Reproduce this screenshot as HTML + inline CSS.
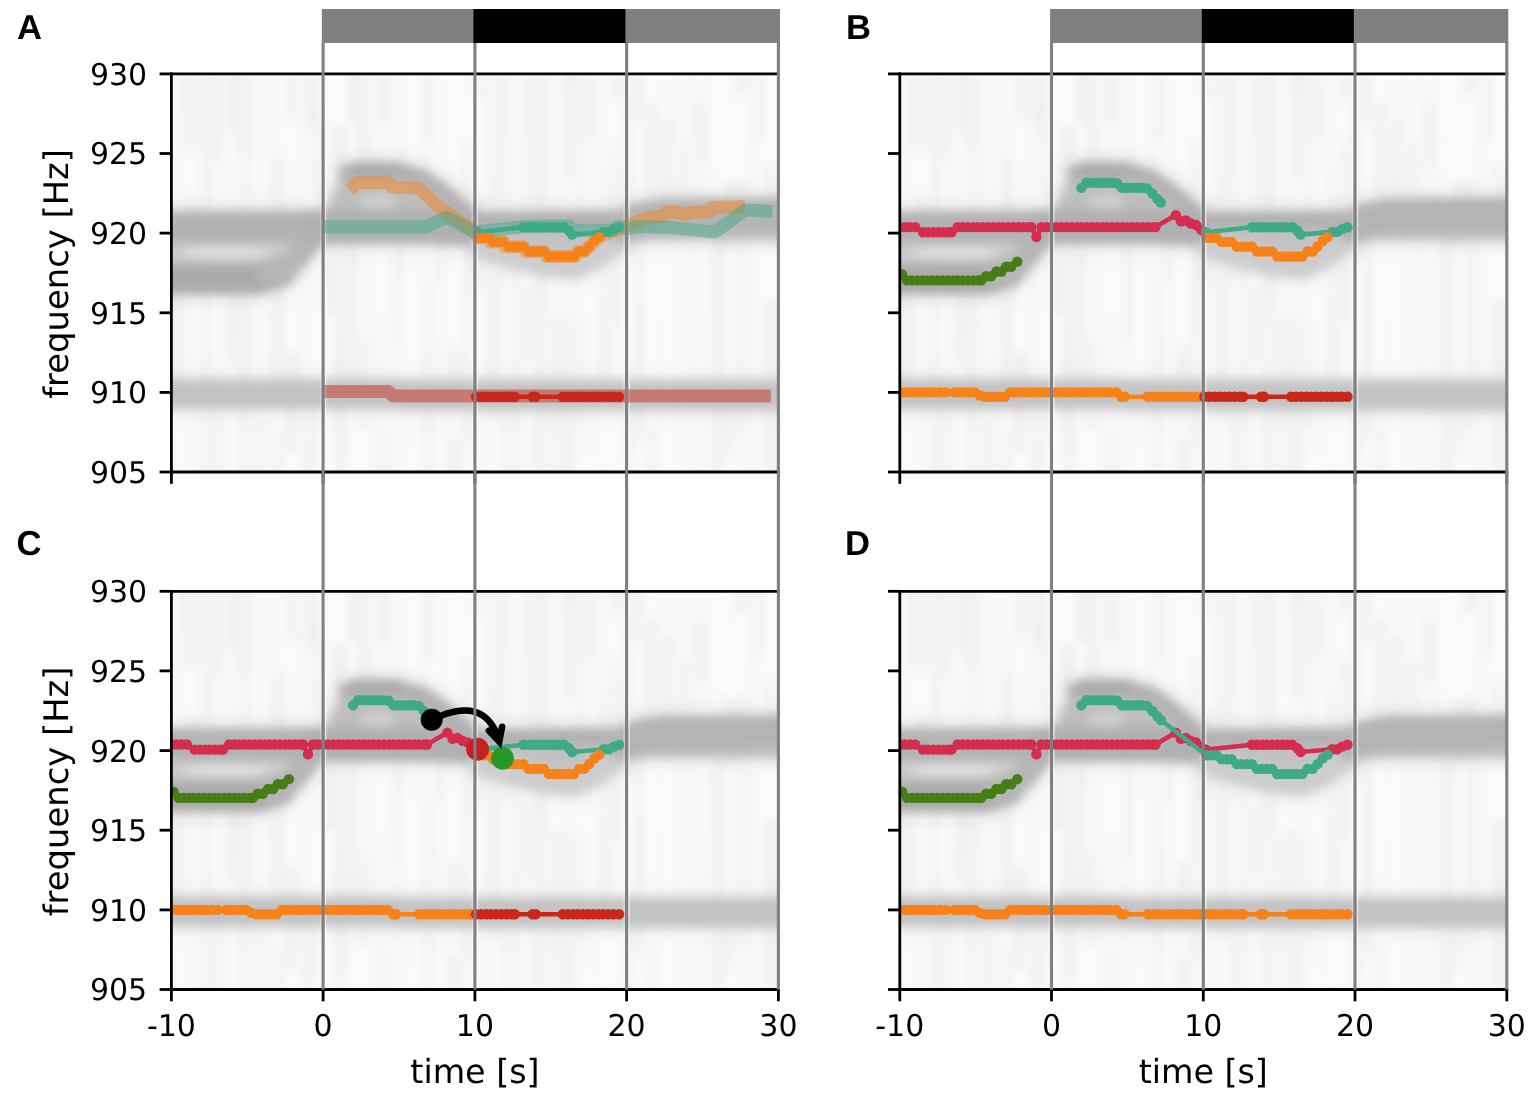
<!DOCTYPE html>
<html><head><meta charset="utf-8"><style>
html,body{margin:0;padding:0;background:#fff;width:1535px;height:1096px;overflow:hidden}
svg{display:block;text-rendering:geometricPrecision}
</style></head><body>
<svg width="1535" height="1096" viewBox="0 0 1535 1096">
<defs>
<filter id="blur" x="-10%" y="-20%" width="120%" height="140%"><feGaussianBlur stdDeviation="4.6"/></filter>
<filter id="blur2" x="-10%" y="-30%" width="120%" height="160%"><feGaussianBlur stdDeviation="11.0"/></filter>
<clipPath id="clipA"><rect x="171.4" y="73.9" width="607.0" height="398.1"/></clipPath>
<clipPath id="clipB"><rect x="899.8" y="73.9" width="607.0" height="398.1"/></clipPath>
<clipPath id="clipC"><rect x="171.4" y="591.3" width="607.0" height="398.2"/></clipPath>
<clipPath id="clipD"><rect x="899.8" y="591.3" width="607.0" height="398.2"/></clipPath>
</defs>
<rect width="1535" height="1096" fill="#fff"/>
<g clip-path="url(#clipA)">
<rect x="171.4" y="73.9" width="607.0" height="398.1" fill="#f7f7f7"/>
<g filter="url(#blur)">
<rect x="168.4" y="53.9" width="7.0" height="54.1" fill="#fcfcfc"/>
<rect x="168.4" y="107.5" width="7.0" height="44.8" fill="#fbfbfb"/>
<rect x="168.4" y="151.8" width="7.0" height="49.0" fill="#fbfbfb"/>
<rect x="168.4" y="200.3" width="7.0" height="45.7" fill="#fbfbfb"/>
<rect x="168.4" y="245.5" width="7.0" height="59.8" fill="#efefef"/>
<rect x="168.4" y="304.8" width="7.0" height="79.5" fill="#efefef"/>
<rect x="168.4" y="383.9" width="7.0" height="62.2" fill="#fbfbfb"/>
<rect x="168.4" y="445.5" width="7.0" height="78.7" fill="#fbfbfb"/>
<rect x="178.1" y="53.9" width="6.2" height="97.0" fill="#efefef"/>
<rect x="178.1" y="150.4" width="6.2" height="92.4" fill="#f9f9f9"/>
<rect x="178.1" y="242.3" width="6.2" height="45.0" fill="#f1f1f1"/>
<rect x="178.1" y="286.8" width="6.2" height="44.7" fill="#f1f1f1"/>
<rect x="178.1" y="331.0" width="6.2" height="66.6" fill="#f1f1f1"/>
<rect x="178.1" y="397.0" width="6.2" height="89.2" fill="#fbfbfb"/>
<rect x="178.1" y="485.7" width="6.2" height="68.3" fill="#fcfcfc"/>
<rect x="188.5" y="53.9" width="9.0" height="98.0" fill="#f3f3f3"/>
<rect x="188.5" y="151.4" width="9.0" height="49.3" fill="#fcfcfc"/>
<rect x="188.5" y="200.2" width="9.0" height="46.2" fill="#efefef"/>
<rect x="188.5" y="245.8" width="9.0" height="96.2" fill="#f9f9f9"/>
<rect x="188.5" y="341.5" width="9.0" height="101.7" fill="#f9f9f9"/>
<rect x="188.5" y="442.8" width="9.0" height="110.5" fill="#f9f9f9"/>
<rect x="203.5" y="53.9" width="8.0" height="67.5" fill="#f1f1f1"/>
<rect x="203.5" y="120.9" width="8.0" height="103.4" fill="#f1f1f1"/>
<rect x="203.5" y="223.8" width="8.0" height="47.9" fill="#f3f3f3"/>
<rect x="203.5" y="271.2" width="8.0" height="87.8" fill="#f3f3f3"/>
<rect x="203.5" y="358.4" width="8.0" height="106.2" fill="#f3f3f3"/>
<rect x="203.5" y="464.1" width="8.0" height="95.3" fill="#efefef"/>
<rect x="213.2" y="53.9" width="7.7" height="108.6" fill="#f1f1f1"/>
<rect x="213.2" y="162.0" width="7.7" height="124.5" fill="#f9f9f9"/>
<rect x="213.2" y="286.0" width="7.7" height="44.0" fill="#fcfcfc"/>
<rect x="213.2" y="329.6" width="7.7" height="47.5" fill="#fbfbfb"/>
<rect x="213.2" y="376.6" width="7.7" height="92.1" fill="#f3f3f3"/>
<rect x="213.2" y="468.1" width="7.7" height="71.1" fill="#f3f3f3"/>
<rect x="228.3" y="53.9" width="9.0" height="81.6" fill="#efefef"/>
<rect x="228.3" y="135.0" width="9.0" height="125.5" fill="#f9f9f9"/>
<rect x="228.3" y="260.0" width="9.0" height="103.2" fill="#efefef"/>
<rect x="228.3" y="362.7" width="9.0" height="46.0" fill="#fcfcfc"/>
<rect x="228.3" y="408.2" width="9.0" height="68.4" fill="#fbfbfb"/>
<rect x="228.3" y="476.0" width="9.0" height="129.9" fill="#f9f9f9"/>
<rect x="239.9" y="53.9" width="7.5" height="100.7" fill="#efefef"/>
<rect x="239.9" y="154.1" width="7.5" height="125.2" fill="#f3f3f3"/>
<rect x="239.9" y="278.7" width="7.5" height="55.6" fill="#efefef"/>
<rect x="239.9" y="333.9" width="7.5" height="84.9" fill="#f1f1f1"/>
<rect x="239.9" y="418.3" width="7.5" height="109.6" fill="#f1f1f1"/>
<rect x="256.7" y="53.9" width="7.6" height="123.0" fill="#f9f9f9"/>
<rect x="256.7" y="176.4" width="7.6" height="47.8" fill="#f9f9f9"/>
<rect x="256.7" y="223.7" width="7.6" height="76.6" fill="#f3f3f3"/>
<rect x="256.7" y="299.8" width="7.6" height="120.0" fill="#f9f9f9"/>
<rect x="256.7" y="419.3" width="7.6" height="118.3" fill="#f3f3f3"/>
<rect x="273.1" y="53.9" width="12.0" height="101.9" fill="#f9f9f9"/>
<rect x="273.1" y="155.3" width="12.0" height="126.7" fill="#f1f1f1"/>
<rect x="273.1" y="281.5" width="12.0" height="48.0" fill="#f1f1f1"/>
<rect x="273.1" y="329.0" width="12.0" height="61.4" fill="#f1f1f1"/>
<rect x="273.1" y="389.9" width="12.0" height="41.6" fill="#fbfbfb"/>
<rect x="273.1" y="431.0" width="12.0" height="56.9" fill="#f3f3f3"/>
<rect x="273.1" y="487.4" width="12.0" height="40.9" fill="#f9f9f9"/>
<rect x="287.5" y="53.9" width="9.2" height="69.2" fill="#f1f1f1"/>
<rect x="287.5" y="122.6" width="9.2" height="102.6" fill="#fbfbfb"/>
<rect x="287.5" y="224.7" width="9.2" height="126.0" fill="#fcfcfc"/>
<rect x="287.5" y="350.2" width="9.2" height="101.4" fill="#efefef"/>
<rect x="287.5" y="451.1" width="9.2" height="81.6" fill="#fcfcfc"/>
<rect x="304.9" y="53.9" width="7.5" height="76.4" fill="#efefef"/>
<rect x="304.9" y="129.8" width="7.5" height="83.8" fill="#f9f9f9"/>
<rect x="304.9" y="213.1" width="7.5" height="46.1" fill="#efefef"/>
<rect x="304.9" y="258.7" width="7.5" height="129.1" fill="#f9f9f9"/>
<rect x="304.9" y="387.4" width="7.5" height="55.1" fill="#f3f3f3"/>
<rect x="304.9" y="442.0" width="7.5" height="94.6" fill="#efefef"/>
<rect x="313.3" y="53.9" width="5.7" height="49.6" fill="#f3f3f3"/>
<rect x="313.3" y="103.0" width="5.7" height="95.7" fill="#efefef"/>
<rect x="313.3" y="198.3" width="5.7" height="119.2" fill="#fbfbfb"/>
<rect x="313.3" y="317.0" width="5.7" height="74.4" fill="#fcfcfc"/>
<rect x="313.3" y="390.8" width="5.7" height="63.2" fill="#f3f3f3"/>
<rect x="313.3" y="453.5" width="5.7" height="94.7" fill="#f9f9f9"/>
<rect x="323.0" y="53.9" width="11.0" height="129.9" fill="#f9f9f9"/>
<rect x="323.0" y="183.3" width="11.0" height="83.7" fill="#f3f3f3"/>
<rect x="323.0" y="266.5" width="11.0" height="48.2" fill="#efefef"/>
<rect x="323.0" y="314.2" width="11.0" height="108.0" fill="#fcfcfc"/>
<rect x="323.0" y="421.7" width="11.0" height="64.3" fill="#fcfcfc"/>
<rect x="323.0" y="485.5" width="11.0" height="55.0" fill="#efefef"/>
<rect x="333.7" y="53.9" width="11.8" height="73.1" fill="#fcfcfc"/>
<rect x="333.7" y="126.5" width="11.8" height="89.4" fill="#efefef"/>
<rect x="333.7" y="215.3" width="11.8" height="108.7" fill="#f3f3f3"/>
<rect x="333.7" y="323.6" width="11.8" height="128.6" fill="#efefef"/>
<rect x="333.7" y="451.6" width="11.8" height="103.2" fill="#f3f3f3"/>
<rect x="347.9" y="53.9" width="11.4" height="72.5" fill="#f1f1f1"/>
<rect x="347.9" y="125.9" width="11.4" height="88.4" fill="#fbfbfb"/>
<rect x="347.9" y="213.8" width="11.4" height="70.2" fill="#f1f1f1"/>
<rect x="347.9" y="283.5" width="11.4" height="95.7" fill="#f1f1f1"/>
<rect x="347.9" y="378.7" width="11.4" height="113.0" fill="#f9f9f9"/>
<rect x="347.9" y="491.3" width="11.4" height="107.1" fill="#f1f1f1"/>
<rect x="358.6" y="53.9" width="8.3" height="106.3" fill="#efefef"/>
<rect x="358.6" y="159.7" width="8.3" height="111.6" fill="#f9f9f9"/>
<rect x="358.6" y="270.8" width="8.3" height="63.8" fill="#fcfcfc"/>
<rect x="358.6" y="334.1" width="8.3" height="95.0" fill="#f3f3f3"/>
<rect x="358.6" y="428.6" width="8.3" height="80.8" fill="#fcfcfc"/>
<rect x="378.1" y="53.9" width="11.8" height="73.3" fill="#f1f1f1"/>
<rect x="378.1" y="126.7" width="11.8" height="49.7" fill="#f9f9f9"/>
<rect x="378.1" y="175.9" width="11.8" height="58.2" fill="#f1f1f1"/>
<rect x="378.1" y="233.6" width="11.8" height="83.9" fill="#fbfbfb"/>
<rect x="378.1" y="317.1" width="11.8" height="116.1" fill="#f9f9f9"/>
<rect x="378.1" y="432.7" width="11.8" height="122.3" fill="#f3f3f3"/>
<rect x="395.6" y="53.9" width="5.2" height="100.0" fill="#f9f9f9"/>
<rect x="395.6" y="153.4" width="5.2" height="110.9" fill="#f1f1f1"/>
<rect x="395.6" y="263.8" width="5.2" height="83.5" fill="#f1f1f1"/>
<rect x="395.6" y="346.8" width="5.2" height="79.6" fill="#fcfcfc"/>
<rect x="395.6" y="425.8" width="5.2" height="70.4" fill="#fcfcfc"/>
<rect x="408.4" y="53.9" width="7.6" height="125.7" fill="#fcfcfc"/>
<rect x="408.4" y="179.1" width="7.6" height="54.8" fill="#f1f1f1"/>
<rect x="408.4" y="233.4" width="7.6" height="43.0" fill="#fbfbfb"/>
<rect x="408.4" y="275.9" width="7.6" height="121.9" fill="#fcfcfc"/>
<rect x="408.4" y="397.3" width="7.6" height="53.7" fill="#fbfbfb"/>
<rect x="408.4" y="450.5" width="7.6" height="128.7" fill="#fcfcfc"/>
<rect x="427.5" y="53.9" width="5.7" height="89.8" fill="#efefef"/>
<rect x="427.5" y="143.2" width="5.7" height="41.8" fill="#fcfcfc"/>
<rect x="427.5" y="184.5" width="5.7" height="99.0" fill="#fbfbfb"/>
<rect x="427.5" y="283.0" width="5.7" height="108.0" fill="#f1f1f1"/>
<rect x="427.5" y="390.5" width="5.7" height="79.5" fill="#f1f1f1"/>
<rect x="427.5" y="469.5" width="5.7" height="114.9" fill="#f1f1f1"/>
<rect x="436.1" y="53.9" width="6.2" height="85.6" fill="#fbfbfb"/>
<rect x="436.1" y="139.0" width="6.2" height="69.8" fill="#fbfbfb"/>
<rect x="436.1" y="208.3" width="6.2" height="78.2" fill="#f1f1f1"/>
<rect x="436.1" y="286.1" width="6.2" height="46.0" fill="#fcfcfc"/>
<rect x="436.1" y="331.5" width="6.2" height="72.3" fill="#f9f9f9"/>
<rect x="436.1" y="403.4" width="6.2" height="100.1" fill="#fbfbfb"/>
<rect x="449.3" y="53.9" width="11.5" height="85.6" fill="#fbfbfb"/>
<rect x="449.3" y="139.0" width="11.5" height="54.2" fill="#fbfbfb"/>
<rect x="449.3" y="192.7" width="11.5" height="42.2" fill="#f9f9f9"/>
<rect x="449.3" y="234.4" width="11.5" height="110.4" fill="#fbfbfb"/>
<rect x="449.3" y="344.3" width="11.5" height="40.9" fill="#f1f1f1"/>
<rect x="449.3" y="384.6" width="11.5" height="56.0" fill="#f9f9f9"/>
<rect x="449.3" y="440.1" width="11.5" height="96.2" fill="#efefef"/>
<rect x="463.9" y="53.9" width="7.0" height="87.2" fill="#fbfbfb"/>
<rect x="463.9" y="140.6" width="7.0" height="83.9" fill="#efefef"/>
<rect x="463.9" y="224.0" width="7.0" height="120.0" fill="#efefef"/>
<rect x="463.9" y="343.5" width="7.0" height="62.9" fill="#f3f3f3"/>
<rect x="463.9" y="405.8" width="7.0" height="44.3" fill="#efefef"/>
<rect x="463.9" y="449.6" width="7.0" height="86.2" fill="#fbfbfb"/>
<rect x="472.6" y="53.9" width="11.3" height="46.2" fill="#f3f3f3"/>
<rect x="472.6" y="99.6" width="11.3" height="95.6" fill="#fbfbfb"/>
<rect x="472.6" y="194.7" width="11.3" height="95.1" fill="#f1f1f1"/>
<rect x="472.6" y="289.3" width="11.3" height="102.8" fill="#f9f9f9"/>
<rect x="472.6" y="391.6" width="11.3" height="86.2" fill="#f9f9f9"/>
<rect x="472.6" y="477.4" width="11.3" height="86.2" fill="#f1f1f1"/>
<rect x="488.9" y="53.9" width="11.2" height="125.3" fill="#f3f3f3"/>
<rect x="488.9" y="178.7" width="11.2" height="123.6" fill="#f1f1f1"/>
<rect x="488.9" y="301.7" width="11.2" height="116.1" fill="#f1f1f1"/>
<rect x="488.9" y="417.3" width="11.2" height="78.0" fill="#f9f9f9"/>
<rect x="502.3" y="53.9" width="5.1" height="62.2" fill="#efefef"/>
<rect x="502.3" y="115.6" width="5.1" height="59.6" fill="#f3f3f3"/>
<rect x="502.3" y="174.7" width="5.1" height="111.1" fill="#f1f1f1"/>
<rect x="502.3" y="285.3" width="5.1" height="125.1" fill="#fcfcfc"/>
<rect x="502.3" y="409.8" width="5.1" height="99.9" fill="#f1f1f1"/>
<rect x="513.5" y="53.9" width="5.6" height="82.6" fill="#fcfcfc"/>
<rect x="513.5" y="136.0" width="5.6" height="126.2" fill="#f9f9f9"/>
<rect x="513.5" y="261.7" width="5.6" height="120.1" fill="#f1f1f1"/>
<rect x="513.5" y="381.4" width="5.6" height="129.6" fill="#f1f1f1"/>
<rect x="523.7" y="53.9" width="7.8" height="86.9" fill="#f3f3f3"/>
<rect x="523.7" y="140.3" width="7.8" height="78.4" fill="#f3f3f3"/>
<rect x="523.7" y="218.2" width="7.8" height="69.2" fill="#fcfcfc"/>
<rect x="523.7" y="286.9" width="7.8" height="73.4" fill="#f3f3f3"/>
<rect x="523.7" y="359.8" width="7.8" height="90.4" fill="#f9f9f9"/>
<rect x="523.7" y="449.7" width="7.8" height="103.8" fill="#f9f9f9"/>
<rect x="535.8" y="53.9" width="9.3" height="86.6" fill="#efefef"/>
<rect x="535.8" y="140.0" width="9.3" height="50.7" fill="#f1f1f1"/>
<rect x="535.8" y="190.2" width="9.3" height="128.0" fill="#efefef"/>
<rect x="535.8" y="317.6" width="9.3" height="48.1" fill="#f3f3f3"/>
<rect x="535.8" y="365.2" width="9.3" height="44.1" fill="#f1f1f1"/>
<rect x="535.8" y="408.7" width="9.3" height="64.8" fill="#f1f1f1"/>
<rect x="535.8" y="473.1" width="9.3" height="114.3" fill="#fcfcfc"/>
<rect x="553.5" y="53.9" width="6.5" height="53.9" fill="#fbfbfb"/>
<rect x="553.5" y="107.3" width="6.5" height="91.9" fill="#fcfcfc"/>
<rect x="553.5" y="198.7" width="6.5" height="69.9" fill="#f3f3f3"/>
<rect x="553.5" y="268.1" width="6.5" height="45.7" fill="#fcfcfc"/>
<rect x="553.5" y="313.3" width="6.5" height="57.0" fill="#efefef"/>
<rect x="553.5" y="369.8" width="6.5" height="64.7" fill="#efefef"/>
<rect x="553.5" y="434.0" width="6.5" height="97.6" fill="#f3f3f3"/>
<rect x="562.8" y="53.9" width="11.0" height="46.5" fill="#efefef"/>
<rect x="562.8" y="99.9" width="11.0" height="81.3" fill="#f3f3f3"/>
<rect x="562.8" y="180.7" width="11.0" height="130.0" fill="#f9f9f9"/>
<rect x="562.8" y="310.2" width="11.0" height="123.9" fill="#f3f3f3"/>
<rect x="562.8" y="433.6" width="11.0" height="96.5" fill="#efefef"/>
<rect x="577.1" y="53.9" width="6.4" height="50.4" fill="#f1f1f1"/>
<rect x="577.1" y="103.8" width="6.4" height="64.1" fill="#f1f1f1"/>
<rect x="577.1" y="167.3" width="6.4" height="58.7" fill="#f3f3f3"/>
<rect x="577.1" y="225.5" width="6.4" height="97.1" fill="#fbfbfb"/>
<rect x="577.1" y="322.1" width="6.4" height="108.9" fill="#f3f3f3"/>
<rect x="577.1" y="430.4" width="6.4" height="80.6" fill="#fcfcfc"/>
<rect x="587.5" y="53.9" width="7.2" height="42.1" fill="#f3f3f3"/>
<rect x="587.5" y="95.5" width="7.2" height="43.8" fill="#efefef"/>
<rect x="587.5" y="138.9" width="7.2" height="106.5" fill="#fbfbfb"/>
<rect x="587.5" y="244.8" width="7.2" height="128.5" fill="#fbfbfb"/>
<rect x="587.5" y="372.9" width="7.2" height="83.2" fill="#f9f9f9"/>
<rect x="587.5" y="455.6" width="7.2" height="50.1" fill="#fcfcfc"/>
<rect x="600.8" y="53.9" width="8.3" height="115.6" fill="#f9f9f9"/>
<rect x="600.8" y="169.0" width="8.3" height="127.8" fill="#f3f3f3"/>
<rect x="600.8" y="296.3" width="8.3" height="102.4" fill="#f1f1f1"/>
<rect x="600.8" y="398.2" width="8.3" height="71.3" fill="#fcfcfc"/>
<rect x="600.8" y="469.1" width="8.3" height="106.1" fill="#f1f1f1"/>
<rect x="613.7" y="53.9" width="7.2" height="45.4" fill="#f1f1f1"/>
<rect x="613.7" y="98.8" width="7.2" height="41.8" fill="#fcfcfc"/>
<rect x="613.7" y="140.1" width="7.2" height="107.2" fill="#f3f3f3"/>
<rect x="613.7" y="246.8" width="7.2" height="79.3" fill="#efefef"/>
<rect x="613.7" y="325.5" width="7.2" height="48.1" fill="#f9f9f9"/>
<rect x="613.7" y="373.1" width="7.2" height="118.8" fill="#fcfcfc"/>
<rect x="613.7" y="491.5" width="7.2" height="127.9" fill="#fbfbfb"/>
<rect x="624.8" y="53.9" width="6.8" height="81.9" fill="#f1f1f1"/>
<rect x="624.8" y="135.3" width="6.8" height="64.7" fill="#efefef"/>
<rect x="624.8" y="199.5" width="6.8" height="64.2" fill="#f3f3f3"/>
<rect x="624.8" y="263.2" width="6.8" height="128.0" fill="#fbfbfb"/>
<rect x="624.8" y="390.7" width="6.8" height="69.6" fill="#efefef"/>
<rect x="624.8" y="459.8" width="6.8" height="127.4" fill="#f3f3f3"/>
<rect x="635.6" y="53.9" width="5.9" height="70.7" fill="#efefef"/>
<rect x="635.6" y="124.1" width="5.9" height="83.2" fill="#fbfbfb"/>
<rect x="635.6" y="206.8" width="5.9" height="99.5" fill="#f1f1f1"/>
<rect x="635.6" y="305.8" width="5.9" height="85.9" fill="#efefef"/>
<rect x="635.6" y="391.3" width="5.9" height="48.7" fill="#efefef"/>
<rect x="635.6" y="439.4" width="5.9" height="53.4" fill="#fbfbfb"/>
<rect x="635.6" y="492.4" width="5.9" height="44.3" fill="#efefef"/>
<rect x="647.4" y="53.9" width="9.3" height="48.1" fill="#fbfbfb"/>
<rect x="647.4" y="101.5" width="9.3" height="117.3" fill="#f1f1f1"/>
<rect x="647.4" y="218.3" width="9.3" height="99.7" fill="#fcfcfc"/>
<rect x="647.4" y="317.5" width="9.3" height="111.1" fill="#fbfbfb"/>
<rect x="647.4" y="428.0" width="9.3" height="75.6" fill="#f3f3f3"/>
<rect x="663.9" y="53.9" width="8.3" height="66.1" fill="#fbfbfb"/>
<rect x="663.9" y="119.5" width="8.3" height="98.4" fill="#efefef"/>
<rect x="663.9" y="217.4" width="8.3" height="114.7" fill="#fcfcfc"/>
<rect x="663.9" y="331.6" width="8.3" height="120.8" fill="#fcfcfc"/>
<rect x="663.9" y="451.9" width="8.3" height="79.1" fill="#fcfcfc"/>
<rect x="681.5" y="53.9" width="5.6" height="87.6" fill="#fbfbfb"/>
<rect x="681.5" y="141.0" width="5.6" height="91.7" fill="#efefef"/>
<rect x="681.5" y="232.2" width="5.6" height="114.9" fill="#fbfbfb"/>
<rect x="681.5" y="346.6" width="5.6" height="112.3" fill="#fcfcfc"/>
<rect x="681.5" y="458.4" width="5.6" height="102.0" fill="#fcfcfc"/>
<rect x="697.2" y="53.9" width="5.2" height="44.3" fill="#fcfcfc"/>
<rect x="697.2" y="97.7" width="5.2" height="73.0" fill="#efefef"/>
<rect x="697.2" y="170.1" width="5.2" height="74.4" fill="#f9f9f9"/>
<rect x="697.2" y="244.0" width="5.2" height="90.8" fill="#fcfcfc"/>
<rect x="697.2" y="334.3" width="5.2" height="42.2" fill="#fbfbfb"/>
<rect x="697.2" y="376.0" width="5.2" height="101.8" fill="#f9f9f9"/>
<rect x="697.2" y="477.2" width="5.2" height="64.2" fill="#f9f9f9"/>
<rect x="714.6" y="53.9" width="10.2" height="85.8" fill="#fbfbfb"/>
<rect x="714.6" y="139.2" width="10.2" height="48.8" fill="#fbfbfb"/>
<rect x="714.6" y="187.4" width="10.2" height="46.4" fill="#fcfcfc"/>
<rect x="714.6" y="233.4" width="10.2" height="83.1" fill="#efefef"/>
<rect x="714.6" y="316.0" width="10.2" height="116.7" fill="#f1f1f1"/>
<rect x="714.6" y="432.2" width="10.2" height="106.1" fill="#f1f1f1"/>
<rect x="725.6" y="53.9" width="9.5" height="81.9" fill="#f9f9f9"/>
<rect x="725.6" y="135.3" width="9.5" height="47.4" fill="#fcfcfc"/>
<rect x="725.6" y="182.2" width="9.5" height="66.4" fill="#efefef"/>
<rect x="725.6" y="248.1" width="9.5" height="96.0" fill="#fcfcfc"/>
<rect x="725.6" y="343.6" width="9.5" height="58.3" fill="#fbfbfb"/>
<rect x="725.6" y="401.5" width="9.5" height="53.8" fill="#f3f3f3"/>
<rect x="725.6" y="454.7" width="9.5" height="99.1" fill="#fcfcfc"/>
<rect x="737.4" y="53.9" width="8.9" height="41.6" fill="#efefef"/>
<rect x="737.4" y="95.0" width="8.9" height="84.2" fill="#fcfcfc"/>
<rect x="737.4" y="178.7" width="8.9" height="49.5" fill="#f1f1f1"/>
<rect x="737.4" y="227.7" width="8.9" height="101.3" fill="#f3f3f3"/>
<rect x="737.4" y="328.5" width="8.9" height="104.3" fill="#f3f3f3"/>
<rect x="737.4" y="432.3" width="8.9" height="82.3" fill="#f9f9f9"/>
<rect x="754.5" y="53.9" width="12.1" height="89.9" fill="#f3f3f3"/>
<rect x="754.5" y="143.3" width="12.1" height="128.5" fill="#f9f9f9"/>
<rect x="754.5" y="271.3" width="12.1" height="42.1" fill="#f9f9f9"/>
<rect x="754.5" y="312.9" width="12.1" height="47.4" fill="#fbfbfb"/>
<rect x="754.5" y="359.8" width="12.1" height="127.6" fill="#f9f9f9"/>
<rect x="754.5" y="486.9" width="12.1" height="130.0" fill="#f9f9f9"/>
<rect x="765.2" y="53.9" width="11.7" height="59.5" fill="#fbfbfb"/>
<rect x="765.2" y="112.9" width="11.7" height="48.6" fill="#fcfcfc"/>
<rect x="765.2" y="161.0" width="11.7" height="87.7" fill="#f3f3f3"/>
<rect x="765.2" y="248.2" width="11.7" height="52.4" fill="#fcfcfc"/>
<rect x="765.2" y="300.1" width="11.7" height="86.3" fill="#efefef"/>
<rect x="765.2" y="385.9" width="11.7" height="103.8" fill="#f1f1f1"/>
<rect x="765.2" y="489.2" width="11.7" height="85.3" fill="#f9f9f9"/>
<rect x="778.1" y="53.9" width="5.8" height="126.0" fill="#fcfcfc"/>
<rect x="778.1" y="179.4" width="5.8" height="81.1" fill="#f3f3f3"/>
<rect x="778.1" y="260.0" width="5.8" height="105.9" fill="#f9f9f9"/>
<rect x="778.1" y="365.4" width="5.8" height="71.5" fill="#f3f3f3"/>
<rect x="778.1" y="436.4" width="5.8" height="51.4" fill="#f3f3f3"/>
<rect x="778.1" y="487.2" width="5.8" height="40.7" fill="#f3f3f3"/>
</g>
<g filter="url(#blur2)" opacity="0.45">
<path d="M156.2,394.0 L391.4,394.0 L402.1,395.1 L793.6,395.1" fill="none" stroke="#c3c3c3" stroke-width="28.7" stroke-linejoin="round" stroke-linecap="round" opacity="1.00"/>
<path d="M156.2,218.8 L311.0,218.8 L308.0,257.0 L285.2,280.9 L156.2,285.7Z" fill="#cbcbcb" opacity="1.00"/>
<ellipse cx="226.0" cy="252.7" rx="44.0" ry="5.3" fill="#e0e0e0" opacity="1.00"/>
<path d="M156.2,227.6 L330.7,226.8" fill="none" stroke="#b3b3b3" stroke-width="31.8" stroke-linejoin="round" stroke-linecap="round" opacity="1.00"/>
<path d="M156.2,278.5 L259.4,278.5 L280.7,271.4" fill="none" stroke="#aaaaaa" stroke-width="30.3" stroke-linejoin="round" stroke-linecap="round" opacity="1.00"/>
<path d="M270.0,274.5 L280.7,269.8 L294.3,260.2 L306.5,244.3 L318.6,230.0" fill="none" stroke="#b6b6b6" stroke-width="23.9" stroke-linejoin="round" stroke-linecap="round" opacity="1.00"/>
<path d="M314.0,225.2 L327.7,207.7 L339.8,182.2 L355.0,166.3 L408.1,166.3 L426.3,174.2 L447.6,190.1 L473.4,214.0 L473.4,225.2Z" fill="#bebebe" opacity="1.00"/>
<path d="M347.4,173.4 L359.6,170.2 L399.0,171.8 L423.3,179.0 L447.6,196.5 L471.9,218.8" fill="none" stroke="#b2b2b2" stroke-width="17.5" stroke-linejoin="round" stroke-linecap="round" opacity="1.00"/>
<path d="M356.5,171.0 L396.0,171.0" fill="none" stroke="#aaaaaa" stroke-width="14.3" stroke-linejoin="round" stroke-linecap="round" opacity="1.00"/>
<ellipse cx="377.8" cy="202.1" rx="18.2" ry="8.0" fill="#cecece" opacity="1.00"/>
<path d="M315.6,226.8 L429.4,226.8 L474.9,229.2 L626.6,227.6" fill="none" stroke="#b0b0b0" stroke-width="33.4" stroke-linejoin="round" stroke-linecap="round" opacity="1.00"/>
<path d="M474.9,228.4 L490.1,239.5 L505.2,245.9 L525.0,250.7 L546.2,257.0 L575.1,258.6 L588.7,252.2 L600.9,239.5 L619.1,230.0 L626.6,228.4Z" fill="#c2c2c2" opacity="1.00"/>
<path d="M482.5,247.5 L505.2,253.8 L543.2,263.4 L575.1,266.6 L596.3,255.4 L619.1,237.9" fill="none" stroke="#cdcdcd" stroke-width="23.9" stroke-linejoin="round" stroke-linecap="round" opacity="1.00"/>
<path d="M620.6,230.0 L641.8,228.4 L793.6,227.6" fill="none" stroke="#bdbdbd" stroke-width="23.9" stroke-linejoin="round" stroke-linecap="round" opacity="1.00"/>
<path d="M620.6,226.0 L641.8,218.0 L664.6,214.8 L793.6,214.0" fill="none" stroke="#b4b4b4" stroke-width="31.8" stroke-linejoin="round" stroke-linecap="round" opacity="1.00"/>
</g>
<g filter="url(#blur)">
<path d="M156.2,394.0 L391.4,394.0 L402.1,395.1 L793.6,395.1" fill="none" stroke="#c3c3c3" stroke-width="28.7" stroke-linejoin="round" stroke-linecap="round" opacity="1.00"/>
<path d="M156.2,218.8 L311.0,218.8 L308.0,257.0 L285.2,280.9 L156.2,285.7Z" fill="#cbcbcb" opacity="1.00"/>
<ellipse cx="226.0" cy="252.7" rx="44.0" ry="5.3" fill="#e0e0e0" opacity="1.00"/>
<path d="M156.2,227.6 L330.7,226.8" fill="none" stroke="#b3b3b3" stroke-width="31.8" stroke-linejoin="round" stroke-linecap="round" opacity="1.00"/>
<path d="M156.2,278.5 L259.4,278.5 L280.7,271.4" fill="none" stroke="#aaaaaa" stroke-width="30.3" stroke-linejoin="round" stroke-linecap="round" opacity="1.00"/>
<path d="M270.0,274.5 L280.7,269.8 L294.3,260.2 L306.5,244.3 L318.6,230.0" fill="none" stroke="#b6b6b6" stroke-width="23.9" stroke-linejoin="round" stroke-linecap="round" opacity="1.00"/>
<path d="M314.0,225.2 L327.7,207.7 L339.8,182.2 L355.0,166.3 L408.1,166.3 L426.3,174.2 L447.6,190.1 L473.4,214.0 L473.4,225.2Z" fill="#bebebe" opacity="1.00"/>
<path d="M347.4,173.4 L359.6,170.2 L399.0,171.8 L423.3,179.0 L447.6,196.5 L471.9,218.8" fill="none" stroke="#b2b2b2" stroke-width="17.5" stroke-linejoin="round" stroke-linecap="round" opacity="1.00"/>
<path d="M356.5,171.0 L396.0,171.0" fill="none" stroke="#aaaaaa" stroke-width="14.3" stroke-linejoin="round" stroke-linecap="round" opacity="1.00"/>
<ellipse cx="377.8" cy="202.1" rx="18.2" ry="8.0" fill="#cecece" opacity="1.00"/>
<path d="M315.6,226.8 L429.4,226.8 L474.9,229.2 L626.6,227.6" fill="none" stroke="#b0b0b0" stroke-width="33.4" stroke-linejoin="round" stroke-linecap="round" opacity="1.00"/>
<path d="M474.9,228.4 L490.1,239.5 L505.2,245.9 L525.0,250.7 L546.2,257.0 L575.1,258.6 L588.7,252.2 L600.9,239.5 L619.1,230.0 L626.6,228.4Z" fill="#c2c2c2" opacity="1.00"/>
<path d="M482.5,247.5 L505.2,253.8 L543.2,263.4 L575.1,266.6 L596.3,255.4 L619.1,237.9" fill="none" stroke="#cdcdcd" stroke-width="23.9" stroke-linejoin="round" stroke-linecap="round" opacity="1.00"/>
<path d="M620.6,230.0 L641.8,228.4 L793.6,227.6" fill="none" stroke="#bdbdbd" stroke-width="23.9" stroke-linejoin="round" stroke-linecap="round" opacity="1.00"/>
<path d="M620.6,226.0 L641.8,218.0 L664.6,214.8 L793.6,214.0" fill="none" stroke="#b4b4b4" stroke-width="31.8" stroke-linejoin="round" stroke-linecap="round" opacity="1.00"/>
</g>
<g stroke="#ffffff" stroke-width="1.6">
<path d="M325.6,75.5 L325.6,470.4" opacity="0.55"/>
<path d="M320.6,75.5 L320.6,470.4" opacity="0.25"/>
<path d="M477.4,75.5 L477.4,470.4" opacity="0.55"/>
<path d="M472.4,75.5 L472.4,470.4" opacity="0.25"/>
<path d="M629.1,75.5 L629.1,470.4" opacity="0.55"/>
<path d="M624.1,75.5 L624.1,470.4" opacity="0.25"/>
</g>
<path d="M349.7,190.1 L357.3,182.7 L388.4,182.7 L392.2,187.3 L418.8,188.1 L438.5,206.9 L474.9,231.5 L477.9,237.8 L489.3,237.8 L490.8,241.9 L503.7,241.9 L505.2,246.7 L523.5,246.7 L525.7,251.5 L544.7,251.5 L547.0,256.5 L575.1,256.5 L577.3,251.5 L584.2,251.5 L599.3,237.1 L628.2,225.2 L647.9,217.2 L663.8,216.1 L666.9,212.1 L676.7,212.1 L683.6,214.8 L690.4,212.8 L710.1,211.6 L712.4,207.2 L745.0,206.7" fill="none" stroke="#f8821a" stroke-width="13.0" stroke-linejoin="round" stroke-linecap="butt" opacity="0.47"/>
<path d="M323.1,226.8 L426.3,226.8 L446.8,217.2 L474.9,232.3 L523.5,226.5 L569.0,226.0 L572.0,230.3 L613.8,230.3 L617.5,226.5 L628.2,228.7 L637.3,226.6 L670.7,227.6 L714.7,232.0 L745.0,209.9 L772.3,211.6" fill="none" stroke="#3eaa87" stroke-width="13.0" stroke-linejoin="round" stroke-linecap="butt" opacity="0.47"/>
<path d="M323.1,391.4 L388.4,391.4 L393.0,396.0 L770.8,396.0" fill="none" stroke="#c8281a" stroke-width="13.0" stroke-linejoin="round" stroke-linecap="butt" opacity="0.47"/>
<path d="M477.6,232.2 L523.5,227.2 L528.5,227.2 L533.6,227.2 L538.6,227.2 L543.7,227.2 L548.8,227.2 L553.8,227.2 L558.9,227.2 L563.9,227.2 L569.0,230.8 L572.2,234.6 L603.6,231.9 L608.6,231.9 L613.7,229.1 L619.1,227.2" fill="none" stroke="#3eaa87" stroke-width="4.6" stroke-linejoin="round"/>
<g fill="#3eaa87">
<circle cx="477.6" cy="232.2" r="5.20"/>
<circle cx="523.5" cy="227.2" r="5.20"/>
<circle cx="528.5" cy="227.2" r="5.20"/>
<circle cx="533.6" cy="227.2" r="5.20"/>
<circle cx="538.6" cy="227.2" r="5.20"/>
<circle cx="543.7" cy="227.2" r="5.20"/>
<circle cx="548.8" cy="227.2" r="5.20"/>
<circle cx="553.8" cy="227.2" r="5.20"/>
<circle cx="558.9" cy="227.2" r="5.20"/>
<circle cx="563.9" cy="227.2" r="5.20"/>
<circle cx="569.0" cy="230.8" r="5.20"/>
<circle cx="572.2" cy="234.6" r="5.20"/>
<circle cx="603.6" cy="231.9" r="5.20"/>
<circle cx="608.6" cy="231.9" r="5.20"/>
<circle cx="613.7" cy="229.1" r="5.20"/>
<circle cx="619.1" cy="227.2" r="5.20"/>
</g>
<path d="M477.9,237.8 L483.0,237.8 L488.1,237.8 L493.1,241.9 L498.2,241.9 L503.2,241.9 L508.3,246.7 L513.3,246.7 L518.4,246.7 L523.5,246.7 L528.5,251.5 L533.6,251.5 L538.6,251.5 L543.7,251.5 L548.8,256.5 L553.8,256.5 L558.9,256.5 L563.9,256.5 L569.0,256.5 L574.0,256.5 L579.1,251.5 L584.2,251.5 L589.2,246.5 L594.3,240.8 L599.3,237.1" fill="none" stroke="#f8821a" stroke-width="4.6" stroke-linejoin="round"/>
<g fill="#f8821a">
<circle cx="477.9" cy="237.8" r="5.20"/>
<circle cx="483.0" cy="237.8" r="5.20"/>
<circle cx="488.1" cy="237.8" r="5.20"/>
<circle cx="493.1" cy="241.9" r="5.20"/>
<circle cx="498.2" cy="241.9" r="5.20"/>
<circle cx="503.2" cy="241.9" r="5.20"/>
<circle cx="508.3" cy="246.7" r="5.20"/>
<circle cx="513.3" cy="246.7" r="5.20"/>
<circle cx="518.4" cy="246.7" r="5.20"/>
<circle cx="523.5" cy="246.7" r="5.20"/>
<circle cx="528.5" cy="251.5" r="5.20"/>
<circle cx="533.6" cy="251.5" r="5.20"/>
<circle cx="538.6" cy="251.5" r="5.20"/>
<circle cx="543.7" cy="251.5" r="5.20"/>
<circle cx="548.8" cy="256.5" r="5.20"/>
<circle cx="553.8" cy="256.5" r="5.20"/>
<circle cx="558.9" cy="256.5" r="5.20"/>
<circle cx="563.9" cy="256.5" r="5.20"/>
<circle cx="569.0" cy="256.5" r="5.20"/>
<circle cx="574.0" cy="256.5" r="5.20"/>
<circle cx="579.1" cy="251.5" r="5.20"/>
<circle cx="584.2" cy="251.5" r="5.20"/>
<circle cx="589.2" cy="246.5" r="5.20"/>
<circle cx="594.3" cy="240.8" r="5.20"/>
<circle cx="599.3" cy="237.1" r="5.20"/>
</g>
<path d="M476.0,396.8 L481.0,396.8 L486.1,396.8 L491.1,396.8 L496.2,396.8 L501.3,396.8 L506.3,396.8 L511.4,396.8 L514.8,396.8 L532.6,396.8 L535.6,396.8 L562.8,396.8 L567.8,396.8 L572.9,396.8 L577.9,396.8 L583.0,396.8 L588.1,396.8 L593.1,396.8 L598.2,396.8 L603.2,396.8 L608.3,396.8 L613.3,396.8 L619.1,396.8" fill="none" stroke="#c8281a" stroke-width="4.6" stroke-linejoin="round"/>
<g fill="#c8281a">
<circle cx="476.0" cy="396.8" r="5.20"/>
<circle cx="481.0" cy="396.8" r="5.20"/>
<circle cx="486.1" cy="396.8" r="5.20"/>
<circle cx="491.1" cy="396.8" r="5.20"/>
<circle cx="496.2" cy="396.8" r="5.20"/>
<circle cx="501.3" cy="396.8" r="5.20"/>
<circle cx="506.3" cy="396.8" r="5.20"/>
<circle cx="511.4" cy="396.8" r="5.20"/>
<circle cx="514.8" cy="396.8" r="5.20"/>
<circle cx="532.6" cy="396.8" r="5.20"/>
<circle cx="535.6" cy="396.8" r="5.20"/>
<circle cx="562.8" cy="396.8" r="5.20"/>
<circle cx="567.8" cy="396.8" r="5.20"/>
<circle cx="572.9" cy="396.8" r="5.20"/>
<circle cx="577.9" cy="396.8" r="5.20"/>
<circle cx="583.0" cy="396.8" r="5.20"/>
<circle cx="588.1" cy="396.8" r="5.20"/>
<circle cx="593.1" cy="396.8" r="5.20"/>
<circle cx="598.2" cy="396.8" r="5.20"/>
<circle cx="603.2" cy="396.8" r="5.20"/>
<circle cx="608.3" cy="396.8" r="5.20"/>
<circle cx="613.3" cy="396.8" r="5.20"/>
<circle cx="619.1" cy="396.8" r="5.20"/>
</g>
</g>
<g clip-path="url(#clipB)">
<rect x="899.8" y="73.9" width="607.0" height="398.1" fill="#f7f7f7"/>
<g filter="url(#blur)">
<rect x="896.8" y="53.9" width="7.0" height="54.1" fill="#fcfcfc"/>
<rect x="896.8" y="107.5" width="7.0" height="44.8" fill="#fbfbfb"/>
<rect x="896.8" y="151.8" width="7.0" height="49.0" fill="#fbfbfb"/>
<rect x="896.8" y="200.3" width="7.0" height="45.7" fill="#fbfbfb"/>
<rect x="896.8" y="245.5" width="7.0" height="59.8" fill="#efefef"/>
<rect x="896.8" y="304.8" width="7.0" height="79.5" fill="#efefef"/>
<rect x="896.8" y="383.9" width="7.0" height="62.2" fill="#fbfbfb"/>
<rect x="896.8" y="445.5" width="7.0" height="78.7" fill="#fbfbfb"/>
<rect x="906.5" y="53.9" width="6.2" height="97.0" fill="#efefef"/>
<rect x="906.5" y="150.4" width="6.2" height="92.4" fill="#f9f9f9"/>
<rect x="906.5" y="242.3" width="6.2" height="45.0" fill="#f1f1f1"/>
<rect x="906.5" y="286.8" width="6.2" height="44.7" fill="#f1f1f1"/>
<rect x="906.5" y="331.0" width="6.2" height="66.6" fill="#f1f1f1"/>
<rect x="906.5" y="397.0" width="6.2" height="89.2" fill="#fbfbfb"/>
<rect x="906.5" y="485.7" width="6.2" height="68.3" fill="#fcfcfc"/>
<rect x="916.9" y="53.9" width="9.0" height="98.0" fill="#f3f3f3"/>
<rect x="916.9" y="151.4" width="9.0" height="49.3" fill="#fcfcfc"/>
<rect x="916.9" y="200.2" width="9.0" height="46.2" fill="#efefef"/>
<rect x="916.9" y="245.8" width="9.0" height="96.2" fill="#f9f9f9"/>
<rect x="916.9" y="341.5" width="9.0" height="101.7" fill="#f9f9f9"/>
<rect x="916.9" y="442.8" width="9.0" height="110.5" fill="#f9f9f9"/>
<rect x="931.9" y="53.9" width="8.0" height="67.5" fill="#f1f1f1"/>
<rect x="931.9" y="120.9" width="8.0" height="103.4" fill="#f1f1f1"/>
<rect x="931.9" y="223.8" width="8.0" height="47.9" fill="#f3f3f3"/>
<rect x="931.9" y="271.2" width="8.0" height="87.8" fill="#f3f3f3"/>
<rect x="931.9" y="358.4" width="8.0" height="106.2" fill="#f3f3f3"/>
<rect x="931.9" y="464.1" width="8.0" height="95.3" fill="#efefef"/>
<rect x="941.6" y="53.9" width="7.7" height="108.6" fill="#f1f1f1"/>
<rect x="941.6" y="162.0" width="7.7" height="124.5" fill="#f9f9f9"/>
<rect x="941.6" y="286.0" width="7.7" height="44.0" fill="#fcfcfc"/>
<rect x="941.6" y="329.6" width="7.7" height="47.5" fill="#fbfbfb"/>
<rect x="941.6" y="376.6" width="7.7" height="92.1" fill="#f3f3f3"/>
<rect x="941.6" y="468.1" width="7.7" height="71.1" fill="#f3f3f3"/>
<rect x="956.7" y="53.9" width="9.0" height="81.6" fill="#efefef"/>
<rect x="956.7" y="135.0" width="9.0" height="125.5" fill="#f9f9f9"/>
<rect x="956.7" y="260.0" width="9.0" height="103.2" fill="#efefef"/>
<rect x="956.7" y="362.7" width="9.0" height="46.0" fill="#fcfcfc"/>
<rect x="956.7" y="408.2" width="9.0" height="68.4" fill="#fbfbfb"/>
<rect x="956.7" y="476.0" width="9.0" height="129.9" fill="#f9f9f9"/>
<rect x="968.3" y="53.9" width="7.5" height="100.7" fill="#efefef"/>
<rect x="968.3" y="154.1" width="7.5" height="125.2" fill="#f3f3f3"/>
<rect x="968.3" y="278.7" width="7.5" height="55.6" fill="#efefef"/>
<rect x="968.3" y="333.9" width="7.5" height="84.9" fill="#f1f1f1"/>
<rect x="968.3" y="418.3" width="7.5" height="109.6" fill="#f1f1f1"/>
<rect x="985.1" y="53.9" width="7.6" height="123.0" fill="#f9f9f9"/>
<rect x="985.1" y="176.4" width="7.6" height="47.8" fill="#f9f9f9"/>
<rect x="985.1" y="223.7" width="7.6" height="76.6" fill="#f3f3f3"/>
<rect x="985.1" y="299.8" width="7.6" height="120.0" fill="#f9f9f9"/>
<rect x="985.1" y="419.3" width="7.6" height="118.3" fill="#f3f3f3"/>
<rect x="1001.5" y="53.9" width="12.0" height="101.9" fill="#f9f9f9"/>
<rect x="1001.5" y="155.3" width="12.0" height="126.7" fill="#f1f1f1"/>
<rect x="1001.5" y="281.5" width="12.0" height="48.0" fill="#f1f1f1"/>
<rect x="1001.5" y="329.0" width="12.0" height="61.4" fill="#f1f1f1"/>
<rect x="1001.5" y="389.9" width="12.0" height="41.6" fill="#fbfbfb"/>
<rect x="1001.5" y="431.0" width="12.0" height="56.9" fill="#f3f3f3"/>
<rect x="1001.5" y="487.4" width="12.0" height="40.9" fill="#f9f9f9"/>
<rect x="1015.9" y="53.9" width="9.2" height="69.2" fill="#f1f1f1"/>
<rect x="1015.9" y="122.6" width="9.2" height="102.6" fill="#fbfbfb"/>
<rect x="1015.9" y="224.7" width="9.2" height="126.0" fill="#fcfcfc"/>
<rect x="1015.9" y="350.2" width="9.2" height="101.4" fill="#efefef"/>
<rect x="1015.9" y="451.1" width="9.2" height="81.6" fill="#fcfcfc"/>
<rect x="1033.3" y="53.9" width="7.5" height="76.4" fill="#efefef"/>
<rect x="1033.3" y="129.8" width="7.5" height="83.8" fill="#f9f9f9"/>
<rect x="1033.3" y="213.1" width="7.5" height="46.1" fill="#efefef"/>
<rect x="1033.3" y="258.7" width="7.5" height="129.1" fill="#f9f9f9"/>
<rect x="1033.3" y="387.4" width="7.5" height="55.1" fill="#f3f3f3"/>
<rect x="1033.3" y="442.0" width="7.5" height="94.6" fill="#efefef"/>
<rect x="1041.7" y="53.9" width="5.7" height="49.6" fill="#f3f3f3"/>
<rect x="1041.7" y="103.0" width="5.7" height="95.7" fill="#efefef"/>
<rect x="1041.7" y="198.3" width="5.7" height="119.2" fill="#fbfbfb"/>
<rect x="1041.7" y="317.0" width="5.7" height="74.4" fill="#fcfcfc"/>
<rect x="1041.7" y="390.8" width="5.7" height="63.2" fill="#f3f3f3"/>
<rect x="1041.7" y="453.5" width="5.7" height="94.7" fill="#f9f9f9"/>
<rect x="1051.4" y="53.9" width="11.0" height="129.9" fill="#f9f9f9"/>
<rect x="1051.4" y="183.3" width="11.0" height="83.7" fill="#f3f3f3"/>
<rect x="1051.4" y="266.5" width="11.0" height="48.2" fill="#efefef"/>
<rect x="1051.4" y="314.2" width="11.0" height="108.0" fill="#fcfcfc"/>
<rect x="1051.4" y="421.7" width="11.0" height="64.3" fill="#fcfcfc"/>
<rect x="1051.4" y="485.5" width="11.0" height="55.0" fill="#efefef"/>
<rect x="1062.1" y="53.9" width="11.8" height="73.1" fill="#fcfcfc"/>
<rect x="1062.1" y="126.5" width="11.8" height="89.4" fill="#efefef"/>
<rect x="1062.1" y="215.3" width="11.8" height="108.7" fill="#f3f3f3"/>
<rect x="1062.1" y="323.6" width="11.8" height="128.6" fill="#efefef"/>
<rect x="1062.1" y="451.6" width="11.8" height="103.2" fill="#f3f3f3"/>
<rect x="1076.3" y="53.9" width="11.4" height="72.5" fill="#f1f1f1"/>
<rect x="1076.3" y="125.9" width="11.4" height="88.4" fill="#fbfbfb"/>
<rect x="1076.3" y="213.8" width="11.4" height="70.2" fill="#f1f1f1"/>
<rect x="1076.3" y="283.5" width="11.4" height="95.7" fill="#f1f1f1"/>
<rect x="1076.3" y="378.7" width="11.4" height="113.0" fill="#f9f9f9"/>
<rect x="1076.3" y="491.3" width="11.4" height="107.1" fill="#f1f1f1"/>
<rect x="1087.0" y="53.9" width="8.3" height="106.3" fill="#efefef"/>
<rect x="1087.0" y="159.7" width="8.3" height="111.6" fill="#f9f9f9"/>
<rect x="1087.0" y="270.8" width="8.3" height="63.8" fill="#fcfcfc"/>
<rect x="1087.0" y="334.1" width="8.3" height="95.0" fill="#f3f3f3"/>
<rect x="1087.0" y="428.6" width="8.3" height="80.8" fill="#fcfcfc"/>
<rect x="1106.5" y="53.9" width="11.8" height="73.3" fill="#f1f1f1"/>
<rect x="1106.5" y="126.7" width="11.8" height="49.7" fill="#f9f9f9"/>
<rect x="1106.5" y="175.9" width="11.8" height="58.2" fill="#f1f1f1"/>
<rect x="1106.5" y="233.6" width="11.8" height="83.9" fill="#fbfbfb"/>
<rect x="1106.5" y="317.1" width="11.8" height="116.1" fill="#f9f9f9"/>
<rect x="1106.5" y="432.7" width="11.8" height="122.3" fill="#f3f3f3"/>
<rect x="1124.0" y="53.9" width="5.2" height="100.0" fill="#f9f9f9"/>
<rect x="1124.0" y="153.4" width="5.2" height="110.9" fill="#f1f1f1"/>
<rect x="1124.0" y="263.8" width="5.2" height="83.5" fill="#f1f1f1"/>
<rect x="1124.0" y="346.8" width="5.2" height="79.6" fill="#fcfcfc"/>
<rect x="1124.0" y="425.8" width="5.2" height="70.4" fill="#fcfcfc"/>
<rect x="1136.8" y="53.9" width="7.6" height="125.7" fill="#fcfcfc"/>
<rect x="1136.8" y="179.1" width="7.6" height="54.8" fill="#f1f1f1"/>
<rect x="1136.8" y="233.4" width="7.6" height="43.0" fill="#fbfbfb"/>
<rect x="1136.8" y="275.9" width="7.6" height="121.9" fill="#fcfcfc"/>
<rect x="1136.8" y="397.3" width="7.6" height="53.7" fill="#fbfbfb"/>
<rect x="1136.8" y="450.5" width="7.6" height="128.7" fill="#fcfcfc"/>
<rect x="1155.9" y="53.9" width="5.7" height="89.8" fill="#efefef"/>
<rect x="1155.9" y="143.2" width="5.7" height="41.8" fill="#fcfcfc"/>
<rect x="1155.9" y="184.5" width="5.7" height="99.0" fill="#fbfbfb"/>
<rect x="1155.9" y="283.0" width="5.7" height="108.0" fill="#f1f1f1"/>
<rect x="1155.9" y="390.5" width="5.7" height="79.5" fill="#f1f1f1"/>
<rect x="1155.9" y="469.5" width="5.7" height="114.9" fill="#f1f1f1"/>
<rect x="1164.5" y="53.9" width="6.2" height="85.6" fill="#fbfbfb"/>
<rect x="1164.5" y="139.0" width="6.2" height="69.8" fill="#fbfbfb"/>
<rect x="1164.5" y="208.3" width="6.2" height="78.2" fill="#f1f1f1"/>
<rect x="1164.5" y="286.1" width="6.2" height="46.0" fill="#fcfcfc"/>
<rect x="1164.5" y="331.5" width="6.2" height="72.3" fill="#f9f9f9"/>
<rect x="1164.5" y="403.4" width="6.2" height="100.1" fill="#fbfbfb"/>
<rect x="1177.7" y="53.9" width="11.5" height="85.6" fill="#fbfbfb"/>
<rect x="1177.7" y="139.0" width="11.5" height="54.2" fill="#fbfbfb"/>
<rect x="1177.7" y="192.7" width="11.5" height="42.2" fill="#f9f9f9"/>
<rect x="1177.7" y="234.4" width="11.5" height="110.4" fill="#fbfbfb"/>
<rect x="1177.7" y="344.3" width="11.5" height="40.9" fill="#f1f1f1"/>
<rect x="1177.7" y="384.6" width="11.5" height="56.0" fill="#f9f9f9"/>
<rect x="1177.7" y="440.1" width="11.5" height="96.2" fill="#efefef"/>
<rect x="1192.3" y="53.9" width="7.0" height="87.2" fill="#fbfbfb"/>
<rect x="1192.3" y="140.6" width="7.0" height="83.9" fill="#efefef"/>
<rect x="1192.3" y="224.0" width="7.0" height="120.0" fill="#efefef"/>
<rect x="1192.3" y="343.5" width="7.0" height="62.9" fill="#f3f3f3"/>
<rect x="1192.3" y="405.8" width="7.0" height="44.3" fill="#efefef"/>
<rect x="1192.3" y="449.6" width="7.0" height="86.2" fill="#fbfbfb"/>
<rect x="1201.0" y="53.9" width="11.3" height="46.2" fill="#f3f3f3"/>
<rect x="1201.0" y="99.6" width="11.3" height="95.6" fill="#fbfbfb"/>
<rect x="1201.0" y="194.7" width="11.3" height="95.1" fill="#f1f1f1"/>
<rect x="1201.0" y="289.3" width="11.3" height="102.8" fill="#f9f9f9"/>
<rect x="1201.0" y="391.6" width="11.3" height="86.2" fill="#f9f9f9"/>
<rect x="1201.0" y="477.4" width="11.3" height="86.2" fill="#f1f1f1"/>
<rect x="1217.3" y="53.9" width="11.2" height="125.3" fill="#f3f3f3"/>
<rect x="1217.3" y="178.7" width="11.2" height="123.6" fill="#f1f1f1"/>
<rect x="1217.3" y="301.7" width="11.2" height="116.1" fill="#f1f1f1"/>
<rect x="1217.3" y="417.3" width="11.2" height="78.0" fill="#f9f9f9"/>
<rect x="1230.7" y="53.9" width="5.1" height="62.2" fill="#efefef"/>
<rect x="1230.7" y="115.6" width="5.1" height="59.6" fill="#f3f3f3"/>
<rect x="1230.7" y="174.7" width="5.1" height="111.1" fill="#f1f1f1"/>
<rect x="1230.7" y="285.3" width="5.1" height="125.1" fill="#fcfcfc"/>
<rect x="1230.7" y="409.8" width="5.1" height="99.9" fill="#f1f1f1"/>
<rect x="1241.9" y="53.9" width="5.6" height="82.6" fill="#fcfcfc"/>
<rect x="1241.9" y="136.0" width="5.6" height="126.2" fill="#f9f9f9"/>
<rect x="1241.9" y="261.7" width="5.6" height="120.1" fill="#f1f1f1"/>
<rect x="1241.9" y="381.4" width="5.6" height="129.6" fill="#f1f1f1"/>
<rect x="1252.1" y="53.9" width="7.8" height="86.9" fill="#f3f3f3"/>
<rect x="1252.1" y="140.3" width="7.8" height="78.4" fill="#f3f3f3"/>
<rect x="1252.1" y="218.2" width="7.8" height="69.2" fill="#fcfcfc"/>
<rect x="1252.1" y="286.9" width="7.8" height="73.4" fill="#f3f3f3"/>
<rect x="1252.1" y="359.8" width="7.8" height="90.4" fill="#f9f9f9"/>
<rect x="1252.1" y="449.7" width="7.8" height="103.8" fill="#f9f9f9"/>
<rect x="1264.2" y="53.9" width="9.3" height="86.6" fill="#efefef"/>
<rect x="1264.2" y="140.0" width="9.3" height="50.7" fill="#f1f1f1"/>
<rect x="1264.2" y="190.2" width="9.3" height="128.0" fill="#efefef"/>
<rect x="1264.2" y="317.6" width="9.3" height="48.1" fill="#f3f3f3"/>
<rect x="1264.2" y="365.2" width="9.3" height="44.1" fill="#f1f1f1"/>
<rect x="1264.2" y="408.7" width="9.3" height="64.8" fill="#f1f1f1"/>
<rect x="1264.2" y="473.1" width="9.3" height="114.3" fill="#fcfcfc"/>
<rect x="1281.9" y="53.9" width="6.5" height="53.9" fill="#fbfbfb"/>
<rect x="1281.9" y="107.3" width="6.5" height="91.9" fill="#fcfcfc"/>
<rect x="1281.9" y="198.7" width="6.5" height="69.9" fill="#f3f3f3"/>
<rect x="1281.9" y="268.1" width="6.5" height="45.7" fill="#fcfcfc"/>
<rect x="1281.9" y="313.3" width="6.5" height="57.0" fill="#efefef"/>
<rect x="1281.9" y="369.8" width="6.5" height="64.7" fill="#efefef"/>
<rect x="1281.9" y="434.0" width="6.5" height="97.6" fill="#f3f3f3"/>
<rect x="1291.2" y="53.9" width="11.0" height="46.5" fill="#efefef"/>
<rect x="1291.2" y="99.9" width="11.0" height="81.3" fill="#f3f3f3"/>
<rect x="1291.2" y="180.7" width="11.0" height="130.0" fill="#f9f9f9"/>
<rect x="1291.2" y="310.2" width="11.0" height="123.9" fill="#f3f3f3"/>
<rect x="1291.2" y="433.6" width="11.0" height="96.5" fill="#efefef"/>
<rect x="1305.5" y="53.9" width="6.4" height="50.4" fill="#f1f1f1"/>
<rect x="1305.5" y="103.8" width="6.4" height="64.1" fill="#f1f1f1"/>
<rect x="1305.5" y="167.3" width="6.4" height="58.7" fill="#f3f3f3"/>
<rect x="1305.5" y="225.5" width="6.4" height="97.1" fill="#fbfbfb"/>
<rect x="1305.5" y="322.1" width="6.4" height="108.9" fill="#f3f3f3"/>
<rect x="1305.5" y="430.4" width="6.4" height="80.6" fill="#fcfcfc"/>
<rect x="1315.9" y="53.9" width="7.2" height="42.1" fill="#f3f3f3"/>
<rect x="1315.9" y="95.5" width="7.2" height="43.8" fill="#efefef"/>
<rect x="1315.9" y="138.9" width="7.2" height="106.5" fill="#fbfbfb"/>
<rect x="1315.9" y="244.8" width="7.2" height="128.5" fill="#fbfbfb"/>
<rect x="1315.9" y="372.9" width="7.2" height="83.2" fill="#f9f9f9"/>
<rect x="1315.9" y="455.6" width="7.2" height="50.1" fill="#fcfcfc"/>
<rect x="1329.2" y="53.9" width="8.3" height="115.6" fill="#f9f9f9"/>
<rect x="1329.2" y="169.0" width="8.3" height="127.8" fill="#f3f3f3"/>
<rect x="1329.2" y="296.3" width="8.3" height="102.4" fill="#f1f1f1"/>
<rect x="1329.2" y="398.2" width="8.3" height="71.3" fill="#fcfcfc"/>
<rect x="1329.2" y="469.1" width="8.3" height="106.1" fill="#f1f1f1"/>
<rect x="1342.1" y="53.9" width="7.2" height="45.4" fill="#f1f1f1"/>
<rect x="1342.1" y="98.8" width="7.2" height="41.8" fill="#fcfcfc"/>
<rect x="1342.1" y="140.1" width="7.2" height="107.2" fill="#f3f3f3"/>
<rect x="1342.1" y="246.8" width="7.2" height="79.3" fill="#efefef"/>
<rect x="1342.1" y="325.5" width="7.2" height="48.1" fill="#f9f9f9"/>
<rect x="1342.1" y="373.1" width="7.2" height="118.8" fill="#fcfcfc"/>
<rect x="1342.1" y="491.5" width="7.2" height="127.9" fill="#fbfbfb"/>
<rect x="1353.2" y="53.9" width="6.8" height="81.9" fill="#f1f1f1"/>
<rect x="1353.2" y="135.3" width="6.8" height="64.7" fill="#efefef"/>
<rect x="1353.2" y="199.5" width="6.8" height="64.2" fill="#f3f3f3"/>
<rect x="1353.2" y="263.2" width="6.8" height="128.0" fill="#fbfbfb"/>
<rect x="1353.2" y="390.7" width="6.8" height="69.6" fill="#efefef"/>
<rect x="1353.2" y="459.8" width="6.8" height="127.4" fill="#f3f3f3"/>
<rect x="1364.0" y="53.9" width="5.9" height="70.7" fill="#efefef"/>
<rect x="1364.0" y="124.1" width="5.9" height="83.2" fill="#fbfbfb"/>
<rect x="1364.0" y="206.8" width="5.9" height="99.5" fill="#f1f1f1"/>
<rect x="1364.0" y="305.8" width="5.9" height="85.9" fill="#efefef"/>
<rect x="1364.0" y="391.3" width="5.9" height="48.7" fill="#efefef"/>
<rect x="1364.0" y="439.4" width="5.9" height="53.4" fill="#fbfbfb"/>
<rect x="1364.0" y="492.4" width="5.9" height="44.3" fill="#efefef"/>
<rect x="1375.8" y="53.9" width="9.3" height="48.1" fill="#fbfbfb"/>
<rect x="1375.8" y="101.5" width="9.3" height="117.3" fill="#f1f1f1"/>
<rect x="1375.8" y="218.3" width="9.3" height="99.7" fill="#fcfcfc"/>
<rect x="1375.8" y="317.5" width="9.3" height="111.1" fill="#fbfbfb"/>
<rect x="1375.8" y="428.0" width="9.3" height="75.6" fill="#f3f3f3"/>
<rect x="1392.3" y="53.9" width="8.3" height="66.1" fill="#fbfbfb"/>
<rect x="1392.3" y="119.5" width="8.3" height="98.4" fill="#efefef"/>
<rect x="1392.3" y="217.4" width="8.3" height="114.7" fill="#fcfcfc"/>
<rect x="1392.3" y="331.6" width="8.3" height="120.8" fill="#fcfcfc"/>
<rect x="1392.3" y="451.9" width="8.3" height="79.1" fill="#fcfcfc"/>
<rect x="1409.9" y="53.9" width="5.6" height="87.6" fill="#fbfbfb"/>
<rect x="1409.9" y="141.0" width="5.6" height="91.7" fill="#efefef"/>
<rect x="1409.9" y="232.2" width="5.6" height="114.9" fill="#fbfbfb"/>
<rect x="1409.9" y="346.6" width="5.6" height="112.3" fill="#fcfcfc"/>
<rect x="1409.9" y="458.4" width="5.6" height="102.0" fill="#fcfcfc"/>
<rect x="1425.6" y="53.9" width="5.2" height="44.3" fill="#fcfcfc"/>
<rect x="1425.6" y="97.7" width="5.2" height="73.0" fill="#efefef"/>
<rect x="1425.6" y="170.1" width="5.2" height="74.4" fill="#f9f9f9"/>
<rect x="1425.6" y="244.0" width="5.2" height="90.8" fill="#fcfcfc"/>
<rect x="1425.6" y="334.3" width="5.2" height="42.2" fill="#fbfbfb"/>
<rect x="1425.6" y="376.0" width="5.2" height="101.8" fill="#f9f9f9"/>
<rect x="1425.6" y="477.2" width="5.2" height="64.2" fill="#f9f9f9"/>
<rect x="1443.0" y="53.9" width="10.2" height="85.8" fill="#fbfbfb"/>
<rect x="1443.0" y="139.2" width="10.2" height="48.8" fill="#fbfbfb"/>
<rect x="1443.0" y="187.4" width="10.2" height="46.4" fill="#fcfcfc"/>
<rect x="1443.0" y="233.4" width="10.2" height="83.1" fill="#efefef"/>
<rect x="1443.0" y="316.0" width="10.2" height="116.7" fill="#f1f1f1"/>
<rect x="1443.0" y="432.2" width="10.2" height="106.1" fill="#f1f1f1"/>
<rect x="1454.0" y="53.9" width="9.5" height="81.9" fill="#f9f9f9"/>
<rect x="1454.0" y="135.3" width="9.5" height="47.4" fill="#fcfcfc"/>
<rect x="1454.0" y="182.2" width="9.5" height="66.4" fill="#efefef"/>
<rect x="1454.0" y="248.1" width="9.5" height="96.0" fill="#fcfcfc"/>
<rect x="1454.0" y="343.6" width="9.5" height="58.3" fill="#fbfbfb"/>
<rect x="1454.0" y="401.5" width="9.5" height="53.8" fill="#f3f3f3"/>
<rect x="1454.0" y="454.7" width="9.5" height="99.1" fill="#fcfcfc"/>
<rect x="1465.8" y="53.9" width="8.9" height="41.6" fill="#efefef"/>
<rect x="1465.8" y="95.0" width="8.9" height="84.2" fill="#fcfcfc"/>
<rect x="1465.8" y="178.7" width="8.9" height="49.5" fill="#f1f1f1"/>
<rect x="1465.8" y="227.7" width="8.9" height="101.3" fill="#f3f3f3"/>
<rect x="1465.8" y="328.5" width="8.9" height="104.3" fill="#f3f3f3"/>
<rect x="1465.8" y="432.3" width="8.9" height="82.3" fill="#f9f9f9"/>
<rect x="1482.9" y="53.9" width="12.1" height="89.9" fill="#f3f3f3"/>
<rect x="1482.9" y="143.3" width="12.1" height="128.5" fill="#f9f9f9"/>
<rect x="1482.9" y="271.3" width="12.1" height="42.1" fill="#f9f9f9"/>
<rect x="1482.9" y="312.9" width="12.1" height="47.4" fill="#fbfbfb"/>
<rect x="1482.9" y="359.8" width="12.1" height="127.6" fill="#f9f9f9"/>
<rect x="1482.9" y="486.9" width="12.1" height="130.0" fill="#f9f9f9"/>
<rect x="1493.6" y="53.9" width="11.7" height="59.5" fill="#fbfbfb"/>
<rect x="1493.6" y="112.9" width="11.7" height="48.6" fill="#fcfcfc"/>
<rect x="1493.6" y="161.0" width="11.7" height="87.7" fill="#f3f3f3"/>
<rect x="1493.6" y="248.2" width="11.7" height="52.4" fill="#fcfcfc"/>
<rect x="1493.6" y="300.1" width="11.7" height="86.3" fill="#efefef"/>
<rect x="1493.6" y="385.9" width="11.7" height="103.8" fill="#f1f1f1"/>
<rect x="1493.6" y="489.2" width="11.7" height="85.3" fill="#f9f9f9"/>
<rect x="1506.5" y="53.9" width="5.8" height="126.0" fill="#fcfcfc"/>
<rect x="1506.5" y="179.4" width="5.8" height="81.1" fill="#f3f3f3"/>
<rect x="1506.5" y="260.0" width="5.8" height="105.9" fill="#f9f9f9"/>
<rect x="1506.5" y="365.4" width="5.8" height="71.5" fill="#f3f3f3"/>
<rect x="1506.5" y="436.4" width="5.8" height="51.4" fill="#f3f3f3"/>
<rect x="1506.5" y="487.2" width="5.8" height="40.7" fill="#f3f3f3"/>
</g>
<g filter="url(#blur2)" opacity="0.45">
<path d="M884.6,394.0 L1119.8,394.0 L1130.5,395.1 L1522.0,395.1" fill="none" stroke="#c3c3c3" stroke-width="28.7" stroke-linejoin="round" stroke-linecap="round" opacity="1.00"/>
<path d="M884.6,218.8 L1039.4,218.8 L1036.4,257.0 L1013.6,280.9 L884.6,285.7Z" fill="#cbcbcb" opacity="1.00"/>
<ellipse cx="954.4" cy="252.7" rx="44.0" ry="5.3" fill="#e0e0e0" opacity="1.00"/>
<path d="M884.6,227.6 L1059.1,226.8" fill="none" stroke="#b3b3b3" stroke-width="31.8" stroke-linejoin="round" stroke-linecap="round" opacity="1.00"/>
<path d="M884.6,278.5 L987.8,278.5 L1009.1,271.4" fill="none" stroke="#aaaaaa" stroke-width="30.3" stroke-linejoin="round" stroke-linecap="round" opacity="1.00"/>
<path d="M998.4,274.5 L1009.1,269.8 L1022.7,260.2 L1034.9,244.3 L1047.0,230.0" fill="none" stroke="#b6b6b6" stroke-width="23.9" stroke-linejoin="round" stroke-linecap="round" opacity="1.00"/>
<path d="M1042.4,225.2 L1056.1,207.7 L1068.2,182.2 L1083.4,166.3 L1136.5,166.3 L1154.7,174.2 L1176.0,190.1 L1201.8,214.0 L1201.8,225.2Z" fill="#bebebe" opacity="1.00"/>
<path d="M1075.8,173.4 L1088.0,170.2 L1127.4,171.8 L1151.7,179.0 L1176.0,196.5 L1200.3,218.8" fill="none" stroke="#b2b2b2" stroke-width="17.5" stroke-linejoin="round" stroke-linecap="round" opacity="1.00"/>
<path d="M1084.9,171.0 L1124.4,171.0" fill="none" stroke="#aaaaaa" stroke-width="14.3" stroke-linejoin="round" stroke-linecap="round" opacity="1.00"/>
<ellipse cx="1106.2" cy="202.1" rx="18.2" ry="8.0" fill="#cecece" opacity="1.00"/>
<path d="M1044.0,226.8 L1157.8,226.8 L1203.3,229.2 L1355.0,227.6" fill="none" stroke="#b0b0b0" stroke-width="33.4" stroke-linejoin="round" stroke-linecap="round" opacity="1.00"/>
<path d="M1203.3,228.4 L1218.5,239.5 L1233.7,245.9 L1253.4,250.7 L1274.6,257.0 L1303.5,258.6 L1317.1,252.2 L1329.3,239.5 L1347.5,230.0 L1355.0,228.4Z" fill="#c2c2c2" opacity="1.00"/>
<path d="M1210.9,247.5 L1233.7,253.8 L1271.6,263.4 L1303.5,266.6 L1324.7,255.4 L1347.5,237.9" fill="none" stroke="#cdcdcd" stroke-width="23.9" stroke-linejoin="round" stroke-linecap="round" opacity="1.00"/>
<path d="M1349.0,230.0 L1370.2,228.4 L1522.0,227.6" fill="none" stroke="#bdbdbd" stroke-width="23.9" stroke-linejoin="round" stroke-linecap="round" opacity="1.00"/>
<path d="M1349.0,226.0 L1370.2,218.0 L1393.0,214.8 L1522.0,214.0" fill="none" stroke="#b4b4b4" stroke-width="31.8" stroke-linejoin="round" stroke-linecap="round" opacity="1.00"/>
</g>
<g filter="url(#blur)">
<path d="M884.6,394.0 L1119.8,394.0 L1130.5,395.1 L1522.0,395.1" fill="none" stroke="#c3c3c3" stroke-width="28.7" stroke-linejoin="round" stroke-linecap="round" opacity="1.00"/>
<path d="M884.6,218.8 L1039.4,218.8 L1036.4,257.0 L1013.6,280.9 L884.6,285.7Z" fill="#cbcbcb" opacity="1.00"/>
<ellipse cx="954.4" cy="252.7" rx="44.0" ry="5.3" fill="#e0e0e0" opacity="1.00"/>
<path d="M884.6,227.6 L1059.1,226.8" fill="none" stroke="#b3b3b3" stroke-width="31.8" stroke-linejoin="round" stroke-linecap="round" opacity="1.00"/>
<path d="M884.6,278.5 L987.8,278.5 L1009.1,271.4" fill="none" stroke="#aaaaaa" stroke-width="30.3" stroke-linejoin="round" stroke-linecap="round" opacity="1.00"/>
<path d="M998.4,274.5 L1009.1,269.8 L1022.7,260.2 L1034.9,244.3 L1047.0,230.0" fill="none" stroke="#b6b6b6" stroke-width="23.9" stroke-linejoin="round" stroke-linecap="round" opacity="1.00"/>
<path d="M1042.4,225.2 L1056.1,207.7 L1068.2,182.2 L1083.4,166.3 L1136.5,166.3 L1154.7,174.2 L1176.0,190.1 L1201.8,214.0 L1201.8,225.2Z" fill="#bebebe" opacity="1.00"/>
<path d="M1075.8,173.4 L1088.0,170.2 L1127.4,171.8 L1151.7,179.0 L1176.0,196.5 L1200.3,218.8" fill="none" stroke="#b2b2b2" stroke-width="17.5" stroke-linejoin="round" stroke-linecap="round" opacity="1.00"/>
<path d="M1084.9,171.0 L1124.4,171.0" fill="none" stroke="#aaaaaa" stroke-width="14.3" stroke-linejoin="round" stroke-linecap="round" opacity="1.00"/>
<ellipse cx="1106.2" cy="202.1" rx="18.2" ry="8.0" fill="#cecece" opacity="1.00"/>
<path d="M1044.0,226.8 L1157.8,226.8 L1203.3,229.2 L1355.0,227.6" fill="none" stroke="#b0b0b0" stroke-width="33.4" stroke-linejoin="round" stroke-linecap="round" opacity="1.00"/>
<path d="M1203.3,228.4 L1218.5,239.5 L1233.7,245.9 L1253.4,250.7 L1274.6,257.0 L1303.5,258.6 L1317.1,252.2 L1329.3,239.5 L1347.5,230.0 L1355.0,228.4Z" fill="#c2c2c2" opacity="1.00"/>
<path d="M1210.9,247.5 L1233.7,253.8 L1271.6,263.4 L1303.5,266.6 L1324.7,255.4 L1347.5,237.9" fill="none" stroke="#cdcdcd" stroke-width="23.9" stroke-linejoin="round" stroke-linecap="round" opacity="1.00"/>
<path d="M1349.0,230.0 L1370.2,228.4 L1522.0,227.6" fill="none" stroke="#bdbdbd" stroke-width="23.9" stroke-linejoin="round" stroke-linecap="round" opacity="1.00"/>
<path d="M1349.0,226.0 L1370.2,218.0 L1393.0,214.8 L1522.0,214.0" fill="none" stroke="#b4b4b4" stroke-width="31.8" stroke-linejoin="round" stroke-linecap="round" opacity="1.00"/>
</g>
<g stroke="#ffffff" stroke-width="1.6">
<path d="M1054.0,75.5 L1054.0,470.4" opacity="0.55"/>
<path d="M1049.0,75.5 L1049.0,470.4" opacity="0.25"/>
<path d="M1205.8,75.5 L1205.8,470.4" opacity="0.55"/>
<path d="M1200.8,75.5 L1200.8,470.4" opacity="0.25"/>
<path d="M1357.5,75.5 L1357.5,470.4" opacity="0.55"/>
<path d="M1352.5,75.5 L1352.5,470.4" opacity="0.25"/>
</g>
<path d="M899.8,227.1 L904.9,227.1 L909.9,227.1 L915.3,227.1 L923.0,232.2 L928.1,232.2 L933.1,232.2 L938.2,232.2 L943.3,232.2 L948.3,232.2 L951.5,232.2 L957.6,227.1 L962.7,227.1 L967.7,227.1 L972.8,227.1 L977.9,227.1 L982.9,227.1 L988.0,227.1 L993.0,227.1 L998.1,227.1 L1003.1,227.1 L1008.2,227.1 L1013.3,227.1 L1018.3,227.1 L1023.4,227.1 L1028.4,227.1 L1031.4,227.1 L1036.4,237.0 L1041.4,227.1 L1046.4,227.1 L1051.5,227.1 L1056.6,227.1 L1061.6,227.1 L1066.7,227.1 L1071.7,227.1 L1076.8,227.1 L1081.8,227.1 L1086.9,227.1 L1092.0,227.1 L1097.0,227.1 L1102.1,227.1 L1107.1,227.1 L1112.2,227.1 L1117.3,227.1 L1122.3,227.1 L1127.4,227.1 L1132.4,227.1 L1137.5,227.1 L1142.5,227.1 L1147.6,227.1 L1152.7,227.1 L1155.5,227.1 L1175.8,215.1 L1180.9,221.3 L1185.9,220.5 L1191.0,223.5 L1196.1,225.0 L1201.1,229.8 L1205.6,233.9" fill="none" stroke="#d42d4e" stroke-width="4.6" stroke-linejoin="round"/>
<g fill="#d42d4e">
<circle cx="899.8" cy="227.1" r="5.20"/>
<circle cx="904.9" cy="227.1" r="5.20"/>
<circle cx="909.9" cy="227.1" r="5.20"/>
<circle cx="915.3" cy="227.1" r="5.20"/>
<circle cx="923.0" cy="232.2" r="5.20"/>
<circle cx="928.1" cy="232.2" r="5.20"/>
<circle cx="933.1" cy="232.2" r="5.20"/>
<circle cx="938.2" cy="232.2" r="5.20"/>
<circle cx="943.3" cy="232.2" r="5.20"/>
<circle cx="948.3" cy="232.2" r="5.20"/>
<circle cx="951.5" cy="232.2" r="5.20"/>
<circle cx="957.6" cy="227.1" r="5.20"/>
<circle cx="962.7" cy="227.1" r="5.20"/>
<circle cx="967.7" cy="227.1" r="5.20"/>
<circle cx="972.8" cy="227.1" r="5.20"/>
<circle cx="977.9" cy="227.1" r="5.20"/>
<circle cx="982.9" cy="227.1" r="5.20"/>
<circle cx="988.0" cy="227.1" r="5.20"/>
<circle cx="993.0" cy="227.1" r="5.20"/>
<circle cx="998.1" cy="227.1" r="5.20"/>
<circle cx="1003.1" cy="227.1" r="5.20"/>
<circle cx="1008.2" cy="227.1" r="5.20"/>
<circle cx="1013.3" cy="227.1" r="5.20"/>
<circle cx="1018.3" cy="227.1" r="5.20"/>
<circle cx="1023.4" cy="227.1" r="5.20"/>
<circle cx="1028.4" cy="227.1" r="5.20"/>
<circle cx="1031.4" cy="227.1" r="5.20"/>
<circle cx="1036.4" cy="237.0" r="5.20"/>
<circle cx="1041.4" cy="227.1" r="5.20"/>
<circle cx="1046.4" cy="227.1" r="5.20"/>
<circle cx="1051.5" cy="227.1" r="5.20"/>
<circle cx="1056.6" cy="227.1" r="5.20"/>
<circle cx="1061.6" cy="227.1" r="5.20"/>
<circle cx="1066.7" cy="227.1" r="5.20"/>
<circle cx="1071.7" cy="227.1" r="5.20"/>
<circle cx="1076.8" cy="227.1" r="5.20"/>
<circle cx="1081.8" cy="227.1" r="5.20"/>
<circle cx="1086.9" cy="227.1" r="5.20"/>
<circle cx="1092.0" cy="227.1" r="5.20"/>
<circle cx="1097.0" cy="227.1" r="5.20"/>
<circle cx="1102.1" cy="227.1" r="5.20"/>
<circle cx="1107.1" cy="227.1" r="5.20"/>
<circle cx="1112.2" cy="227.1" r="5.20"/>
<circle cx="1117.3" cy="227.1" r="5.20"/>
<circle cx="1122.3" cy="227.1" r="5.20"/>
<circle cx="1127.4" cy="227.1" r="5.20"/>
<circle cx="1132.4" cy="227.1" r="5.20"/>
<circle cx="1137.5" cy="227.1" r="5.20"/>
<circle cx="1142.5" cy="227.1" r="5.20"/>
<circle cx="1147.6" cy="227.1" r="5.20"/>
<circle cx="1152.7" cy="227.1" r="5.20"/>
<circle cx="1155.5" cy="227.1" r="5.20"/>
<circle cx="1175.8" cy="215.1" r="5.20"/>
<circle cx="1180.9" cy="221.3" r="5.20"/>
<circle cx="1185.9" cy="220.5" r="5.20"/>
<circle cx="1191.0" cy="223.5" r="5.20"/>
<circle cx="1196.1" cy="225.0" r="5.20"/>
<circle cx="1201.1" cy="229.8" r="5.20"/>
<circle cx="1205.6" cy="233.9" r="5.20"/>
</g>
<path d="M902.1,274.5 L907.1,280.4 L912.2,280.4 L917.3,280.4 L922.3,280.4 L927.4,280.4 L932.4,280.4 L937.5,280.4 L942.5,280.4 L947.6,280.4 L952.7,280.4 L957.7,280.4 L962.8,280.4 L967.8,280.4 L972.9,280.4 L978.0,280.4 L981.1,280.4 L986.1,276.3 L991.2,276.3 L996.5,271.5 L1001.5,271.5 L1006.2,266.7 L1011.2,266.7 L1017.3,261.6" fill="none" stroke="#467d14" stroke-width="4.6" stroke-linejoin="round"/>
<g fill="#467d14">
<circle cx="902.1" cy="274.5" r="5.20"/>
<circle cx="907.1" cy="280.4" r="5.20"/>
<circle cx="912.2" cy="280.4" r="5.20"/>
<circle cx="917.3" cy="280.4" r="5.20"/>
<circle cx="922.3" cy="280.4" r="5.20"/>
<circle cx="927.4" cy="280.4" r="5.20"/>
<circle cx="932.4" cy="280.4" r="5.20"/>
<circle cx="937.5" cy="280.4" r="5.20"/>
<circle cx="942.5" cy="280.4" r="5.20"/>
<circle cx="947.6" cy="280.4" r="5.20"/>
<circle cx="952.7" cy="280.4" r="5.20"/>
<circle cx="957.7" cy="280.4" r="5.20"/>
<circle cx="962.8" cy="280.4" r="5.20"/>
<circle cx="967.8" cy="280.4" r="5.20"/>
<circle cx="972.9" cy="280.4" r="5.20"/>
<circle cx="978.0" cy="280.4" r="5.20"/>
<circle cx="981.1" cy="280.4" r="5.20"/>
<circle cx="986.1" cy="276.3" r="5.20"/>
<circle cx="991.2" cy="276.3" r="5.20"/>
<circle cx="996.5" cy="271.5" r="5.20"/>
<circle cx="1001.5" cy="271.5" r="5.20"/>
<circle cx="1006.2" cy="266.7" r="5.20"/>
<circle cx="1011.2" cy="266.7" r="5.20"/>
<circle cx="1017.3" cy="261.6" r="5.20"/>
</g>
<path d="M1081.4,187.9 L1086.5,182.7 L1091.6,182.7 L1096.6,182.7 L1101.7,182.7 L1106.7,182.7 L1111.8,182.7 L1116.9,183.3 L1121.9,187.8 L1127.0,187.8 L1132.0,187.8 L1137.1,187.8 L1142.1,187.8 L1147.2,188.4 L1152.3,193.5 L1157.3,198.9 L1160.8,202.6" fill="none" stroke="#3eaa87" stroke-width="4.6" stroke-linejoin="round"/>
<g fill="#3eaa87">
<circle cx="1081.4" cy="187.9" r="5.20"/>
<circle cx="1086.5" cy="182.7" r="5.20"/>
<circle cx="1091.6" cy="182.7" r="5.20"/>
<circle cx="1096.6" cy="182.7" r="5.20"/>
<circle cx="1101.7" cy="182.7" r="5.20"/>
<circle cx="1106.7" cy="182.7" r="5.20"/>
<circle cx="1111.8" cy="182.7" r="5.20"/>
<circle cx="1116.9" cy="183.3" r="5.20"/>
<circle cx="1121.9" cy="187.8" r="5.20"/>
<circle cx="1127.0" cy="187.8" r="5.20"/>
<circle cx="1132.0" cy="187.8" r="5.20"/>
<circle cx="1137.1" cy="187.8" r="5.20"/>
<circle cx="1142.1" cy="187.8" r="5.20"/>
<circle cx="1147.2" cy="188.4" r="5.20"/>
<circle cx="1152.3" cy="193.5" r="5.20"/>
<circle cx="1157.3" cy="198.9" r="5.20"/>
<circle cx="1160.8" cy="202.6" r="5.20"/>
</g>
<path d="M1206.0,232.2 L1251.9,227.2 L1256.9,227.2 L1262.0,227.2 L1267.0,227.2 L1272.1,227.2 L1277.2,227.2 L1282.2,227.2 L1287.3,227.2 L1292.3,227.2 L1297.4,230.8 L1300.6,234.6 L1332.0,231.9 L1337.0,231.9 L1342.1,229.1 L1347.5,227.2" fill="none" stroke="#3eaa87" stroke-width="4.6" stroke-linejoin="round"/>
<g fill="#3eaa87">
<circle cx="1206.0" cy="232.2" r="5.20"/>
<circle cx="1251.9" cy="227.2" r="5.20"/>
<circle cx="1256.9" cy="227.2" r="5.20"/>
<circle cx="1262.0" cy="227.2" r="5.20"/>
<circle cx="1267.0" cy="227.2" r="5.20"/>
<circle cx="1272.1" cy="227.2" r="5.20"/>
<circle cx="1277.2" cy="227.2" r="5.20"/>
<circle cx="1282.2" cy="227.2" r="5.20"/>
<circle cx="1287.3" cy="227.2" r="5.20"/>
<circle cx="1292.3" cy="227.2" r="5.20"/>
<circle cx="1297.4" cy="230.8" r="5.20"/>
<circle cx="1300.6" cy="234.6" r="5.20"/>
<circle cx="1332.0" cy="231.9" r="5.20"/>
<circle cx="1337.0" cy="231.9" r="5.20"/>
<circle cx="1342.1" cy="229.1" r="5.20"/>
<circle cx="1347.5" cy="227.2" r="5.20"/>
</g>
<path d="M1206.3,237.8 L1211.4,237.8 L1216.5,237.8 L1221.5,241.9 L1226.6,241.9 L1231.6,241.9 L1236.7,246.7 L1241.7,246.7 L1246.8,246.7 L1251.9,246.7 L1256.9,251.5 L1262.0,251.5 L1267.0,251.5 L1272.1,251.5 L1277.2,256.5 L1282.2,256.5 L1287.3,256.5 L1292.3,256.5 L1297.4,256.5 L1302.4,256.5 L1307.5,251.5 L1312.6,251.5 L1317.6,246.5 L1322.7,240.8 L1327.7,237.1" fill="none" stroke="#f8821a" stroke-width="4.6" stroke-linejoin="round"/>
<g fill="#f8821a">
<circle cx="1206.3" cy="237.8" r="5.20"/>
<circle cx="1211.4" cy="237.8" r="5.20"/>
<circle cx="1216.5" cy="237.8" r="5.20"/>
<circle cx="1221.5" cy="241.9" r="5.20"/>
<circle cx="1226.6" cy="241.9" r="5.20"/>
<circle cx="1231.6" cy="241.9" r="5.20"/>
<circle cx="1236.7" cy="246.7" r="5.20"/>
<circle cx="1241.7" cy="246.7" r="5.20"/>
<circle cx="1246.8" cy="246.7" r="5.20"/>
<circle cx="1251.9" cy="246.7" r="5.20"/>
<circle cx="1256.9" cy="251.5" r="5.20"/>
<circle cx="1262.0" cy="251.5" r="5.20"/>
<circle cx="1267.0" cy="251.5" r="5.20"/>
<circle cx="1272.1" cy="251.5" r="5.20"/>
<circle cx="1277.2" cy="256.5" r="5.20"/>
<circle cx="1282.2" cy="256.5" r="5.20"/>
<circle cx="1287.3" cy="256.5" r="5.20"/>
<circle cx="1292.3" cy="256.5" r="5.20"/>
<circle cx="1297.4" cy="256.5" r="5.20"/>
<circle cx="1302.4" cy="256.5" r="5.20"/>
<circle cx="1307.5" cy="251.5" r="5.20"/>
<circle cx="1312.6" cy="251.5" r="5.20"/>
<circle cx="1317.6" cy="246.5" r="5.20"/>
<circle cx="1322.7" cy="240.8" r="5.20"/>
<circle cx="1327.7" cy="237.1" r="5.20"/>
</g>
<path d="M899.8,392.4 L904.9,392.4 L909.9,392.4 L915.0,392.4 L920.0,392.4 L925.1,392.4 L930.1,392.4 L935.2,392.4 L940.3,392.4 L946.1,392.4 L954.4,392.4 L959.5,392.4 L964.5,392.4 L969.6,392.4 L974.7,392.4 L979.7,395.3 L984.8,396.8 L989.8,396.8 L994.9,396.8 L1000.0,396.8 L1005.0,396.8 L1010.1,392.4 L1015.1,392.4 L1020.2,392.4 L1025.2,392.4 L1030.3,392.4 L1035.4,392.4 L1040.4,392.4 L1045.5,392.4 L1050.5,392.4 L1055.6,392.4 L1060.7,392.4 L1065.7,392.4 L1070.8,392.4 L1075.8,392.4 L1080.9,392.4 L1085.9,392.4 L1091.0,392.4 L1096.1,392.4 L1101.1,392.4 L1106.2,392.4 L1111.2,392.4 L1116.3,392.4 L1121.4,396.8 L1124.5,396.8 L1147.8,396.8 L1152.8,396.8 L1157.9,396.8 L1162.9,396.8 L1168.0,396.8 L1173.1,396.8 L1178.1,396.8 L1183.2,396.8 L1188.2,396.8 L1193.3,396.8 L1198.3,396.8 L1201.0,396.8" fill="none" stroke="#f8821a" stroke-width="4.6" stroke-linejoin="round"/>
<g fill="#f8821a">
<circle cx="899.8" cy="392.4" r="5.20"/>
<circle cx="904.9" cy="392.4" r="5.20"/>
<circle cx="909.9" cy="392.4" r="5.20"/>
<circle cx="915.0" cy="392.4" r="5.20"/>
<circle cx="920.0" cy="392.4" r="5.20"/>
<circle cx="925.1" cy="392.4" r="5.20"/>
<circle cx="930.1" cy="392.4" r="5.20"/>
<circle cx="935.2" cy="392.4" r="5.20"/>
<circle cx="940.3" cy="392.4" r="5.20"/>
<circle cx="946.1" cy="392.4" r="5.20"/>
<circle cx="954.4" cy="392.4" r="5.20"/>
<circle cx="959.5" cy="392.4" r="5.20"/>
<circle cx="964.5" cy="392.4" r="5.20"/>
<circle cx="969.6" cy="392.4" r="5.20"/>
<circle cx="974.7" cy="392.4" r="5.20"/>
<circle cx="979.7" cy="395.3" r="5.20"/>
<circle cx="984.8" cy="396.8" r="5.20"/>
<circle cx="989.8" cy="396.8" r="5.20"/>
<circle cx="994.9" cy="396.8" r="5.20"/>
<circle cx="1000.0" cy="396.8" r="5.20"/>
<circle cx="1005.0" cy="396.8" r="5.20"/>
<circle cx="1010.1" cy="392.4" r="5.20"/>
<circle cx="1015.1" cy="392.4" r="5.20"/>
<circle cx="1020.2" cy="392.4" r="5.20"/>
<circle cx="1025.2" cy="392.4" r="5.20"/>
<circle cx="1030.3" cy="392.4" r="5.20"/>
<circle cx="1035.4" cy="392.4" r="5.20"/>
<circle cx="1040.4" cy="392.4" r="5.20"/>
<circle cx="1045.5" cy="392.4" r="5.20"/>
<circle cx="1050.5" cy="392.4" r="5.20"/>
<circle cx="1055.6" cy="392.4" r="5.20"/>
<circle cx="1060.7" cy="392.4" r="5.20"/>
<circle cx="1065.7" cy="392.4" r="5.20"/>
<circle cx="1070.8" cy="392.4" r="5.20"/>
<circle cx="1075.8" cy="392.4" r="5.20"/>
<circle cx="1080.9" cy="392.4" r="5.20"/>
<circle cx="1085.9" cy="392.4" r="5.20"/>
<circle cx="1091.0" cy="392.4" r="5.20"/>
<circle cx="1096.1" cy="392.4" r="5.20"/>
<circle cx="1101.1" cy="392.4" r="5.20"/>
<circle cx="1106.2" cy="392.4" r="5.20"/>
<circle cx="1111.2" cy="392.4" r="5.20"/>
<circle cx="1116.3" cy="392.4" r="5.20"/>
<circle cx="1121.4" cy="396.8" r="5.20"/>
<circle cx="1124.5" cy="396.8" r="5.20"/>
<circle cx="1147.8" cy="396.8" r="5.20"/>
<circle cx="1152.8" cy="396.8" r="5.20"/>
<circle cx="1157.9" cy="396.8" r="5.20"/>
<circle cx="1162.9" cy="396.8" r="5.20"/>
<circle cx="1168.0" cy="396.8" r="5.20"/>
<circle cx="1173.1" cy="396.8" r="5.20"/>
<circle cx="1178.1" cy="396.8" r="5.20"/>
<circle cx="1183.2" cy="396.8" r="5.20"/>
<circle cx="1188.2" cy="396.8" r="5.20"/>
<circle cx="1193.3" cy="396.8" r="5.20"/>
<circle cx="1198.3" cy="396.8" r="5.20"/>
<circle cx="1201.0" cy="396.8" r="5.20"/>
</g>
<path d="M1204.4,396.8 L1209.4,396.8 L1214.5,396.8 L1219.5,396.8 L1224.6,396.8 L1229.7,396.8 L1234.7,396.8 L1239.8,396.8 L1243.2,396.8 L1261.0,396.8 L1264.0,396.8 L1291.2,396.8 L1296.2,396.8 L1301.3,396.8 L1306.3,396.8 L1311.4,396.8 L1316.5,396.8 L1321.5,396.8 L1326.6,396.8 L1331.6,396.8 L1336.7,396.8 L1341.7,396.8 L1347.5,396.8" fill="none" stroke="#c8281a" stroke-width="4.6" stroke-linejoin="round"/>
<g fill="#c8281a">
<circle cx="1204.4" cy="396.8" r="5.20"/>
<circle cx="1209.4" cy="396.8" r="5.20"/>
<circle cx="1214.5" cy="396.8" r="5.20"/>
<circle cx="1219.5" cy="396.8" r="5.20"/>
<circle cx="1224.6" cy="396.8" r="5.20"/>
<circle cx="1229.7" cy="396.8" r="5.20"/>
<circle cx="1234.7" cy="396.8" r="5.20"/>
<circle cx="1239.8" cy="396.8" r="5.20"/>
<circle cx="1243.2" cy="396.8" r="5.20"/>
<circle cx="1261.0" cy="396.8" r="5.20"/>
<circle cx="1264.0" cy="396.8" r="5.20"/>
<circle cx="1291.2" cy="396.8" r="5.20"/>
<circle cx="1296.2" cy="396.8" r="5.20"/>
<circle cx="1301.3" cy="396.8" r="5.20"/>
<circle cx="1306.3" cy="396.8" r="5.20"/>
<circle cx="1311.4" cy="396.8" r="5.20"/>
<circle cx="1316.5" cy="396.8" r="5.20"/>
<circle cx="1321.5" cy="396.8" r="5.20"/>
<circle cx="1326.6" cy="396.8" r="5.20"/>
<circle cx="1331.6" cy="396.8" r="5.20"/>
<circle cx="1336.7" cy="396.8" r="5.20"/>
<circle cx="1341.7" cy="396.8" r="5.20"/>
<circle cx="1347.5" cy="396.8" r="5.20"/>
</g>
</g>
<g clip-path="url(#clipC)">
<rect x="171.4" y="591.3" width="607.0" height="398.2" fill="#f7f7f7"/>
<g filter="url(#blur)">
<rect x="168.4" y="571.3" width="7.0" height="54.1" fill="#fcfcfc"/>
<rect x="168.4" y="624.9" width="7.0" height="44.8" fill="#fbfbfb"/>
<rect x="168.4" y="669.2" width="7.0" height="49.0" fill="#fbfbfb"/>
<rect x="168.4" y="717.7" width="7.0" height="45.7" fill="#fbfbfb"/>
<rect x="168.4" y="762.9" width="7.0" height="59.8" fill="#efefef"/>
<rect x="168.4" y="822.2" width="7.0" height="79.5" fill="#efefef"/>
<rect x="168.4" y="901.3" width="7.0" height="62.2" fill="#fbfbfb"/>
<rect x="168.4" y="962.9" width="7.0" height="78.7" fill="#fbfbfb"/>
<rect x="178.1" y="571.3" width="6.2" height="97.0" fill="#efefef"/>
<rect x="178.1" y="667.8" width="6.2" height="92.4" fill="#f9f9f9"/>
<rect x="178.1" y="759.7" width="6.2" height="45.0" fill="#f1f1f1"/>
<rect x="178.1" y="804.2" width="6.2" height="44.7" fill="#f1f1f1"/>
<rect x="178.1" y="848.4" width="6.2" height="66.6" fill="#f1f1f1"/>
<rect x="178.1" y="914.4" width="6.2" height="89.2" fill="#fbfbfb"/>
<rect x="178.1" y="1003.1" width="6.2" height="68.3" fill="#fcfcfc"/>
<rect x="188.5" y="571.3" width="9.0" height="98.0" fill="#f3f3f3"/>
<rect x="188.5" y="668.8" width="9.0" height="49.3" fill="#fcfcfc"/>
<rect x="188.5" y="717.6" width="9.0" height="46.2" fill="#efefef"/>
<rect x="188.5" y="763.2" width="9.0" height="96.2" fill="#f9f9f9"/>
<rect x="188.5" y="858.9" width="9.0" height="101.7" fill="#f9f9f9"/>
<rect x="188.5" y="960.2" width="9.0" height="110.5" fill="#f9f9f9"/>
<rect x="203.5" y="571.3" width="8.0" height="67.5" fill="#f1f1f1"/>
<rect x="203.5" y="638.3" width="8.0" height="103.4" fill="#f1f1f1"/>
<rect x="203.5" y="741.2" width="8.0" height="47.9" fill="#f3f3f3"/>
<rect x="203.5" y="788.6" width="8.0" height="87.8" fill="#f3f3f3"/>
<rect x="203.5" y="875.8" width="8.0" height="106.2" fill="#f3f3f3"/>
<rect x="203.5" y="981.5" width="8.0" height="95.3" fill="#efefef"/>
<rect x="213.2" y="571.3" width="7.7" height="108.6" fill="#f1f1f1"/>
<rect x="213.2" y="679.4" width="7.7" height="124.5" fill="#f9f9f9"/>
<rect x="213.2" y="803.4" width="7.7" height="44.0" fill="#fcfcfc"/>
<rect x="213.2" y="847.0" width="7.7" height="47.5" fill="#fbfbfb"/>
<rect x="213.2" y="894.0" width="7.7" height="92.1" fill="#f3f3f3"/>
<rect x="213.2" y="985.5" width="7.7" height="71.1" fill="#f3f3f3"/>
<rect x="228.3" y="571.3" width="9.0" height="81.6" fill="#efefef"/>
<rect x="228.3" y="652.4" width="9.0" height="125.5" fill="#f9f9f9"/>
<rect x="228.3" y="777.4" width="9.0" height="103.2" fill="#efefef"/>
<rect x="228.3" y="880.1" width="9.0" height="46.0" fill="#fcfcfc"/>
<rect x="228.3" y="925.6" width="9.0" height="68.4" fill="#fbfbfb"/>
<rect x="228.3" y="993.4" width="9.0" height="129.9" fill="#f9f9f9"/>
<rect x="239.9" y="571.3" width="7.5" height="100.7" fill="#efefef"/>
<rect x="239.9" y="671.5" width="7.5" height="125.2" fill="#f3f3f3"/>
<rect x="239.9" y="796.1" width="7.5" height="55.6" fill="#efefef"/>
<rect x="239.9" y="851.3" width="7.5" height="84.9" fill="#f1f1f1"/>
<rect x="239.9" y="935.7" width="7.5" height="109.6" fill="#f1f1f1"/>
<rect x="256.7" y="571.3" width="7.6" height="123.0" fill="#f9f9f9"/>
<rect x="256.7" y="693.8" width="7.6" height="47.8" fill="#f9f9f9"/>
<rect x="256.7" y="741.1" width="7.6" height="76.6" fill="#f3f3f3"/>
<rect x="256.7" y="817.2" width="7.6" height="120.0" fill="#f9f9f9"/>
<rect x="256.7" y="936.7" width="7.6" height="118.3" fill="#f3f3f3"/>
<rect x="273.1" y="571.3" width="12.0" height="101.9" fill="#f9f9f9"/>
<rect x="273.1" y="672.7" width="12.0" height="126.7" fill="#f1f1f1"/>
<rect x="273.1" y="798.9" width="12.0" height="48.0" fill="#f1f1f1"/>
<rect x="273.1" y="846.4" width="12.0" height="61.4" fill="#f1f1f1"/>
<rect x="273.1" y="907.3" width="12.0" height="41.6" fill="#fbfbfb"/>
<rect x="273.1" y="948.4" width="12.0" height="56.9" fill="#f3f3f3"/>
<rect x="273.1" y="1004.8" width="12.0" height="40.9" fill="#f9f9f9"/>
<rect x="287.5" y="571.3" width="9.2" height="69.2" fill="#f1f1f1"/>
<rect x="287.5" y="640.0" width="9.2" height="102.6" fill="#fbfbfb"/>
<rect x="287.5" y="742.1" width="9.2" height="126.0" fill="#fcfcfc"/>
<rect x="287.5" y="867.6" width="9.2" height="101.4" fill="#efefef"/>
<rect x="287.5" y="968.5" width="9.2" height="81.6" fill="#fcfcfc"/>
<rect x="304.9" y="571.3" width="7.5" height="76.4" fill="#efefef"/>
<rect x="304.9" y="647.2" width="7.5" height="83.8" fill="#f9f9f9"/>
<rect x="304.9" y="730.5" width="7.5" height="46.1" fill="#efefef"/>
<rect x="304.9" y="776.1" width="7.5" height="129.1" fill="#f9f9f9"/>
<rect x="304.9" y="904.8" width="7.5" height="55.1" fill="#f3f3f3"/>
<rect x="304.9" y="959.4" width="7.5" height="94.6" fill="#efefef"/>
<rect x="313.3" y="571.3" width="5.7" height="49.6" fill="#f3f3f3"/>
<rect x="313.3" y="620.4" width="5.7" height="95.7" fill="#efefef"/>
<rect x="313.3" y="715.7" width="5.7" height="119.2" fill="#fbfbfb"/>
<rect x="313.3" y="834.4" width="5.7" height="74.4" fill="#fcfcfc"/>
<rect x="313.3" y="908.2" width="5.7" height="63.2" fill="#f3f3f3"/>
<rect x="313.3" y="970.9" width="5.7" height="94.7" fill="#f9f9f9"/>
<rect x="323.0" y="571.3" width="11.0" height="129.9" fill="#f9f9f9"/>
<rect x="323.0" y="700.7" width="11.0" height="83.7" fill="#f3f3f3"/>
<rect x="323.0" y="783.9" width="11.0" height="48.2" fill="#efefef"/>
<rect x="323.0" y="831.6" width="11.0" height="108.0" fill="#fcfcfc"/>
<rect x="323.0" y="939.1" width="11.0" height="64.3" fill="#fcfcfc"/>
<rect x="323.0" y="1002.9" width="11.0" height="55.0" fill="#efefef"/>
<rect x="333.7" y="571.3" width="11.8" height="73.1" fill="#fcfcfc"/>
<rect x="333.7" y="643.9" width="11.8" height="89.4" fill="#efefef"/>
<rect x="333.7" y="732.7" width="11.8" height="108.7" fill="#f3f3f3"/>
<rect x="333.7" y="841.0" width="11.8" height="128.6" fill="#efefef"/>
<rect x="333.7" y="969.0" width="11.8" height="103.2" fill="#f3f3f3"/>
<rect x="347.9" y="571.3" width="11.4" height="72.5" fill="#f1f1f1"/>
<rect x="347.9" y="643.3" width="11.4" height="88.4" fill="#fbfbfb"/>
<rect x="347.9" y="731.2" width="11.4" height="70.2" fill="#f1f1f1"/>
<rect x="347.9" y="800.9" width="11.4" height="95.7" fill="#f1f1f1"/>
<rect x="347.9" y="896.1" width="11.4" height="113.0" fill="#f9f9f9"/>
<rect x="347.9" y="1008.7" width="11.4" height="107.1" fill="#f1f1f1"/>
<rect x="358.6" y="571.3" width="8.3" height="106.3" fill="#efefef"/>
<rect x="358.6" y="677.1" width="8.3" height="111.6" fill="#f9f9f9"/>
<rect x="358.6" y="788.2" width="8.3" height="63.8" fill="#fcfcfc"/>
<rect x="358.6" y="851.5" width="8.3" height="95.0" fill="#f3f3f3"/>
<rect x="358.6" y="946.0" width="8.3" height="80.8" fill="#fcfcfc"/>
<rect x="378.1" y="571.3" width="11.8" height="73.3" fill="#f1f1f1"/>
<rect x="378.1" y="644.1" width="11.8" height="49.7" fill="#f9f9f9"/>
<rect x="378.1" y="693.3" width="11.8" height="58.2" fill="#f1f1f1"/>
<rect x="378.1" y="751.0" width="11.8" height="83.9" fill="#fbfbfb"/>
<rect x="378.1" y="834.5" width="11.8" height="116.1" fill="#f9f9f9"/>
<rect x="378.1" y="950.1" width="11.8" height="122.3" fill="#f3f3f3"/>
<rect x="395.6" y="571.3" width="5.2" height="100.0" fill="#f9f9f9"/>
<rect x="395.6" y="670.8" width="5.2" height="110.9" fill="#f1f1f1"/>
<rect x="395.6" y="781.2" width="5.2" height="83.5" fill="#f1f1f1"/>
<rect x="395.6" y="864.2" width="5.2" height="79.6" fill="#fcfcfc"/>
<rect x="395.6" y="943.2" width="5.2" height="70.4" fill="#fcfcfc"/>
<rect x="408.4" y="571.3" width="7.6" height="125.7" fill="#fcfcfc"/>
<rect x="408.4" y="696.5" width="7.6" height="54.8" fill="#f1f1f1"/>
<rect x="408.4" y="750.8" width="7.6" height="43.0" fill="#fbfbfb"/>
<rect x="408.4" y="793.3" width="7.6" height="121.9" fill="#fcfcfc"/>
<rect x="408.4" y="914.7" width="7.6" height="53.7" fill="#fbfbfb"/>
<rect x="408.4" y="967.9" width="7.6" height="128.7" fill="#fcfcfc"/>
<rect x="427.5" y="571.3" width="5.7" height="89.8" fill="#efefef"/>
<rect x="427.5" y="660.6" width="5.7" height="41.8" fill="#fcfcfc"/>
<rect x="427.5" y="701.9" width="5.7" height="99.0" fill="#fbfbfb"/>
<rect x="427.5" y="800.4" width="5.7" height="108.0" fill="#f1f1f1"/>
<rect x="427.5" y="907.9" width="5.7" height="79.5" fill="#f1f1f1"/>
<rect x="427.5" y="986.9" width="5.7" height="114.9" fill="#f1f1f1"/>
<rect x="436.1" y="571.3" width="6.2" height="85.6" fill="#fbfbfb"/>
<rect x="436.1" y="656.4" width="6.2" height="69.8" fill="#fbfbfb"/>
<rect x="436.1" y="725.7" width="6.2" height="78.2" fill="#f1f1f1"/>
<rect x="436.1" y="803.5" width="6.2" height="46.0" fill="#fcfcfc"/>
<rect x="436.1" y="848.9" width="6.2" height="72.3" fill="#f9f9f9"/>
<rect x="436.1" y="920.8" width="6.2" height="100.1" fill="#fbfbfb"/>
<rect x="449.3" y="571.3" width="11.5" height="85.6" fill="#fbfbfb"/>
<rect x="449.3" y="656.4" width="11.5" height="54.2" fill="#fbfbfb"/>
<rect x="449.3" y="710.1" width="11.5" height="42.2" fill="#f9f9f9"/>
<rect x="449.3" y="751.8" width="11.5" height="110.4" fill="#fbfbfb"/>
<rect x="449.3" y="861.7" width="11.5" height="40.9" fill="#f1f1f1"/>
<rect x="449.3" y="902.0" width="11.5" height="56.0" fill="#f9f9f9"/>
<rect x="449.3" y="957.5" width="11.5" height="96.2" fill="#efefef"/>
<rect x="463.9" y="571.3" width="7.0" height="87.2" fill="#fbfbfb"/>
<rect x="463.9" y="658.0" width="7.0" height="83.9" fill="#efefef"/>
<rect x="463.9" y="741.4" width="7.0" height="120.0" fill="#efefef"/>
<rect x="463.9" y="860.9" width="7.0" height="62.9" fill="#f3f3f3"/>
<rect x="463.9" y="923.2" width="7.0" height="44.3" fill="#efefef"/>
<rect x="463.9" y="967.0" width="7.0" height="86.2" fill="#fbfbfb"/>
<rect x="472.6" y="571.3" width="11.3" height="46.2" fill="#f3f3f3"/>
<rect x="472.6" y="617.0" width="11.3" height="95.6" fill="#fbfbfb"/>
<rect x="472.6" y="712.1" width="11.3" height="95.1" fill="#f1f1f1"/>
<rect x="472.6" y="806.7" width="11.3" height="102.8" fill="#f9f9f9"/>
<rect x="472.6" y="909.0" width="11.3" height="86.2" fill="#f9f9f9"/>
<rect x="472.6" y="994.8" width="11.3" height="86.2" fill="#f1f1f1"/>
<rect x="488.9" y="571.3" width="11.2" height="125.3" fill="#f3f3f3"/>
<rect x="488.9" y="696.1" width="11.2" height="123.6" fill="#f1f1f1"/>
<rect x="488.9" y="819.1" width="11.2" height="116.1" fill="#f1f1f1"/>
<rect x="488.9" y="934.7" width="11.2" height="78.0" fill="#f9f9f9"/>
<rect x="502.3" y="571.3" width="5.1" height="62.2" fill="#efefef"/>
<rect x="502.3" y="633.0" width="5.1" height="59.6" fill="#f3f3f3"/>
<rect x="502.3" y="692.1" width="5.1" height="111.1" fill="#f1f1f1"/>
<rect x="502.3" y="802.7" width="5.1" height="125.1" fill="#fcfcfc"/>
<rect x="502.3" y="927.2" width="5.1" height="99.9" fill="#f1f1f1"/>
<rect x="513.5" y="571.3" width="5.6" height="82.6" fill="#fcfcfc"/>
<rect x="513.5" y="653.4" width="5.6" height="126.2" fill="#f9f9f9"/>
<rect x="513.5" y="779.1" width="5.6" height="120.1" fill="#f1f1f1"/>
<rect x="513.5" y="898.8" width="5.6" height="129.6" fill="#f1f1f1"/>
<rect x="523.7" y="571.3" width="7.8" height="86.9" fill="#f3f3f3"/>
<rect x="523.7" y="657.7" width="7.8" height="78.4" fill="#f3f3f3"/>
<rect x="523.7" y="735.6" width="7.8" height="69.2" fill="#fcfcfc"/>
<rect x="523.7" y="804.3" width="7.8" height="73.4" fill="#f3f3f3"/>
<rect x="523.7" y="877.2" width="7.8" height="90.4" fill="#f9f9f9"/>
<rect x="523.7" y="967.1" width="7.8" height="103.8" fill="#f9f9f9"/>
<rect x="535.8" y="571.3" width="9.3" height="86.6" fill="#efefef"/>
<rect x="535.8" y="657.4" width="9.3" height="50.7" fill="#f1f1f1"/>
<rect x="535.8" y="707.6" width="9.3" height="128.0" fill="#efefef"/>
<rect x="535.8" y="835.0" width="9.3" height="48.1" fill="#f3f3f3"/>
<rect x="535.8" y="882.6" width="9.3" height="44.1" fill="#f1f1f1"/>
<rect x="535.8" y="926.1" width="9.3" height="64.8" fill="#f1f1f1"/>
<rect x="535.8" y="990.5" width="9.3" height="114.3" fill="#fcfcfc"/>
<rect x="553.5" y="571.3" width="6.5" height="53.9" fill="#fbfbfb"/>
<rect x="553.5" y="624.7" width="6.5" height="91.9" fill="#fcfcfc"/>
<rect x="553.5" y="716.1" width="6.5" height="69.9" fill="#f3f3f3"/>
<rect x="553.5" y="785.5" width="6.5" height="45.7" fill="#fcfcfc"/>
<rect x="553.5" y="830.7" width="6.5" height="57.0" fill="#efefef"/>
<rect x="553.5" y="887.2" width="6.5" height="64.7" fill="#efefef"/>
<rect x="553.5" y="951.4" width="6.5" height="97.6" fill="#f3f3f3"/>
<rect x="562.8" y="571.3" width="11.0" height="46.5" fill="#efefef"/>
<rect x="562.8" y="617.3" width="11.0" height="81.3" fill="#f3f3f3"/>
<rect x="562.8" y="698.1" width="11.0" height="130.0" fill="#f9f9f9"/>
<rect x="562.8" y="827.6" width="11.0" height="123.9" fill="#f3f3f3"/>
<rect x="562.8" y="951.0" width="11.0" height="96.5" fill="#efefef"/>
<rect x="577.1" y="571.3" width="6.4" height="50.4" fill="#f1f1f1"/>
<rect x="577.1" y="621.2" width="6.4" height="64.1" fill="#f1f1f1"/>
<rect x="577.1" y="684.7" width="6.4" height="58.7" fill="#f3f3f3"/>
<rect x="577.1" y="742.9" width="6.4" height="97.1" fill="#fbfbfb"/>
<rect x="577.1" y="839.5" width="6.4" height="108.9" fill="#f3f3f3"/>
<rect x="577.1" y="947.8" width="6.4" height="80.6" fill="#fcfcfc"/>
<rect x="587.5" y="571.3" width="7.2" height="42.1" fill="#f3f3f3"/>
<rect x="587.5" y="612.9" width="7.2" height="43.8" fill="#efefef"/>
<rect x="587.5" y="656.3" width="7.2" height="106.5" fill="#fbfbfb"/>
<rect x="587.5" y="762.2" width="7.2" height="128.5" fill="#fbfbfb"/>
<rect x="587.5" y="890.3" width="7.2" height="83.2" fill="#f9f9f9"/>
<rect x="587.5" y="973.0" width="7.2" height="50.1" fill="#fcfcfc"/>
<rect x="600.8" y="571.3" width="8.3" height="115.6" fill="#f9f9f9"/>
<rect x="600.8" y="686.4" width="8.3" height="127.8" fill="#f3f3f3"/>
<rect x="600.8" y="813.7" width="8.3" height="102.4" fill="#f1f1f1"/>
<rect x="600.8" y="915.6" width="8.3" height="71.3" fill="#fcfcfc"/>
<rect x="600.8" y="986.5" width="8.3" height="106.1" fill="#f1f1f1"/>
<rect x="613.7" y="571.3" width="7.2" height="45.4" fill="#f1f1f1"/>
<rect x="613.7" y="616.2" width="7.2" height="41.8" fill="#fcfcfc"/>
<rect x="613.7" y="657.5" width="7.2" height="107.2" fill="#f3f3f3"/>
<rect x="613.7" y="764.2" width="7.2" height="79.3" fill="#efefef"/>
<rect x="613.7" y="842.9" width="7.2" height="48.1" fill="#f9f9f9"/>
<rect x="613.7" y="890.5" width="7.2" height="118.8" fill="#fcfcfc"/>
<rect x="613.7" y="1008.9" width="7.2" height="127.9" fill="#fbfbfb"/>
<rect x="624.8" y="571.3" width="6.8" height="81.9" fill="#f1f1f1"/>
<rect x="624.8" y="652.7" width="6.8" height="64.7" fill="#efefef"/>
<rect x="624.8" y="716.9" width="6.8" height="64.2" fill="#f3f3f3"/>
<rect x="624.8" y="780.6" width="6.8" height="128.0" fill="#fbfbfb"/>
<rect x="624.8" y="908.1" width="6.8" height="69.6" fill="#efefef"/>
<rect x="624.8" y="977.2" width="6.8" height="127.4" fill="#f3f3f3"/>
<rect x="635.6" y="571.3" width="5.9" height="70.7" fill="#efefef"/>
<rect x="635.6" y="641.5" width="5.9" height="83.2" fill="#fbfbfb"/>
<rect x="635.6" y="724.2" width="5.9" height="99.5" fill="#f1f1f1"/>
<rect x="635.6" y="823.2" width="5.9" height="85.9" fill="#efefef"/>
<rect x="635.6" y="908.7" width="5.9" height="48.7" fill="#efefef"/>
<rect x="635.6" y="956.8" width="5.9" height="53.4" fill="#fbfbfb"/>
<rect x="635.6" y="1009.8" width="5.9" height="44.3" fill="#efefef"/>
<rect x="647.4" y="571.3" width="9.3" height="48.1" fill="#fbfbfb"/>
<rect x="647.4" y="618.9" width="9.3" height="117.3" fill="#f1f1f1"/>
<rect x="647.4" y="735.7" width="9.3" height="99.7" fill="#fcfcfc"/>
<rect x="647.4" y="834.9" width="9.3" height="111.1" fill="#fbfbfb"/>
<rect x="647.4" y="945.4" width="9.3" height="75.6" fill="#f3f3f3"/>
<rect x="663.9" y="571.3" width="8.3" height="66.1" fill="#fbfbfb"/>
<rect x="663.9" y="636.9" width="8.3" height="98.4" fill="#efefef"/>
<rect x="663.9" y="734.8" width="8.3" height="114.7" fill="#fcfcfc"/>
<rect x="663.9" y="849.0" width="8.3" height="120.8" fill="#fcfcfc"/>
<rect x="663.9" y="969.3" width="8.3" height="79.1" fill="#fcfcfc"/>
<rect x="681.5" y="571.3" width="5.6" height="87.6" fill="#fbfbfb"/>
<rect x="681.5" y="658.4" width="5.6" height="91.7" fill="#efefef"/>
<rect x="681.5" y="749.6" width="5.6" height="114.9" fill="#fbfbfb"/>
<rect x="681.5" y="864.0" width="5.6" height="112.3" fill="#fcfcfc"/>
<rect x="681.5" y="975.8" width="5.6" height="102.0" fill="#fcfcfc"/>
<rect x="697.2" y="571.3" width="5.2" height="44.3" fill="#fcfcfc"/>
<rect x="697.2" y="615.1" width="5.2" height="73.0" fill="#efefef"/>
<rect x="697.2" y="687.5" width="5.2" height="74.4" fill="#f9f9f9"/>
<rect x="697.2" y="761.4" width="5.2" height="90.8" fill="#fcfcfc"/>
<rect x="697.2" y="851.7" width="5.2" height="42.2" fill="#fbfbfb"/>
<rect x="697.2" y="893.4" width="5.2" height="101.8" fill="#f9f9f9"/>
<rect x="697.2" y="994.6" width="5.2" height="64.2" fill="#f9f9f9"/>
<rect x="714.6" y="571.3" width="10.2" height="85.8" fill="#fbfbfb"/>
<rect x="714.6" y="656.6" width="10.2" height="48.8" fill="#fbfbfb"/>
<rect x="714.6" y="704.8" width="10.2" height="46.4" fill="#fcfcfc"/>
<rect x="714.6" y="750.8" width="10.2" height="83.1" fill="#efefef"/>
<rect x="714.6" y="833.4" width="10.2" height="116.7" fill="#f1f1f1"/>
<rect x="714.6" y="949.6" width="10.2" height="106.1" fill="#f1f1f1"/>
<rect x="725.6" y="571.3" width="9.5" height="81.9" fill="#f9f9f9"/>
<rect x="725.6" y="652.7" width="9.5" height="47.4" fill="#fcfcfc"/>
<rect x="725.6" y="699.6" width="9.5" height="66.4" fill="#efefef"/>
<rect x="725.6" y="765.5" width="9.5" height="96.0" fill="#fcfcfc"/>
<rect x="725.6" y="861.0" width="9.5" height="58.3" fill="#fbfbfb"/>
<rect x="725.6" y="918.9" width="9.5" height="53.8" fill="#f3f3f3"/>
<rect x="725.6" y="972.1" width="9.5" height="99.1" fill="#fcfcfc"/>
<rect x="737.4" y="571.3" width="8.9" height="41.6" fill="#efefef"/>
<rect x="737.4" y="612.4" width="8.9" height="84.2" fill="#fcfcfc"/>
<rect x="737.4" y="696.1" width="8.9" height="49.5" fill="#f1f1f1"/>
<rect x="737.4" y="745.1" width="8.9" height="101.3" fill="#f3f3f3"/>
<rect x="737.4" y="845.9" width="8.9" height="104.3" fill="#f3f3f3"/>
<rect x="737.4" y="949.7" width="8.9" height="82.3" fill="#f9f9f9"/>
<rect x="754.5" y="571.3" width="12.1" height="89.9" fill="#f3f3f3"/>
<rect x="754.5" y="660.7" width="12.1" height="128.5" fill="#f9f9f9"/>
<rect x="754.5" y="788.7" width="12.1" height="42.1" fill="#f9f9f9"/>
<rect x="754.5" y="830.3" width="12.1" height="47.4" fill="#fbfbfb"/>
<rect x="754.5" y="877.2" width="12.1" height="127.6" fill="#f9f9f9"/>
<rect x="754.5" y="1004.3" width="12.1" height="130.0" fill="#f9f9f9"/>
<rect x="765.2" y="571.3" width="11.7" height="59.5" fill="#fbfbfb"/>
<rect x="765.2" y="630.3" width="11.7" height="48.6" fill="#fcfcfc"/>
<rect x="765.2" y="678.4" width="11.7" height="87.7" fill="#f3f3f3"/>
<rect x="765.2" y="765.6" width="11.7" height="52.4" fill="#fcfcfc"/>
<rect x="765.2" y="817.5" width="11.7" height="86.3" fill="#efefef"/>
<rect x="765.2" y="903.3" width="11.7" height="103.8" fill="#f1f1f1"/>
<rect x="765.2" y="1006.6" width="11.7" height="85.3" fill="#f9f9f9"/>
<rect x="778.1" y="571.3" width="5.8" height="126.0" fill="#fcfcfc"/>
<rect x="778.1" y="696.8" width="5.8" height="81.1" fill="#f3f3f3"/>
<rect x="778.1" y="777.4" width="5.8" height="105.9" fill="#f9f9f9"/>
<rect x="778.1" y="882.8" width="5.8" height="71.5" fill="#f3f3f3"/>
<rect x="778.1" y="953.8" width="5.8" height="51.4" fill="#f3f3f3"/>
<rect x="778.1" y="1004.6" width="5.8" height="40.7" fill="#f3f3f3"/>
</g>
<g filter="url(#blur2)" opacity="0.45">
<path d="M156.2,911.5 L391.4,911.5 L402.1,912.6 L793.6,912.6" fill="none" stroke="#c3c3c3" stroke-width="28.7" stroke-linejoin="round" stroke-linecap="round" opacity="1.00"/>
<path d="M156.2,736.2 L311.0,736.2 L308.0,774.5 L285.2,798.4 L156.2,803.1Z" fill="#cbcbcb" opacity="1.00"/>
<ellipse cx="226.0" cy="770.2" rx="44.0" ry="5.3" fill="#e0e0e0" opacity="1.00"/>
<path d="M156.2,745.0 L330.7,744.2" fill="none" stroke="#b3b3b3" stroke-width="31.9" stroke-linejoin="round" stroke-linecap="round" opacity="1.00"/>
<path d="M156.2,796.0 L259.4,796.0 L280.7,788.8" fill="none" stroke="#aaaaaa" stroke-width="30.3" stroke-linejoin="round" stroke-linecap="round" opacity="1.00"/>
<path d="M270.0,792.0 L280.7,787.2 L294.3,777.7 L306.5,761.7 L318.6,747.4" fill="none" stroke="#b6b6b6" stroke-width="23.9" stroke-linejoin="round" stroke-linecap="round" opacity="1.00"/>
<path d="M314.0,742.6 L327.7,725.1 L339.8,699.6 L355.0,683.7 L408.1,683.7 L426.3,691.6 L447.6,707.6 L473.4,731.5 L473.4,742.6Z" fill="#bebebe" opacity="1.00"/>
<path d="M347.4,690.8 L359.6,687.7 L399.0,689.3 L423.3,696.4 L447.6,713.9 L471.9,736.2" fill="none" stroke="#b2b2b2" stroke-width="17.5" stroke-linejoin="round" stroke-linecap="round" opacity="1.00"/>
<path d="M356.5,688.5 L396.0,688.5" fill="none" stroke="#aaaaaa" stroke-width="14.3" stroke-linejoin="round" stroke-linecap="round" opacity="1.00"/>
<ellipse cx="377.8" cy="719.5" rx="18.2" ry="8.0" fill="#cecece" opacity="1.00"/>
<path d="M315.6,744.2 L429.4,744.2 L474.9,746.6 L626.6,745.0" fill="none" stroke="#b0b0b0" stroke-width="33.4" stroke-linejoin="round" stroke-linecap="round" opacity="1.00"/>
<path d="M474.9,745.8 L490.1,757.0 L505.2,763.3 L525.0,768.1 L546.2,774.5 L575.1,776.1 L588.7,769.7 L600.9,757.0 L619.1,747.4 L626.6,745.8Z" fill="#c2c2c2" opacity="1.00"/>
<path d="M482.5,764.9 L505.2,771.3 L543.2,780.8 L575.1,784.0 L596.3,772.9 L619.1,755.4" fill="none" stroke="#cdcdcd" stroke-width="23.9" stroke-linejoin="round" stroke-linecap="round" opacity="1.00"/>
<path d="M620.6,747.4 L641.8,745.8 L793.6,745.0" fill="none" stroke="#bdbdbd" stroke-width="23.9" stroke-linejoin="round" stroke-linecap="round" opacity="1.00"/>
<path d="M620.6,743.4 L641.8,735.4 L664.6,732.3 L793.6,731.5" fill="none" stroke="#b4b4b4" stroke-width="31.9" stroke-linejoin="round" stroke-linecap="round" opacity="1.00"/>
</g>
<g filter="url(#blur)">
<path d="M156.2,911.5 L391.4,911.5 L402.1,912.6 L793.6,912.6" fill="none" stroke="#c3c3c3" stroke-width="28.7" stroke-linejoin="round" stroke-linecap="round" opacity="1.00"/>
<path d="M156.2,736.2 L311.0,736.2 L308.0,774.5 L285.2,798.4 L156.2,803.1Z" fill="#cbcbcb" opacity="1.00"/>
<ellipse cx="226.0" cy="770.2" rx="44.0" ry="5.3" fill="#e0e0e0" opacity="1.00"/>
<path d="M156.2,745.0 L330.7,744.2" fill="none" stroke="#b3b3b3" stroke-width="31.9" stroke-linejoin="round" stroke-linecap="round" opacity="1.00"/>
<path d="M156.2,796.0 L259.4,796.0 L280.7,788.8" fill="none" stroke="#aaaaaa" stroke-width="30.3" stroke-linejoin="round" stroke-linecap="round" opacity="1.00"/>
<path d="M270.0,792.0 L280.7,787.2 L294.3,777.7 L306.5,761.7 L318.6,747.4" fill="none" stroke="#b6b6b6" stroke-width="23.9" stroke-linejoin="round" stroke-linecap="round" opacity="1.00"/>
<path d="M314.0,742.6 L327.7,725.1 L339.8,699.6 L355.0,683.7 L408.1,683.7 L426.3,691.6 L447.6,707.6 L473.4,731.5 L473.4,742.6Z" fill="#bebebe" opacity="1.00"/>
<path d="M347.4,690.8 L359.6,687.7 L399.0,689.3 L423.3,696.4 L447.6,713.9 L471.9,736.2" fill="none" stroke="#b2b2b2" stroke-width="17.5" stroke-linejoin="round" stroke-linecap="round" opacity="1.00"/>
<path d="M356.5,688.5 L396.0,688.5" fill="none" stroke="#aaaaaa" stroke-width="14.3" stroke-linejoin="round" stroke-linecap="round" opacity="1.00"/>
<ellipse cx="377.8" cy="719.5" rx="18.2" ry="8.0" fill="#cecece" opacity="1.00"/>
<path d="M315.6,744.2 L429.4,744.2 L474.9,746.6 L626.6,745.0" fill="none" stroke="#b0b0b0" stroke-width="33.4" stroke-linejoin="round" stroke-linecap="round" opacity="1.00"/>
<path d="M474.9,745.8 L490.1,757.0 L505.2,763.3 L525.0,768.1 L546.2,774.5 L575.1,776.1 L588.7,769.7 L600.9,757.0 L619.1,747.4 L626.6,745.8Z" fill="#c2c2c2" opacity="1.00"/>
<path d="M482.5,764.9 L505.2,771.3 L543.2,780.8 L575.1,784.0 L596.3,772.9 L619.1,755.4" fill="none" stroke="#cdcdcd" stroke-width="23.9" stroke-linejoin="round" stroke-linecap="round" opacity="1.00"/>
<path d="M620.6,747.4 L641.8,745.8 L793.6,745.0" fill="none" stroke="#bdbdbd" stroke-width="23.9" stroke-linejoin="round" stroke-linecap="round" opacity="1.00"/>
<path d="M620.6,743.4 L641.8,735.4 L664.6,732.3 L793.6,731.5" fill="none" stroke="#b4b4b4" stroke-width="31.9" stroke-linejoin="round" stroke-linecap="round" opacity="1.00"/>
</g>
<g stroke="#ffffff" stroke-width="1.6">
<path d="M325.6,592.9 L325.6,987.9" opacity="0.55"/>
<path d="M320.6,592.9 L320.6,987.9" opacity="0.25"/>
<path d="M477.4,592.9 L477.4,987.9" opacity="0.55"/>
<path d="M472.4,592.9 L472.4,987.9" opacity="0.25"/>
<path d="M629.1,592.9 L629.1,987.9" opacity="0.55"/>
<path d="M624.1,592.9 L624.1,987.9" opacity="0.25"/>
</g>
<path d="M171.4,744.5 L176.5,744.5 L181.5,744.5 L186.9,744.5 L194.6,749.6 L199.7,749.6 L204.7,749.6 L209.8,749.6 L214.9,749.6 L219.9,749.6 L223.1,749.6 L229.2,744.5 L234.3,744.5 L239.3,744.5 L244.4,744.5 L249.5,744.5 L254.5,744.5 L259.6,744.5 L264.6,744.5 L269.7,744.5 L274.7,744.5 L279.8,744.5 L284.9,744.5 L289.9,744.5 L295.0,744.5 L300.0,744.5 L303.0,744.5 L308.0,754.4 L313.0,744.5 L318.0,744.5 L323.1,744.5 L328.2,744.5 L333.2,744.5 L338.3,744.5 L343.3,744.5 L348.4,744.5 L353.4,744.5 L358.5,744.5 L363.6,744.5 L368.6,744.5 L373.7,744.5 L378.7,744.5 L383.8,744.5 L388.9,744.5 L393.9,744.5 L399.0,744.5 L404.0,744.5 L409.1,744.5 L414.1,744.5 L419.2,744.5 L424.3,744.5 L427.1,744.5 L447.4,732.6 L452.5,738.8 L457.5,737.9 L462.6,740.9 L467.7,742.5 L472.7,747.2 L477.2,751.4" fill="none" stroke="#d42d4e" stroke-width="4.6" stroke-linejoin="round"/>
<g fill="#d42d4e">
<circle cx="171.4" cy="744.5" r="5.20"/>
<circle cx="176.5" cy="744.5" r="5.20"/>
<circle cx="181.5" cy="744.5" r="5.20"/>
<circle cx="186.9" cy="744.5" r="5.20"/>
<circle cx="194.6" cy="749.6" r="5.20"/>
<circle cx="199.7" cy="749.6" r="5.20"/>
<circle cx="204.7" cy="749.6" r="5.20"/>
<circle cx="209.8" cy="749.6" r="5.20"/>
<circle cx="214.9" cy="749.6" r="5.20"/>
<circle cx="219.9" cy="749.6" r="5.20"/>
<circle cx="223.1" cy="749.6" r="5.20"/>
<circle cx="229.2" cy="744.5" r="5.20"/>
<circle cx="234.3" cy="744.5" r="5.20"/>
<circle cx="239.3" cy="744.5" r="5.20"/>
<circle cx="244.4" cy="744.5" r="5.20"/>
<circle cx="249.5" cy="744.5" r="5.20"/>
<circle cx="254.5" cy="744.5" r="5.20"/>
<circle cx="259.6" cy="744.5" r="5.20"/>
<circle cx="264.6" cy="744.5" r="5.20"/>
<circle cx="269.7" cy="744.5" r="5.20"/>
<circle cx="274.7" cy="744.5" r="5.20"/>
<circle cx="279.8" cy="744.5" r="5.20"/>
<circle cx="284.9" cy="744.5" r="5.20"/>
<circle cx="289.9" cy="744.5" r="5.20"/>
<circle cx="295.0" cy="744.5" r="5.20"/>
<circle cx="300.0" cy="744.5" r="5.20"/>
<circle cx="303.0" cy="744.5" r="5.20"/>
<circle cx="308.0" cy="754.4" r="5.20"/>
<circle cx="313.0" cy="744.5" r="5.20"/>
<circle cx="318.0" cy="744.5" r="5.20"/>
<circle cx="323.1" cy="744.5" r="5.20"/>
<circle cx="328.2" cy="744.5" r="5.20"/>
<circle cx="333.2" cy="744.5" r="5.20"/>
<circle cx="338.3" cy="744.5" r="5.20"/>
<circle cx="343.3" cy="744.5" r="5.20"/>
<circle cx="348.4" cy="744.5" r="5.20"/>
<circle cx="353.4" cy="744.5" r="5.20"/>
<circle cx="358.5" cy="744.5" r="5.20"/>
<circle cx="363.6" cy="744.5" r="5.20"/>
<circle cx="368.6" cy="744.5" r="5.20"/>
<circle cx="373.7" cy="744.5" r="5.20"/>
<circle cx="378.7" cy="744.5" r="5.20"/>
<circle cx="383.8" cy="744.5" r="5.20"/>
<circle cx="388.9" cy="744.5" r="5.20"/>
<circle cx="393.9" cy="744.5" r="5.20"/>
<circle cx="399.0" cy="744.5" r="5.20"/>
<circle cx="404.0" cy="744.5" r="5.20"/>
<circle cx="409.1" cy="744.5" r="5.20"/>
<circle cx="414.1" cy="744.5" r="5.20"/>
<circle cx="419.2" cy="744.5" r="5.20"/>
<circle cx="424.3" cy="744.5" r="5.20"/>
<circle cx="427.1" cy="744.5" r="5.20"/>
<circle cx="447.4" cy="732.6" r="5.20"/>
<circle cx="452.5" cy="738.8" r="5.20"/>
<circle cx="457.5" cy="737.9" r="5.20"/>
<circle cx="462.6" cy="740.9" r="5.20"/>
<circle cx="467.7" cy="742.5" r="5.20"/>
<circle cx="472.7" cy="747.2" r="5.20"/>
<circle cx="477.2" cy="751.4" r="5.20"/>
</g>
<path d="M173.7,792.0 L178.7,797.9 L183.8,797.9 L188.9,797.9 L193.9,797.9 L199.0,797.9 L204.0,797.9 L209.1,797.9 L214.1,797.9 L219.2,797.9 L224.3,797.9 L229.3,797.9 L234.4,797.9 L239.4,797.9 L244.5,797.9 L249.6,797.9 L252.7,797.9 L257.7,793.7 L262.8,793.7 L268.1,789.0 L273.1,789.0 L277.8,784.2 L282.8,784.2 L288.9,779.1" fill="none" stroke="#467d14" stroke-width="4.6" stroke-linejoin="round"/>
<g fill="#467d14">
<circle cx="173.7" cy="792.0" r="5.20"/>
<circle cx="178.7" cy="797.9" r="5.20"/>
<circle cx="183.8" cy="797.9" r="5.20"/>
<circle cx="188.9" cy="797.9" r="5.20"/>
<circle cx="193.9" cy="797.9" r="5.20"/>
<circle cx="199.0" cy="797.9" r="5.20"/>
<circle cx="204.0" cy="797.9" r="5.20"/>
<circle cx="209.1" cy="797.9" r="5.20"/>
<circle cx="214.1" cy="797.9" r="5.20"/>
<circle cx="219.2" cy="797.9" r="5.20"/>
<circle cx="224.3" cy="797.9" r="5.20"/>
<circle cx="229.3" cy="797.9" r="5.20"/>
<circle cx="234.4" cy="797.9" r="5.20"/>
<circle cx="239.4" cy="797.9" r="5.20"/>
<circle cx="244.5" cy="797.9" r="5.20"/>
<circle cx="249.6" cy="797.9" r="5.20"/>
<circle cx="252.7" cy="797.9" r="5.20"/>
<circle cx="257.7" cy="793.7" r="5.20"/>
<circle cx="262.8" cy="793.7" r="5.20"/>
<circle cx="268.1" cy="789.0" r="5.20"/>
<circle cx="273.1" cy="789.0" r="5.20"/>
<circle cx="277.8" cy="784.2" r="5.20"/>
<circle cx="282.8" cy="784.2" r="5.20"/>
<circle cx="288.9" cy="779.1" r="5.20"/>
</g>
<path d="M353.0,705.3 L358.1,700.1 L363.2,700.1 L368.2,700.1 L373.3,700.1 L378.3,700.1 L383.4,700.1 L388.5,700.7 L393.5,705.2 L398.6,705.2 L403.6,705.2 L408.7,705.2 L413.7,705.2 L418.8,705.9 L423.9,711.0 L428.9,716.3 L432.4,720.0" fill="none" stroke="#3eaa87" stroke-width="4.6" stroke-linejoin="round"/>
<g fill="#3eaa87">
<circle cx="353.0" cy="705.3" r="5.20"/>
<circle cx="358.1" cy="700.1" r="5.20"/>
<circle cx="363.2" cy="700.1" r="5.20"/>
<circle cx="368.2" cy="700.1" r="5.20"/>
<circle cx="373.3" cy="700.1" r="5.20"/>
<circle cx="378.3" cy="700.1" r="5.20"/>
<circle cx="383.4" cy="700.1" r="5.20"/>
<circle cx="388.5" cy="700.7" r="5.20"/>
<circle cx="393.5" cy="705.2" r="5.20"/>
<circle cx="398.6" cy="705.2" r="5.20"/>
<circle cx="403.6" cy="705.2" r="5.20"/>
<circle cx="408.7" cy="705.2" r="5.20"/>
<circle cx="413.7" cy="705.2" r="5.20"/>
<circle cx="418.8" cy="705.9" r="5.20"/>
<circle cx="423.9" cy="711.0" r="5.20"/>
<circle cx="428.9" cy="716.3" r="5.20"/>
<circle cx="432.4" cy="720.0" r="5.20"/>
</g>
<path d="M477.6,749.6 L523.5,744.7 L528.5,744.7 L533.6,744.7 L538.6,744.7 L543.7,744.7 L548.8,744.7 L553.8,744.7 L558.9,744.7 L563.9,744.7 L569.0,748.3 L572.2,752.0 L603.6,749.3 L608.6,749.3 L613.7,746.6 L619.1,744.7" fill="none" stroke="#3eaa87" stroke-width="4.6" stroke-linejoin="round"/>
<g fill="#3eaa87">
<circle cx="477.6" cy="749.6" r="5.20"/>
<circle cx="523.5" cy="744.7" r="5.20"/>
<circle cx="528.5" cy="744.7" r="5.20"/>
<circle cx="533.6" cy="744.7" r="5.20"/>
<circle cx="538.6" cy="744.7" r="5.20"/>
<circle cx="543.7" cy="744.7" r="5.20"/>
<circle cx="548.8" cy="744.7" r="5.20"/>
<circle cx="553.8" cy="744.7" r="5.20"/>
<circle cx="558.9" cy="744.7" r="5.20"/>
<circle cx="563.9" cy="744.7" r="5.20"/>
<circle cx="569.0" cy="748.3" r="5.20"/>
<circle cx="572.2" cy="752.0" r="5.20"/>
<circle cx="603.6" cy="749.3" r="5.20"/>
<circle cx="608.6" cy="749.3" r="5.20"/>
<circle cx="613.7" cy="746.6" r="5.20"/>
<circle cx="619.1" cy="744.7" r="5.20"/>
</g>
<path d="M477.9,755.2 L483.0,755.2 L488.1,755.2 L493.1,759.3 L498.2,759.3 L503.2,759.3 L508.3,764.1 L513.3,764.1 L518.4,764.1 L523.5,764.1 L528.5,768.9 L533.6,768.9 L538.6,768.9 L543.7,768.9 L548.8,774.0 L553.8,774.0 L558.9,774.0 L563.9,774.0 L569.0,774.0 L574.0,774.0 L579.1,768.9 L584.2,768.9 L589.2,764.0 L594.3,758.3 L599.3,754.6" fill="none" stroke="#f8821a" stroke-width="4.6" stroke-linejoin="round"/>
<g fill="#f8821a">
<circle cx="477.9" cy="755.2" r="5.20"/>
<circle cx="483.0" cy="755.2" r="5.20"/>
<circle cx="488.1" cy="755.2" r="5.20"/>
<circle cx="493.1" cy="759.3" r="5.20"/>
<circle cx="498.2" cy="759.3" r="5.20"/>
<circle cx="503.2" cy="759.3" r="5.20"/>
<circle cx="508.3" cy="764.1" r="5.20"/>
<circle cx="513.3" cy="764.1" r="5.20"/>
<circle cx="518.4" cy="764.1" r="5.20"/>
<circle cx="523.5" cy="764.1" r="5.20"/>
<circle cx="528.5" cy="768.9" r="5.20"/>
<circle cx="533.6" cy="768.9" r="5.20"/>
<circle cx="538.6" cy="768.9" r="5.20"/>
<circle cx="543.7" cy="768.9" r="5.20"/>
<circle cx="548.8" cy="774.0" r="5.20"/>
<circle cx="553.8" cy="774.0" r="5.20"/>
<circle cx="558.9" cy="774.0" r="5.20"/>
<circle cx="563.9" cy="774.0" r="5.20"/>
<circle cx="569.0" cy="774.0" r="5.20"/>
<circle cx="574.0" cy="774.0" r="5.20"/>
<circle cx="579.1" cy="768.9" r="5.20"/>
<circle cx="584.2" cy="768.9" r="5.20"/>
<circle cx="589.2" cy="764.0" r="5.20"/>
<circle cx="594.3" cy="758.3" r="5.20"/>
<circle cx="599.3" cy="754.6" r="5.20"/>
</g>
<path d="M171.4,909.9 L176.5,909.9 L181.5,909.9 L186.6,909.9 L191.6,909.9 L196.7,909.9 L201.8,909.9 L206.8,909.9 L211.9,909.9 L217.7,909.9 L226.0,909.9 L231.1,909.9 L236.1,909.9 L241.2,909.9 L246.3,909.9 L251.3,912.8 L256.4,914.3 L261.4,914.3 L266.5,914.3 L271.6,914.3 L276.6,914.3 L281.7,909.9 L286.7,909.9 L291.8,909.9 L296.8,909.9 L301.9,909.9 L307.0,909.9 L312.0,909.9 L317.1,909.9 L322.1,909.9 L327.2,909.9 L332.3,909.9 L337.3,909.9 L342.4,909.9 L347.4,909.9 L352.5,909.9 L357.5,909.9 L362.6,909.9 L367.7,909.9 L372.7,909.9 L377.8,909.9 L382.8,909.9 L387.9,909.9 L393.0,914.3 L396.1,914.3 L419.4,914.3 L424.4,914.3 L429.5,914.3 L434.5,914.3 L439.6,914.3 L444.7,914.3 L449.7,914.3 L454.8,914.3 L459.8,914.3 L464.9,914.3 L469.9,914.3 L472.6,914.3" fill="none" stroke="#f8821a" stroke-width="4.6" stroke-linejoin="round"/>
<g fill="#f8821a">
<circle cx="171.4" cy="909.9" r="5.20"/>
<circle cx="176.5" cy="909.9" r="5.20"/>
<circle cx="181.5" cy="909.9" r="5.20"/>
<circle cx="186.6" cy="909.9" r="5.20"/>
<circle cx="191.6" cy="909.9" r="5.20"/>
<circle cx="196.7" cy="909.9" r="5.20"/>
<circle cx="201.8" cy="909.9" r="5.20"/>
<circle cx="206.8" cy="909.9" r="5.20"/>
<circle cx="211.9" cy="909.9" r="5.20"/>
<circle cx="217.7" cy="909.9" r="5.20"/>
<circle cx="226.0" cy="909.9" r="5.20"/>
<circle cx="231.1" cy="909.9" r="5.20"/>
<circle cx="236.1" cy="909.9" r="5.20"/>
<circle cx="241.2" cy="909.9" r="5.20"/>
<circle cx="246.3" cy="909.9" r="5.20"/>
<circle cx="251.3" cy="912.8" r="5.20"/>
<circle cx="256.4" cy="914.3" r="5.20"/>
<circle cx="261.4" cy="914.3" r="5.20"/>
<circle cx="266.5" cy="914.3" r="5.20"/>
<circle cx="271.6" cy="914.3" r="5.20"/>
<circle cx="276.6" cy="914.3" r="5.20"/>
<circle cx="281.7" cy="909.9" r="5.20"/>
<circle cx="286.7" cy="909.9" r="5.20"/>
<circle cx="291.8" cy="909.9" r="5.20"/>
<circle cx="296.8" cy="909.9" r="5.20"/>
<circle cx="301.9" cy="909.9" r="5.20"/>
<circle cx="307.0" cy="909.9" r="5.20"/>
<circle cx="312.0" cy="909.9" r="5.20"/>
<circle cx="317.1" cy="909.9" r="5.20"/>
<circle cx="322.1" cy="909.9" r="5.20"/>
<circle cx="327.2" cy="909.9" r="5.20"/>
<circle cx="332.3" cy="909.9" r="5.20"/>
<circle cx="337.3" cy="909.9" r="5.20"/>
<circle cx="342.4" cy="909.9" r="5.20"/>
<circle cx="347.4" cy="909.9" r="5.20"/>
<circle cx="352.5" cy="909.9" r="5.20"/>
<circle cx="357.5" cy="909.9" r="5.20"/>
<circle cx="362.6" cy="909.9" r="5.20"/>
<circle cx="367.7" cy="909.9" r="5.20"/>
<circle cx="372.7" cy="909.9" r="5.20"/>
<circle cx="377.8" cy="909.9" r="5.20"/>
<circle cx="382.8" cy="909.9" r="5.20"/>
<circle cx="387.9" cy="909.9" r="5.20"/>
<circle cx="393.0" cy="914.3" r="5.20"/>
<circle cx="396.1" cy="914.3" r="5.20"/>
<circle cx="419.4" cy="914.3" r="5.20"/>
<circle cx="424.4" cy="914.3" r="5.20"/>
<circle cx="429.5" cy="914.3" r="5.20"/>
<circle cx="434.5" cy="914.3" r="5.20"/>
<circle cx="439.6" cy="914.3" r="5.20"/>
<circle cx="444.7" cy="914.3" r="5.20"/>
<circle cx="449.7" cy="914.3" r="5.20"/>
<circle cx="454.8" cy="914.3" r="5.20"/>
<circle cx="459.8" cy="914.3" r="5.20"/>
<circle cx="464.9" cy="914.3" r="5.20"/>
<circle cx="469.9" cy="914.3" r="5.20"/>
<circle cx="472.6" cy="914.3" r="5.20"/>
</g>
<path d="M476.0,914.3 L481.0,914.3 L486.1,914.3 L491.1,914.3 L496.2,914.3 L501.3,914.3 L506.3,914.3 L511.4,914.3 L514.8,914.3 L532.6,914.3 L535.6,914.3 L562.8,914.3 L567.8,914.3 L572.9,914.3 L577.9,914.3 L583.0,914.3 L588.1,914.3 L593.1,914.3 L598.2,914.3 L603.2,914.3 L608.3,914.3 L613.3,914.3 L619.1,914.3" fill="none" stroke="#c8281a" stroke-width="4.6" stroke-linejoin="round"/>
<g fill="#c8281a">
<circle cx="476.0" cy="914.3" r="5.20"/>
<circle cx="481.0" cy="914.3" r="5.20"/>
<circle cx="486.1" cy="914.3" r="5.20"/>
<circle cx="491.1" cy="914.3" r="5.20"/>
<circle cx="496.2" cy="914.3" r="5.20"/>
<circle cx="501.3" cy="914.3" r="5.20"/>
<circle cx="506.3" cy="914.3" r="5.20"/>
<circle cx="511.4" cy="914.3" r="5.20"/>
<circle cx="514.8" cy="914.3" r="5.20"/>
<circle cx="532.6" cy="914.3" r="5.20"/>
<circle cx="535.6" cy="914.3" r="5.20"/>
<circle cx="562.8" cy="914.3" r="5.20"/>
<circle cx="567.8" cy="914.3" r="5.20"/>
<circle cx="572.9" cy="914.3" r="5.20"/>
<circle cx="577.9" cy="914.3" r="5.20"/>
<circle cx="583.0" cy="914.3" r="5.20"/>
<circle cx="588.1" cy="914.3" r="5.20"/>
<circle cx="593.1" cy="914.3" r="5.20"/>
<circle cx="598.2" cy="914.3" r="5.20"/>
<circle cx="603.2" cy="914.3" r="5.20"/>
<circle cx="608.3" cy="914.3" r="5.20"/>
<circle cx="613.3" cy="914.3" r="5.20"/>
<circle cx="619.1" cy="914.3" r="5.20"/>
</g>
<circle cx="477.6" cy="749.2" r="11.4" fill="#c42222"/>
<circle cx="502.5" cy="758.3" r="11.4" fill="#289628"/>
<path d="M431.70,719.80 L434.17,718.63 L436.60,717.53 L438.99,716.52 L441.33,715.58 L443.63,714.73 L445.89,713.95 L448.10,713.26 L450.27,712.64 L452.40,712.10 L454.48,711.64 L456.53,711.26 L458.52,710.96 L460.48,710.74 L462.39,710.60 L464.26,710.53 L466.08,710.55 L467.87,710.65 L469.61,710.82 L471.30,711.08 L472.96,711.41 L474.57,711.82 L476.13,712.32 L477.66,712.89 L479.14,713.54 L480.57,714.27 L481.97,715.08 L483.32,715.97 L484.63,716.94 L485.89,717.98 L487.12,719.11 L488.29,720.32 L489.43,721.60 L490.52,722.97 L491.57,724.41 L492.58,725.93 L493.54,727.54 L494.46,729.22 L495.34,730.98 L496.17,732.82 L496.96,734.74 L497.71,736.74 L498.42,738.82 L499.08,740.98 L499.25,741.58" fill="none" stroke="#000" stroke-width="6.6" stroke-linecap="butt" stroke-linejoin="round"/>
<path d="M502.06,726.85 L499.25,741.58 L488.98,730.65" fill="none" stroke="#000" stroke-width="6.6" stroke-linecap="round" stroke-linejoin="miter"/>
<circle cx="431.7" cy="719.8" r="11.0" fill="#000"/>
</g>
<g clip-path="url(#clipD)">
<rect x="899.8" y="591.3" width="607.0" height="398.2" fill="#f7f7f7"/>
<g filter="url(#blur)">
<rect x="896.8" y="571.3" width="7.0" height="54.1" fill="#fcfcfc"/>
<rect x="896.8" y="624.9" width="7.0" height="44.8" fill="#fbfbfb"/>
<rect x="896.8" y="669.2" width="7.0" height="49.0" fill="#fbfbfb"/>
<rect x="896.8" y="717.7" width="7.0" height="45.7" fill="#fbfbfb"/>
<rect x="896.8" y="762.9" width="7.0" height="59.8" fill="#efefef"/>
<rect x="896.8" y="822.2" width="7.0" height="79.5" fill="#efefef"/>
<rect x="896.8" y="901.3" width="7.0" height="62.2" fill="#fbfbfb"/>
<rect x="896.8" y="962.9" width="7.0" height="78.7" fill="#fbfbfb"/>
<rect x="906.5" y="571.3" width="6.2" height="97.0" fill="#efefef"/>
<rect x="906.5" y="667.8" width="6.2" height="92.4" fill="#f9f9f9"/>
<rect x="906.5" y="759.7" width="6.2" height="45.0" fill="#f1f1f1"/>
<rect x="906.5" y="804.2" width="6.2" height="44.7" fill="#f1f1f1"/>
<rect x="906.5" y="848.4" width="6.2" height="66.6" fill="#f1f1f1"/>
<rect x="906.5" y="914.4" width="6.2" height="89.2" fill="#fbfbfb"/>
<rect x="906.5" y="1003.1" width="6.2" height="68.3" fill="#fcfcfc"/>
<rect x="916.9" y="571.3" width="9.0" height="98.0" fill="#f3f3f3"/>
<rect x="916.9" y="668.8" width="9.0" height="49.3" fill="#fcfcfc"/>
<rect x="916.9" y="717.6" width="9.0" height="46.2" fill="#efefef"/>
<rect x="916.9" y="763.2" width="9.0" height="96.2" fill="#f9f9f9"/>
<rect x="916.9" y="858.9" width="9.0" height="101.7" fill="#f9f9f9"/>
<rect x="916.9" y="960.2" width="9.0" height="110.5" fill="#f9f9f9"/>
<rect x="931.9" y="571.3" width="8.0" height="67.5" fill="#f1f1f1"/>
<rect x="931.9" y="638.3" width="8.0" height="103.4" fill="#f1f1f1"/>
<rect x="931.9" y="741.2" width="8.0" height="47.9" fill="#f3f3f3"/>
<rect x="931.9" y="788.6" width="8.0" height="87.8" fill="#f3f3f3"/>
<rect x="931.9" y="875.8" width="8.0" height="106.2" fill="#f3f3f3"/>
<rect x="931.9" y="981.5" width="8.0" height="95.3" fill="#efefef"/>
<rect x="941.6" y="571.3" width="7.7" height="108.6" fill="#f1f1f1"/>
<rect x="941.6" y="679.4" width="7.7" height="124.5" fill="#f9f9f9"/>
<rect x="941.6" y="803.4" width="7.7" height="44.0" fill="#fcfcfc"/>
<rect x="941.6" y="847.0" width="7.7" height="47.5" fill="#fbfbfb"/>
<rect x="941.6" y="894.0" width="7.7" height="92.1" fill="#f3f3f3"/>
<rect x="941.6" y="985.5" width="7.7" height="71.1" fill="#f3f3f3"/>
<rect x="956.7" y="571.3" width="9.0" height="81.6" fill="#efefef"/>
<rect x="956.7" y="652.4" width="9.0" height="125.5" fill="#f9f9f9"/>
<rect x="956.7" y="777.4" width="9.0" height="103.2" fill="#efefef"/>
<rect x="956.7" y="880.1" width="9.0" height="46.0" fill="#fcfcfc"/>
<rect x="956.7" y="925.6" width="9.0" height="68.4" fill="#fbfbfb"/>
<rect x="956.7" y="993.4" width="9.0" height="129.9" fill="#f9f9f9"/>
<rect x="968.3" y="571.3" width="7.5" height="100.7" fill="#efefef"/>
<rect x="968.3" y="671.5" width="7.5" height="125.2" fill="#f3f3f3"/>
<rect x="968.3" y="796.1" width="7.5" height="55.6" fill="#efefef"/>
<rect x="968.3" y="851.3" width="7.5" height="84.9" fill="#f1f1f1"/>
<rect x="968.3" y="935.7" width="7.5" height="109.6" fill="#f1f1f1"/>
<rect x="985.1" y="571.3" width="7.6" height="123.0" fill="#f9f9f9"/>
<rect x="985.1" y="693.8" width="7.6" height="47.8" fill="#f9f9f9"/>
<rect x="985.1" y="741.1" width="7.6" height="76.6" fill="#f3f3f3"/>
<rect x="985.1" y="817.2" width="7.6" height="120.0" fill="#f9f9f9"/>
<rect x="985.1" y="936.7" width="7.6" height="118.3" fill="#f3f3f3"/>
<rect x="1001.5" y="571.3" width="12.0" height="101.9" fill="#f9f9f9"/>
<rect x="1001.5" y="672.7" width="12.0" height="126.7" fill="#f1f1f1"/>
<rect x="1001.5" y="798.9" width="12.0" height="48.0" fill="#f1f1f1"/>
<rect x="1001.5" y="846.4" width="12.0" height="61.4" fill="#f1f1f1"/>
<rect x="1001.5" y="907.3" width="12.0" height="41.6" fill="#fbfbfb"/>
<rect x="1001.5" y="948.4" width="12.0" height="56.9" fill="#f3f3f3"/>
<rect x="1001.5" y="1004.8" width="12.0" height="40.9" fill="#f9f9f9"/>
<rect x="1015.9" y="571.3" width="9.2" height="69.2" fill="#f1f1f1"/>
<rect x="1015.9" y="640.0" width="9.2" height="102.6" fill="#fbfbfb"/>
<rect x="1015.9" y="742.1" width="9.2" height="126.0" fill="#fcfcfc"/>
<rect x="1015.9" y="867.6" width="9.2" height="101.4" fill="#efefef"/>
<rect x="1015.9" y="968.5" width="9.2" height="81.6" fill="#fcfcfc"/>
<rect x="1033.3" y="571.3" width="7.5" height="76.4" fill="#efefef"/>
<rect x="1033.3" y="647.2" width="7.5" height="83.8" fill="#f9f9f9"/>
<rect x="1033.3" y="730.5" width="7.5" height="46.1" fill="#efefef"/>
<rect x="1033.3" y="776.1" width="7.5" height="129.1" fill="#f9f9f9"/>
<rect x="1033.3" y="904.8" width="7.5" height="55.1" fill="#f3f3f3"/>
<rect x="1033.3" y="959.4" width="7.5" height="94.6" fill="#efefef"/>
<rect x="1041.7" y="571.3" width="5.7" height="49.6" fill="#f3f3f3"/>
<rect x="1041.7" y="620.4" width="5.7" height="95.7" fill="#efefef"/>
<rect x="1041.7" y="715.7" width="5.7" height="119.2" fill="#fbfbfb"/>
<rect x="1041.7" y="834.4" width="5.7" height="74.4" fill="#fcfcfc"/>
<rect x="1041.7" y="908.2" width="5.7" height="63.2" fill="#f3f3f3"/>
<rect x="1041.7" y="970.9" width="5.7" height="94.7" fill="#f9f9f9"/>
<rect x="1051.4" y="571.3" width="11.0" height="129.9" fill="#f9f9f9"/>
<rect x="1051.4" y="700.7" width="11.0" height="83.7" fill="#f3f3f3"/>
<rect x="1051.4" y="783.9" width="11.0" height="48.2" fill="#efefef"/>
<rect x="1051.4" y="831.6" width="11.0" height="108.0" fill="#fcfcfc"/>
<rect x="1051.4" y="939.1" width="11.0" height="64.3" fill="#fcfcfc"/>
<rect x="1051.4" y="1002.9" width="11.0" height="55.0" fill="#efefef"/>
<rect x="1062.1" y="571.3" width="11.8" height="73.1" fill="#fcfcfc"/>
<rect x="1062.1" y="643.9" width="11.8" height="89.4" fill="#efefef"/>
<rect x="1062.1" y="732.7" width="11.8" height="108.7" fill="#f3f3f3"/>
<rect x="1062.1" y="841.0" width="11.8" height="128.6" fill="#efefef"/>
<rect x="1062.1" y="969.0" width="11.8" height="103.2" fill="#f3f3f3"/>
<rect x="1076.3" y="571.3" width="11.4" height="72.5" fill="#f1f1f1"/>
<rect x="1076.3" y="643.3" width="11.4" height="88.4" fill="#fbfbfb"/>
<rect x="1076.3" y="731.2" width="11.4" height="70.2" fill="#f1f1f1"/>
<rect x="1076.3" y="800.9" width="11.4" height="95.7" fill="#f1f1f1"/>
<rect x="1076.3" y="896.1" width="11.4" height="113.0" fill="#f9f9f9"/>
<rect x="1076.3" y="1008.7" width="11.4" height="107.1" fill="#f1f1f1"/>
<rect x="1087.0" y="571.3" width="8.3" height="106.3" fill="#efefef"/>
<rect x="1087.0" y="677.1" width="8.3" height="111.6" fill="#f9f9f9"/>
<rect x="1087.0" y="788.2" width="8.3" height="63.8" fill="#fcfcfc"/>
<rect x="1087.0" y="851.5" width="8.3" height="95.0" fill="#f3f3f3"/>
<rect x="1087.0" y="946.0" width="8.3" height="80.8" fill="#fcfcfc"/>
<rect x="1106.5" y="571.3" width="11.8" height="73.3" fill="#f1f1f1"/>
<rect x="1106.5" y="644.1" width="11.8" height="49.7" fill="#f9f9f9"/>
<rect x="1106.5" y="693.3" width="11.8" height="58.2" fill="#f1f1f1"/>
<rect x="1106.5" y="751.0" width="11.8" height="83.9" fill="#fbfbfb"/>
<rect x="1106.5" y="834.5" width="11.8" height="116.1" fill="#f9f9f9"/>
<rect x="1106.5" y="950.1" width="11.8" height="122.3" fill="#f3f3f3"/>
<rect x="1124.0" y="571.3" width="5.2" height="100.0" fill="#f9f9f9"/>
<rect x="1124.0" y="670.8" width="5.2" height="110.9" fill="#f1f1f1"/>
<rect x="1124.0" y="781.2" width="5.2" height="83.5" fill="#f1f1f1"/>
<rect x="1124.0" y="864.2" width="5.2" height="79.6" fill="#fcfcfc"/>
<rect x="1124.0" y="943.2" width="5.2" height="70.4" fill="#fcfcfc"/>
<rect x="1136.8" y="571.3" width="7.6" height="125.7" fill="#fcfcfc"/>
<rect x="1136.8" y="696.5" width="7.6" height="54.8" fill="#f1f1f1"/>
<rect x="1136.8" y="750.8" width="7.6" height="43.0" fill="#fbfbfb"/>
<rect x="1136.8" y="793.3" width="7.6" height="121.9" fill="#fcfcfc"/>
<rect x="1136.8" y="914.7" width="7.6" height="53.7" fill="#fbfbfb"/>
<rect x="1136.8" y="967.9" width="7.6" height="128.7" fill="#fcfcfc"/>
<rect x="1155.9" y="571.3" width="5.7" height="89.8" fill="#efefef"/>
<rect x="1155.9" y="660.6" width="5.7" height="41.8" fill="#fcfcfc"/>
<rect x="1155.9" y="701.9" width="5.7" height="99.0" fill="#fbfbfb"/>
<rect x="1155.9" y="800.4" width="5.7" height="108.0" fill="#f1f1f1"/>
<rect x="1155.9" y="907.9" width="5.7" height="79.5" fill="#f1f1f1"/>
<rect x="1155.9" y="986.9" width="5.7" height="114.9" fill="#f1f1f1"/>
<rect x="1164.5" y="571.3" width="6.2" height="85.6" fill="#fbfbfb"/>
<rect x="1164.5" y="656.4" width="6.2" height="69.8" fill="#fbfbfb"/>
<rect x="1164.5" y="725.7" width="6.2" height="78.2" fill="#f1f1f1"/>
<rect x="1164.5" y="803.5" width="6.2" height="46.0" fill="#fcfcfc"/>
<rect x="1164.5" y="848.9" width="6.2" height="72.3" fill="#f9f9f9"/>
<rect x="1164.5" y="920.8" width="6.2" height="100.1" fill="#fbfbfb"/>
<rect x="1177.7" y="571.3" width="11.5" height="85.6" fill="#fbfbfb"/>
<rect x="1177.7" y="656.4" width="11.5" height="54.2" fill="#fbfbfb"/>
<rect x="1177.7" y="710.1" width="11.5" height="42.2" fill="#f9f9f9"/>
<rect x="1177.7" y="751.8" width="11.5" height="110.4" fill="#fbfbfb"/>
<rect x="1177.7" y="861.7" width="11.5" height="40.9" fill="#f1f1f1"/>
<rect x="1177.7" y="902.0" width="11.5" height="56.0" fill="#f9f9f9"/>
<rect x="1177.7" y="957.5" width="11.5" height="96.2" fill="#efefef"/>
<rect x="1192.3" y="571.3" width="7.0" height="87.2" fill="#fbfbfb"/>
<rect x="1192.3" y="658.0" width="7.0" height="83.9" fill="#efefef"/>
<rect x="1192.3" y="741.4" width="7.0" height="120.0" fill="#efefef"/>
<rect x="1192.3" y="860.9" width="7.0" height="62.9" fill="#f3f3f3"/>
<rect x="1192.3" y="923.2" width="7.0" height="44.3" fill="#efefef"/>
<rect x="1192.3" y="967.0" width="7.0" height="86.2" fill="#fbfbfb"/>
<rect x="1201.0" y="571.3" width="11.3" height="46.2" fill="#f3f3f3"/>
<rect x="1201.0" y="617.0" width="11.3" height="95.6" fill="#fbfbfb"/>
<rect x="1201.0" y="712.1" width="11.3" height="95.1" fill="#f1f1f1"/>
<rect x="1201.0" y="806.7" width="11.3" height="102.8" fill="#f9f9f9"/>
<rect x="1201.0" y="909.0" width="11.3" height="86.2" fill="#f9f9f9"/>
<rect x="1201.0" y="994.8" width="11.3" height="86.2" fill="#f1f1f1"/>
<rect x="1217.3" y="571.3" width="11.2" height="125.3" fill="#f3f3f3"/>
<rect x="1217.3" y="696.1" width="11.2" height="123.6" fill="#f1f1f1"/>
<rect x="1217.3" y="819.1" width="11.2" height="116.1" fill="#f1f1f1"/>
<rect x="1217.3" y="934.7" width="11.2" height="78.0" fill="#f9f9f9"/>
<rect x="1230.7" y="571.3" width="5.1" height="62.2" fill="#efefef"/>
<rect x="1230.7" y="633.0" width="5.1" height="59.6" fill="#f3f3f3"/>
<rect x="1230.7" y="692.1" width="5.1" height="111.1" fill="#f1f1f1"/>
<rect x="1230.7" y="802.7" width="5.1" height="125.1" fill="#fcfcfc"/>
<rect x="1230.7" y="927.2" width="5.1" height="99.9" fill="#f1f1f1"/>
<rect x="1241.9" y="571.3" width="5.6" height="82.6" fill="#fcfcfc"/>
<rect x="1241.9" y="653.4" width="5.6" height="126.2" fill="#f9f9f9"/>
<rect x="1241.9" y="779.1" width="5.6" height="120.1" fill="#f1f1f1"/>
<rect x="1241.9" y="898.8" width="5.6" height="129.6" fill="#f1f1f1"/>
<rect x="1252.1" y="571.3" width="7.8" height="86.9" fill="#f3f3f3"/>
<rect x="1252.1" y="657.7" width="7.8" height="78.4" fill="#f3f3f3"/>
<rect x="1252.1" y="735.6" width="7.8" height="69.2" fill="#fcfcfc"/>
<rect x="1252.1" y="804.3" width="7.8" height="73.4" fill="#f3f3f3"/>
<rect x="1252.1" y="877.2" width="7.8" height="90.4" fill="#f9f9f9"/>
<rect x="1252.1" y="967.1" width="7.8" height="103.8" fill="#f9f9f9"/>
<rect x="1264.2" y="571.3" width="9.3" height="86.6" fill="#efefef"/>
<rect x="1264.2" y="657.4" width="9.3" height="50.7" fill="#f1f1f1"/>
<rect x="1264.2" y="707.6" width="9.3" height="128.0" fill="#efefef"/>
<rect x="1264.2" y="835.0" width="9.3" height="48.1" fill="#f3f3f3"/>
<rect x="1264.2" y="882.6" width="9.3" height="44.1" fill="#f1f1f1"/>
<rect x="1264.2" y="926.1" width="9.3" height="64.8" fill="#f1f1f1"/>
<rect x="1264.2" y="990.5" width="9.3" height="114.3" fill="#fcfcfc"/>
<rect x="1281.9" y="571.3" width="6.5" height="53.9" fill="#fbfbfb"/>
<rect x="1281.9" y="624.7" width="6.5" height="91.9" fill="#fcfcfc"/>
<rect x="1281.9" y="716.1" width="6.5" height="69.9" fill="#f3f3f3"/>
<rect x="1281.9" y="785.5" width="6.5" height="45.7" fill="#fcfcfc"/>
<rect x="1281.9" y="830.7" width="6.5" height="57.0" fill="#efefef"/>
<rect x="1281.9" y="887.2" width="6.5" height="64.7" fill="#efefef"/>
<rect x="1281.9" y="951.4" width="6.5" height="97.6" fill="#f3f3f3"/>
<rect x="1291.2" y="571.3" width="11.0" height="46.5" fill="#efefef"/>
<rect x="1291.2" y="617.3" width="11.0" height="81.3" fill="#f3f3f3"/>
<rect x="1291.2" y="698.1" width="11.0" height="130.0" fill="#f9f9f9"/>
<rect x="1291.2" y="827.6" width="11.0" height="123.9" fill="#f3f3f3"/>
<rect x="1291.2" y="951.0" width="11.0" height="96.5" fill="#efefef"/>
<rect x="1305.5" y="571.3" width="6.4" height="50.4" fill="#f1f1f1"/>
<rect x="1305.5" y="621.2" width="6.4" height="64.1" fill="#f1f1f1"/>
<rect x="1305.5" y="684.7" width="6.4" height="58.7" fill="#f3f3f3"/>
<rect x="1305.5" y="742.9" width="6.4" height="97.1" fill="#fbfbfb"/>
<rect x="1305.5" y="839.5" width="6.4" height="108.9" fill="#f3f3f3"/>
<rect x="1305.5" y="947.8" width="6.4" height="80.6" fill="#fcfcfc"/>
<rect x="1315.9" y="571.3" width="7.2" height="42.1" fill="#f3f3f3"/>
<rect x="1315.9" y="612.9" width="7.2" height="43.8" fill="#efefef"/>
<rect x="1315.9" y="656.3" width="7.2" height="106.5" fill="#fbfbfb"/>
<rect x="1315.9" y="762.2" width="7.2" height="128.5" fill="#fbfbfb"/>
<rect x="1315.9" y="890.3" width="7.2" height="83.2" fill="#f9f9f9"/>
<rect x="1315.9" y="973.0" width="7.2" height="50.1" fill="#fcfcfc"/>
<rect x="1329.2" y="571.3" width="8.3" height="115.6" fill="#f9f9f9"/>
<rect x="1329.2" y="686.4" width="8.3" height="127.8" fill="#f3f3f3"/>
<rect x="1329.2" y="813.7" width="8.3" height="102.4" fill="#f1f1f1"/>
<rect x="1329.2" y="915.6" width="8.3" height="71.3" fill="#fcfcfc"/>
<rect x="1329.2" y="986.5" width="8.3" height="106.1" fill="#f1f1f1"/>
<rect x="1342.1" y="571.3" width="7.2" height="45.4" fill="#f1f1f1"/>
<rect x="1342.1" y="616.2" width="7.2" height="41.8" fill="#fcfcfc"/>
<rect x="1342.1" y="657.5" width="7.2" height="107.2" fill="#f3f3f3"/>
<rect x="1342.1" y="764.2" width="7.2" height="79.3" fill="#efefef"/>
<rect x="1342.1" y="842.9" width="7.2" height="48.1" fill="#f9f9f9"/>
<rect x="1342.1" y="890.5" width="7.2" height="118.8" fill="#fcfcfc"/>
<rect x="1342.1" y="1008.9" width="7.2" height="127.9" fill="#fbfbfb"/>
<rect x="1353.2" y="571.3" width="6.8" height="81.9" fill="#f1f1f1"/>
<rect x="1353.2" y="652.7" width="6.8" height="64.7" fill="#efefef"/>
<rect x="1353.2" y="716.9" width="6.8" height="64.2" fill="#f3f3f3"/>
<rect x="1353.2" y="780.6" width="6.8" height="128.0" fill="#fbfbfb"/>
<rect x="1353.2" y="908.1" width="6.8" height="69.6" fill="#efefef"/>
<rect x="1353.2" y="977.2" width="6.8" height="127.4" fill="#f3f3f3"/>
<rect x="1364.0" y="571.3" width="5.9" height="70.7" fill="#efefef"/>
<rect x="1364.0" y="641.5" width="5.9" height="83.2" fill="#fbfbfb"/>
<rect x="1364.0" y="724.2" width="5.9" height="99.5" fill="#f1f1f1"/>
<rect x="1364.0" y="823.2" width="5.9" height="85.9" fill="#efefef"/>
<rect x="1364.0" y="908.7" width="5.9" height="48.7" fill="#efefef"/>
<rect x="1364.0" y="956.8" width="5.9" height="53.4" fill="#fbfbfb"/>
<rect x="1364.0" y="1009.8" width="5.9" height="44.3" fill="#efefef"/>
<rect x="1375.8" y="571.3" width="9.3" height="48.1" fill="#fbfbfb"/>
<rect x="1375.8" y="618.9" width="9.3" height="117.3" fill="#f1f1f1"/>
<rect x="1375.8" y="735.7" width="9.3" height="99.7" fill="#fcfcfc"/>
<rect x="1375.8" y="834.9" width="9.3" height="111.1" fill="#fbfbfb"/>
<rect x="1375.8" y="945.4" width="9.3" height="75.6" fill="#f3f3f3"/>
<rect x="1392.3" y="571.3" width="8.3" height="66.1" fill="#fbfbfb"/>
<rect x="1392.3" y="636.9" width="8.3" height="98.4" fill="#efefef"/>
<rect x="1392.3" y="734.8" width="8.3" height="114.7" fill="#fcfcfc"/>
<rect x="1392.3" y="849.0" width="8.3" height="120.8" fill="#fcfcfc"/>
<rect x="1392.3" y="969.3" width="8.3" height="79.1" fill="#fcfcfc"/>
<rect x="1409.9" y="571.3" width="5.6" height="87.6" fill="#fbfbfb"/>
<rect x="1409.9" y="658.4" width="5.6" height="91.7" fill="#efefef"/>
<rect x="1409.9" y="749.6" width="5.6" height="114.9" fill="#fbfbfb"/>
<rect x="1409.9" y="864.0" width="5.6" height="112.3" fill="#fcfcfc"/>
<rect x="1409.9" y="975.8" width="5.6" height="102.0" fill="#fcfcfc"/>
<rect x="1425.6" y="571.3" width="5.2" height="44.3" fill="#fcfcfc"/>
<rect x="1425.6" y="615.1" width="5.2" height="73.0" fill="#efefef"/>
<rect x="1425.6" y="687.5" width="5.2" height="74.4" fill="#f9f9f9"/>
<rect x="1425.6" y="761.4" width="5.2" height="90.8" fill="#fcfcfc"/>
<rect x="1425.6" y="851.7" width="5.2" height="42.2" fill="#fbfbfb"/>
<rect x="1425.6" y="893.4" width="5.2" height="101.8" fill="#f9f9f9"/>
<rect x="1425.6" y="994.6" width="5.2" height="64.2" fill="#f9f9f9"/>
<rect x="1443.0" y="571.3" width="10.2" height="85.8" fill="#fbfbfb"/>
<rect x="1443.0" y="656.6" width="10.2" height="48.8" fill="#fbfbfb"/>
<rect x="1443.0" y="704.8" width="10.2" height="46.4" fill="#fcfcfc"/>
<rect x="1443.0" y="750.8" width="10.2" height="83.1" fill="#efefef"/>
<rect x="1443.0" y="833.4" width="10.2" height="116.7" fill="#f1f1f1"/>
<rect x="1443.0" y="949.6" width="10.2" height="106.1" fill="#f1f1f1"/>
<rect x="1454.0" y="571.3" width="9.5" height="81.9" fill="#f9f9f9"/>
<rect x="1454.0" y="652.7" width="9.5" height="47.4" fill="#fcfcfc"/>
<rect x="1454.0" y="699.6" width="9.5" height="66.4" fill="#efefef"/>
<rect x="1454.0" y="765.5" width="9.5" height="96.0" fill="#fcfcfc"/>
<rect x="1454.0" y="861.0" width="9.5" height="58.3" fill="#fbfbfb"/>
<rect x="1454.0" y="918.9" width="9.5" height="53.8" fill="#f3f3f3"/>
<rect x="1454.0" y="972.1" width="9.5" height="99.1" fill="#fcfcfc"/>
<rect x="1465.8" y="571.3" width="8.9" height="41.6" fill="#efefef"/>
<rect x="1465.8" y="612.4" width="8.9" height="84.2" fill="#fcfcfc"/>
<rect x="1465.8" y="696.1" width="8.9" height="49.5" fill="#f1f1f1"/>
<rect x="1465.8" y="745.1" width="8.9" height="101.3" fill="#f3f3f3"/>
<rect x="1465.8" y="845.9" width="8.9" height="104.3" fill="#f3f3f3"/>
<rect x="1465.8" y="949.7" width="8.9" height="82.3" fill="#f9f9f9"/>
<rect x="1482.9" y="571.3" width="12.1" height="89.9" fill="#f3f3f3"/>
<rect x="1482.9" y="660.7" width="12.1" height="128.5" fill="#f9f9f9"/>
<rect x="1482.9" y="788.7" width="12.1" height="42.1" fill="#f9f9f9"/>
<rect x="1482.9" y="830.3" width="12.1" height="47.4" fill="#fbfbfb"/>
<rect x="1482.9" y="877.2" width="12.1" height="127.6" fill="#f9f9f9"/>
<rect x="1482.9" y="1004.3" width="12.1" height="130.0" fill="#f9f9f9"/>
<rect x="1493.6" y="571.3" width="11.7" height="59.5" fill="#fbfbfb"/>
<rect x="1493.6" y="630.3" width="11.7" height="48.6" fill="#fcfcfc"/>
<rect x="1493.6" y="678.4" width="11.7" height="87.7" fill="#f3f3f3"/>
<rect x="1493.6" y="765.6" width="11.7" height="52.4" fill="#fcfcfc"/>
<rect x="1493.6" y="817.5" width="11.7" height="86.3" fill="#efefef"/>
<rect x="1493.6" y="903.3" width="11.7" height="103.8" fill="#f1f1f1"/>
<rect x="1493.6" y="1006.6" width="11.7" height="85.3" fill="#f9f9f9"/>
<rect x="1506.5" y="571.3" width="5.8" height="126.0" fill="#fcfcfc"/>
<rect x="1506.5" y="696.8" width="5.8" height="81.1" fill="#f3f3f3"/>
<rect x="1506.5" y="777.4" width="5.8" height="105.9" fill="#f9f9f9"/>
<rect x="1506.5" y="882.8" width="5.8" height="71.5" fill="#f3f3f3"/>
<rect x="1506.5" y="953.8" width="5.8" height="51.4" fill="#f3f3f3"/>
<rect x="1506.5" y="1004.6" width="5.8" height="40.7" fill="#f3f3f3"/>
</g>
<g filter="url(#blur2)" opacity="0.45">
<path d="M884.6,911.5 L1119.8,911.5 L1130.5,912.6 L1522.0,912.6" fill="none" stroke="#c3c3c3" stroke-width="28.7" stroke-linejoin="round" stroke-linecap="round" opacity="1.00"/>
<path d="M884.6,736.2 L1039.4,736.2 L1036.4,774.5 L1013.6,798.4 L884.6,803.1Z" fill="#cbcbcb" opacity="1.00"/>
<ellipse cx="954.4" cy="770.2" rx="44.0" ry="5.3" fill="#e0e0e0" opacity="1.00"/>
<path d="M884.6,745.0 L1059.1,744.2" fill="none" stroke="#b3b3b3" stroke-width="31.9" stroke-linejoin="round" stroke-linecap="round" opacity="1.00"/>
<path d="M884.6,796.0 L987.8,796.0 L1009.1,788.8" fill="none" stroke="#aaaaaa" stroke-width="30.3" stroke-linejoin="round" stroke-linecap="round" opacity="1.00"/>
<path d="M998.4,792.0 L1009.1,787.2 L1022.7,777.7 L1034.9,761.7 L1047.0,747.4" fill="none" stroke="#b6b6b6" stroke-width="23.9" stroke-linejoin="round" stroke-linecap="round" opacity="1.00"/>
<path d="M1042.4,742.6 L1056.1,725.1 L1068.2,699.6 L1083.4,683.7 L1136.5,683.7 L1154.7,691.6 L1176.0,707.6 L1201.8,731.5 L1201.8,742.6Z" fill="#bebebe" opacity="1.00"/>
<path d="M1075.8,690.8 L1088.0,687.7 L1127.4,689.3 L1151.7,696.4 L1176.0,713.9 L1200.3,736.2" fill="none" stroke="#b2b2b2" stroke-width="17.5" stroke-linejoin="round" stroke-linecap="round" opacity="1.00"/>
<path d="M1084.9,688.5 L1124.4,688.5" fill="none" stroke="#aaaaaa" stroke-width="14.3" stroke-linejoin="round" stroke-linecap="round" opacity="1.00"/>
<ellipse cx="1106.2" cy="719.5" rx="18.2" ry="8.0" fill="#cecece" opacity="1.00"/>
<path d="M1044.0,744.2 L1157.8,744.2 L1203.3,746.6 L1355.0,745.0" fill="none" stroke="#b0b0b0" stroke-width="33.4" stroke-linejoin="round" stroke-linecap="round" opacity="1.00"/>
<path d="M1203.3,745.8 L1218.5,757.0 L1233.7,763.3 L1253.4,768.1 L1274.6,774.5 L1303.5,776.1 L1317.1,769.7 L1329.3,757.0 L1347.5,747.4 L1355.0,745.8Z" fill="#c2c2c2" opacity="1.00"/>
<path d="M1210.9,764.9 L1233.7,771.3 L1271.6,780.8 L1303.5,784.0 L1324.7,772.9 L1347.5,755.4" fill="none" stroke="#cdcdcd" stroke-width="23.9" stroke-linejoin="round" stroke-linecap="round" opacity="1.00"/>
<path d="M1349.0,747.4 L1370.2,745.8 L1522.0,745.0" fill="none" stroke="#bdbdbd" stroke-width="23.9" stroke-linejoin="round" stroke-linecap="round" opacity="1.00"/>
<path d="M1349.0,743.4 L1370.2,735.4 L1393.0,732.3 L1522.0,731.5" fill="none" stroke="#b4b4b4" stroke-width="31.9" stroke-linejoin="round" stroke-linecap="round" opacity="1.00"/>
</g>
<g filter="url(#blur)">
<path d="M884.6,911.5 L1119.8,911.5 L1130.5,912.6 L1522.0,912.6" fill="none" stroke="#c3c3c3" stroke-width="28.7" stroke-linejoin="round" stroke-linecap="round" opacity="1.00"/>
<path d="M884.6,736.2 L1039.4,736.2 L1036.4,774.5 L1013.6,798.4 L884.6,803.1Z" fill="#cbcbcb" opacity="1.00"/>
<ellipse cx="954.4" cy="770.2" rx="44.0" ry="5.3" fill="#e0e0e0" opacity="1.00"/>
<path d="M884.6,745.0 L1059.1,744.2" fill="none" stroke="#b3b3b3" stroke-width="31.9" stroke-linejoin="round" stroke-linecap="round" opacity="1.00"/>
<path d="M884.6,796.0 L987.8,796.0 L1009.1,788.8" fill="none" stroke="#aaaaaa" stroke-width="30.3" stroke-linejoin="round" stroke-linecap="round" opacity="1.00"/>
<path d="M998.4,792.0 L1009.1,787.2 L1022.7,777.7 L1034.9,761.7 L1047.0,747.4" fill="none" stroke="#b6b6b6" stroke-width="23.9" stroke-linejoin="round" stroke-linecap="round" opacity="1.00"/>
<path d="M1042.4,742.6 L1056.1,725.1 L1068.2,699.6 L1083.4,683.7 L1136.5,683.7 L1154.7,691.6 L1176.0,707.6 L1201.8,731.5 L1201.8,742.6Z" fill="#bebebe" opacity="1.00"/>
<path d="M1075.8,690.8 L1088.0,687.7 L1127.4,689.3 L1151.7,696.4 L1176.0,713.9 L1200.3,736.2" fill="none" stroke="#b2b2b2" stroke-width="17.5" stroke-linejoin="round" stroke-linecap="round" opacity="1.00"/>
<path d="M1084.9,688.5 L1124.4,688.5" fill="none" stroke="#aaaaaa" stroke-width="14.3" stroke-linejoin="round" stroke-linecap="round" opacity="1.00"/>
<ellipse cx="1106.2" cy="719.5" rx="18.2" ry="8.0" fill="#cecece" opacity="1.00"/>
<path d="M1044.0,744.2 L1157.8,744.2 L1203.3,746.6 L1355.0,745.0" fill="none" stroke="#b0b0b0" stroke-width="33.4" stroke-linejoin="round" stroke-linecap="round" opacity="1.00"/>
<path d="M1203.3,745.8 L1218.5,757.0 L1233.7,763.3 L1253.4,768.1 L1274.6,774.5 L1303.5,776.1 L1317.1,769.7 L1329.3,757.0 L1347.5,747.4 L1355.0,745.8Z" fill="#c2c2c2" opacity="1.00"/>
<path d="M1210.9,764.9 L1233.7,771.3 L1271.6,780.8 L1303.5,784.0 L1324.7,772.9 L1347.5,755.4" fill="none" stroke="#cdcdcd" stroke-width="23.9" stroke-linejoin="round" stroke-linecap="round" opacity="1.00"/>
<path d="M1349.0,747.4 L1370.2,745.8 L1522.0,745.0" fill="none" stroke="#bdbdbd" stroke-width="23.9" stroke-linejoin="round" stroke-linecap="round" opacity="1.00"/>
<path d="M1349.0,743.4 L1370.2,735.4 L1393.0,732.3 L1522.0,731.5" fill="none" stroke="#b4b4b4" stroke-width="31.9" stroke-linejoin="round" stroke-linecap="round" opacity="1.00"/>
</g>
<g stroke="#ffffff" stroke-width="1.6">
<path d="M1054.0,592.9 L1054.0,987.9" opacity="0.55"/>
<path d="M1049.0,592.9 L1049.0,987.9" opacity="0.25"/>
<path d="M1205.8,592.9 L1205.8,987.9" opacity="0.55"/>
<path d="M1200.8,592.9 L1200.8,987.9" opacity="0.25"/>
<path d="M1357.5,592.9 L1357.5,987.9" opacity="0.55"/>
<path d="M1352.5,592.9 L1352.5,987.9" opacity="0.25"/>
</g>
<path d="M899.8,744.5 L904.9,744.5 L909.9,744.5 L915.3,744.5 L923.0,749.6 L928.1,749.6 L933.1,749.6 L938.2,749.6 L943.3,749.6 L948.3,749.6 L951.5,749.6 L957.6,744.5 L962.7,744.5 L967.7,744.5 L972.8,744.5 L977.9,744.5 L982.9,744.5 L988.0,744.5 L993.0,744.5 L998.1,744.5 L1003.1,744.5 L1008.2,744.5 L1013.3,744.5 L1018.3,744.5 L1023.4,744.5 L1028.4,744.5 L1031.4,744.5 L1036.4,754.4 L1041.4,744.5 L1046.4,744.5 L1051.5,744.5 L1056.6,744.5 L1061.6,744.5 L1066.7,744.5 L1071.7,744.5 L1076.8,744.5 L1081.8,744.5 L1086.9,744.5 L1092.0,744.5 L1097.0,744.5 L1102.1,744.5 L1107.1,744.5 L1112.2,744.5 L1117.3,744.5 L1122.3,744.5 L1127.4,744.5 L1132.4,744.5 L1137.5,744.5 L1142.5,744.5 L1147.6,744.5 L1152.7,744.5 L1155.5,744.5 L1175.8,732.6 L1180.9,738.8 L1185.9,737.9 L1191.0,740.9 L1196.1,742.5 L1201.1,747.2 L1205.6,751.4 L1206.0,749.6 L1251.9,744.7 L1256.9,744.7 L1262.0,744.7 L1267.0,744.7 L1272.1,744.7 L1277.2,744.7 L1282.2,744.7 L1287.3,744.7 L1292.3,744.7 L1297.4,748.3 L1300.6,752.0 L1332.0,749.3 L1337.0,749.3 L1342.1,746.6 L1347.5,744.7" fill="none" stroke="#d42d4e" stroke-width="4.6" stroke-linejoin="round"/>
<g fill="#d42d4e">
<circle cx="899.8" cy="744.5" r="5.20"/>
<circle cx="904.9" cy="744.5" r="5.20"/>
<circle cx="909.9" cy="744.5" r="5.20"/>
<circle cx="915.3" cy="744.5" r="5.20"/>
<circle cx="923.0" cy="749.6" r="5.20"/>
<circle cx="928.1" cy="749.6" r="5.20"/>
<circle cx="933.1" cy="749.6" r="5.20"/>
<circle cx="938.2" cy="749.6" r="5.20"/>
<circle cx="943.3" cy="749.6" r="5.20"/>
<circle cx="948.3" cy="749.6" r="5.20"/>
<circle cx="951.5" cy="749.6" r="5.20"/>
<circle cx="957.6" cy="744.5" r="5.20"/>
<circle cx="962.7" cy="744.5" r="5.20"/>
<circle cx="967.7" cy="744.5" r="5.20"/>
<circle cx="972.8" cy="744.5" r="5.20"/>
<circle cx="977.9" cy="744.5" r="5.20"/>
<circle cx="982.9" cy="744.5" r="5.20"/>
<circle cx="988.0" cy="744.5" r="5.20"/>
<circle cx="993.0" cy="744.5" r="5.20"/>
<circle cx="998.1" cy="744.5" r="5.20"/>
<circle cx="1003.1" cy="744.5" r="5.20"/>
<circle cx="1008.2" cy="744.5" r="5.20"/>
<circle cx="1013.3" cy="744.5" r="5.20"/>
<circle cx="1018.3" cy="744.5" r="5.20"/>
<circle cx="1023.4" cy="744.5" r="5.20"/>
<circle cx="1028.4" cy="744.5" r="5.20"/>
<circle cx="1031.4" cy="744.5" r="5.20"/>
<circle cx="1036.4" cy="754.4" r="5.20"/>
<circle cx="1041.4" cy="744.5" r="5.20"/>
<circle cx="1046.4" cy="744.5" r="5.20"/>
<circle cx="1051.5" cy="744.5" r="5.20"/>
<circle cx="1056.6" cy="744.5" r="5.20"/>
<circle cx="1061.6" cy="744.5" r="5.20"/>
<circle cx="1066.7" cy="744.5" r="5.20"/>
<circle cx="1071.7" cy="744.5" r="5.20"/>
<circle cx="1076.8" cy="744.5" r="5.20"/>
<circle cx="1081.8" cy="744.5" r="5.20"/>
<circle cx="1086.9" cy="744.5" r="5.20"/>
<circle cx="1092.0" cy="744.5" r="5.20"/>
<circle cx="1097.0" cy="744.5" r="5.20"/>
<circle cx="1102.1" cy="744.5" r="5.20"/>
<circle cx="1107.1" cy="744.5" r="5.20"/>
<circle cx="1112.2" cy="744.5" r="5.20"/>
<circle cx="1117.3" cy="744.5" r="5.20"/>
<circle cx="1122.3" cy="744.5" r="5.20"/>
<circle cx="1127.4" cy="744.5" r="5.20"/>
<circle cx="1132.4" cy="744.5" r="5.20"/>
<circle cx="1137.5" cy="744.5" r="5.20"/>
<circle cx="1142.5" cy="744.5" r="5.20"/>
<circle cx="1147.6" cy="744.5" r="5.20"/>
<circle cx="1152.7" cy="744.5" r="5.20"/>
<circle cx="1155.5" cy="744.5" r="5.20"/>
<circle cx="1175.8" cy="732.6" r="5.20"/>
<circle cx="1180.9" cy="738.8" r="5.20"/>
<circle cx="1185.9" cy="737.9" r="5.20"/>
<circle cx="1191.0" cy="740.9" r="5.20"/>
<circle cx="1196.1" cy="742.5" r="5.20"/>
<circle cx="1201.1" cy="747.2" r="5.20"/>
<circle cx="1205.6" cy="751.4" r="5.20"/>
<circle cx="1206.0" cy="749.6" r="5.20"/>
<circle cx="1251.9" cy="744.7" r="5.20"/>
<circle cx="1256.9" cy="744.7" r="5.20"/>
<circle cx="1262.0" cy="744.7" r="5.20"/>
<circle cx="1267.0" cy="744.7" r="5.20"/>
<circle cx="1272.1" cy="744.7" r="5.20"/>
<circle cx="1277.2" cy="744.7" r="5.20"/>
<circle cx="1282.2" cy="744.7" r="5.20"/>
<circle cx="1287.3" cy="744.7" r="5.20"/>
<circle cx="1292.3" cy="744.7" r="5.20"/>
<circle cx="1297.4" cy="748.3" r="5.20"/>
<circle cx="1300.6" cy="752.0" r="5.20"/>
<circle cx="1332.0" cy="749.3" r="5.20"/>
<circle cx="1337.0" cy="749.3" r="5.20"/>
<circle cx="1342.1" cy="746.6" r="5.20"/>
<circle cx="1347.5" cy="744.7" r="5.20"/>
</g>
<path d="M902.1,792.0 L907.1,797.9 L912.2,797.9 L917.3,797.9 L922.3,797.9 L927.4,797.9 L932.4,797.9 L937.5,797.9 L942.5,797.9 L947.6,797.9 L952.7,797.9 L957.7,797.9 L962.8,797.9 L967.8,797.9 L972.9,797.9 L978.0,797.9 L981.1,797.9 L986.1,793.7 L991.2,793.7 L996.5,789.0 L1001.5,789.0 L1006.2,784.2 L1011.2,784.2 L1017.3,779.1" fill="none" stroke="#467d14" stroke-width="4.6" stroke-linejoin="round"/>
<g fill="#467d14">
<circle cx="902.1" cy="792.0" r="5.20"/>
<circle cx="907.1" cy="797.9" r="5.20"/>
<circle cx="912.2" cy="797.9" r="5.20"/>
<circle cx="917.3" cy="797.9" r="5.20"/>
<circle cx="922.3" cy="797.9" r="5.20"/>
<circle cx="927.4" cy="797.9" r="5.20"/>
<circle cx="932.4" cy="797.9" r="5.20"/>
<circle cx="937.5" cy="797.9" r="5.20"/>
<circle cx="942.5" cy="797.9" r="5.20"/>
<circle cx="947.6" cy="797.9" r="5.20"/>
<circle cx="952.7" cy="797.9" r="5.20"/>
<circle cx="957.7" cy="797.9" r="5.20"/>
<circle cx="962.8" cy="797.9" r="5.20"/>
<circle cx="967.8" cy="797.9" r="5.20"/>
<circle cx="972.9" cy="797.9" r="5.20"/>
<circle cx="978.0" cy="797.9" r="5.20"/>
<circle cx="981.1" cy="797.9" r="5.20"/>
<circle cx="986.1" cy="793.7" r="5.20"/>
<circle cx="991.2" cy="793.7" r="5.20"/>
<circle cx="996.5" cy="789.0" r="5.20"/>
<circle cx="1001.5" cy="789.0" r="5.20"/>
<circle cx="1006.2" cy="784.2" r="5.20"/>
<circle cx="1011.2" cy="784.2" r="5.20"/>
<circle cx="1017.3" cy="779.1" r="5.20"/>
</g>
<path d="M1081.4,705.3 L1086.5,700.1 L1091.6,700.1 L1096.6,700.1 L1101.7,700.1 L1106.7,700.1 L1111.8,700.1 L1116.9,700.7 L1121.9,705.2 L1127.0,705.2 L1132.0,705.2 L1137.1,705.2 L1142.1,705.2 L1147.2,705.9 L1152.3,711.0 L1157.3,716.3 L1160.8,720.0 L1206.3,755.2 L1211.4,755.2 L1216.5,755.2 L1221.5,759.3 L1226.6,759.3 L1231.6,759.3 L1236.7,764.1 L1241.7,764.1 L1246.8,764.1 L1251.9,764.1 L1256.9,768.9 L1262.0,768.9 L1267.0,768.9 L1272.1,768.9 L1277.2,774.0 L1282.2,774.0 L1287.3,774.0 L1292.3,774.0 L1297.4,774.0 L1302.4,774.0 L1307.5,768.9 L1312.6,768.9 L1317.6,764.0 L1322.7,758.3 L1327.7,754.6" fill="none" stroke="#3eaa87" stroke-width="4.6" stroke-linejoin="round"/>
<g fill="#3eaa87">
<circle cx="1081.4" cy="705.3" r="5.20"/>
<circle cx="1086.5" cy="700.1" r="5.20"/>
<circle cx="1091.6" cy="700.1" r="5.20"/>
<circle cx="1096.6" cy="700.1" r="5.20"/>
<circle cx="1101.7" cy="700.1" r="5.20"/>
<circle cx="1106.7" cy="700.1" r="5.20"/>
<circle cx="1111.8" cy="700.1" r="5.20"/>
<circle cx="1116.9" cy="700.7" r="5.20"/>
<circle cx="1121.9" cy="705.2" r="5.20"/>
<circle cx="1127.0" cy="705.2" r="5.20"/>
<circle cx="1132.0" cy="705.2" r="5.20"/>
<circle cx="1137.1" cy="705.2" r="5.20"/>
<circle cx="1142.1" cy="705.2" r="5.20"/>
<circle cx="1147.2" cy="705.9" r="5.20"/>
<circle cx="1152.3" cy="711.0" r="5.20"/>
<circle cx="1157.3" cy="716.3" r="5.20"/>
<circle cx="1160.8" cy="720.0" r="5.20"/>
<circle cx="1206.3" cy="755.2" r="5.20"/>
<circle cx="1211.4" cy="755.2" r="5.20"/>
<circle cx="1216.5" cy="755.2" r="5.20"/>
<circle cx="1221.5" cy="759.3" r="5.20"/>
<circle cx="1226.6" cy="759.3" r="5.20"/>
<circle cx="1231.6" cy="759.3" r="5.20"/>
<circle cx="1236.7" cy="764.1" r="5.20"/>
<circle cx="1241.7" cy="764.1" r="5.20"/>
<circle cx="1246.8" cy="764.1" r="5.20"/>
<circle cx="1251.9" cy="764.1" r="5.20"/>
<circle cx="1256.9" cy="768.9" r="5.20"/>
<circle cx="1262.0" cy="768.9" r="5.20"/>
<circle cx="1267.0" cy="768.9" r="5.20"/>
<circle cx="1272.1" cy="768.9" r="5.20"/>
<circle cx="1277.2" cy="774.0" r="5.20"/>
<circle cx="1282.2" cy="774.0" r="5.20"/>
<circle cx="1287.3" cy="774.0" r="5.20"/>
<circle cx="1292.3" cy="774.0" r="5.20"/>
<circle cx="1297.4" cy="774.0" r="5.20"/>
<circle cx="1302.4" cy="774.0" r="5.20"/>
<circle cx="1307.5" cy="768.9" r="5.20"/>
<circle cx="1312.6" cy="768.9" r="5.20"/>
<circle cx="1317.6" cy="764.0" r="5.20"/>
<circle cx="1322.7" cy="758.3" r="5.20"/>
<circle cx="1327.7" cy="754.6" r="5.20"/>
</g>
<path d="M899.8,909.9 L904.9,909.9 L909.9,909.9 L915.0,909.9 L920.0,909.9 L925.1,909.9 L930.1,909.9 L935.2,909.9 L940.3,909.9 L946.1,909.9 L954.4,909.9 L959.5,909.9 L964.5,909.9 L969.6,909.9 L974.7,909.9 L979.7,912.8 L984.8,914.3 L989.8,914.3 L994.9,914.3 L1000.0,914.3 L1005.0,914.3 L1010.1,909.9 L1015.1,909.9 L1020.2,909.9 L1025.2,909.9 L1030.3,909.9 L1035.4,909.9 L1040.4,909.9 L1045.5,909.9 L1050.5,909.9 L1055.6,909.9 L1060.7,909.9 L1065.7,909.9 L1070.8,909.9 L1075.8,909.9 L1080.9,909.9 L1085.9,909.9 L1091.0,909.9 L1096.1,909.9 L1101.1,909.9 L1106.2,909.9 L1111.2,909.9 L1116.3,909.9 L1121.4,914.3 L1124.5,914.3 L1147.8,914.3 L1152.8,914.3 L1157.9,914.3 L1162.9,914.3 L1168.0,914.3 L1173.1,914.3 L1178.1,914.3 L1183.2,914.3 L1188.2,914.3 L1193.3,914.3 L1198.3,914.3 L1201.0,914.3 L1204.4,914.3 L1209.4,914.3 L1214.5,914.3 L1219.5,914.3 L1224.6,914.3 L1229.7,914.3 L1234.7,914.3 L1239.8,914.3 L1243.2,914.3 L1261.0,914.3 L1264.0,914.3 L1291.2,914.3 L1296.2,914.3 L1301.3,914.3 L1306.3,914.3 L1311.4,914.3 L1316.5,914.3 L1321.5,914.3 L1326.6,914.3 L1331.6,914.3 L1336.7,914.3 L1341.7,914.3 L1347.5,914.3" fill="none" stroke="#f8821a" stroke-width="4.6" stroke-linejoin="round"/>
<g fill="#f8821a">
<circle cx="899.8" cy="909.9" r="5.20"/>
<circle cx="904.9" cy="909.9" r="5.20"/>
<circle cx="909.9" cy="909.9" r="5.20"/>
<circle cx="915.0" cy="909.9" r="5.20"/>
<circle cx="920.0" cy="909.9" r="5.20"/>
<circle cx="925.1" cy="909.9" r="5.20"/>
<circle cx="930.1" cy="909.9" r="5.20"/>
<circle cx="935.2" cy="909.9" r="5.20"/>
<circle cx="940.3" cy="909.9" r="5.20"/>
<circle cx="946.1" cy="909.9" r="5.20"/>
<circle cx="954.4" cy="909.9" r="5.20"/>
<circle cx="959.5" cy="909.9" r="5.20"/>
<circle cx="964.5" cy="909.9" r="5.20"/>
<circle cx="969.6" cy="909.9" r="5.20"/>
<circle cx="974.7" cy="909.9" r="5.20"/>
<circle cx="979.7" cy="912.8" r="5.20"/>
<circle cx="984.8" cy="914.3" r="5.20"/>
<circle cx="989.8" cy="914.3" r="5.20"/>
<circle cx="994.9" cy="914.3" r="5.20"/>
<circle cx="1000.0" cy="914.3" r="5.20"/>
<circle cx="1005.0" cy="914.3" r="5.20"/>
<circle cx="1010.1" cy="909.9" r="5.20"/>
<circle cx="1015.1" cy="909.9" r="5.20"/>
<circle cx="1020.2" cy="909.9" r="5.20"/>
<circle cx="1025.2" cy="909.9" r="5.20"/>
<circle cx="1030.3" cy="909.9" r="5.20"/>
<circle cx="1035.4" cy="909.9" r="5.20"/>
<circle cx="1040.4" cy="909.9" r="5.20"/>
<circle cx="1045.5" cy="909.9" r="5.20"/>
<circle cx="1050.5" cy="909.9" r="5.20"/>
<circle cx="1055.6" cy="909.9" r="5.20"/>
<circle cx="1060.7" cy="909.9" r="5.20"/>
<circle cx="1065.7" cy="909.9" r="5.20"/>
<circle cx="1070.8" cy="909.9" r="5.20"/>
<circle cx="1075.8" cy="909.9" r="5.20"/>
<circle cx="1080.9" cy="909.9" r="5.20"/>
<circle cx="1085.9" cy="909.9" r="5.20"/>
<circle cx="1091.0" cy="909.9" r="5.20"/>
<circle cx="1096.1" cy="909.9" r="5.20"/>
<circle cx="1101.1" cy="909.9" r="5.20"/>
<circle cx="1106.2" cy="909.9" r="5.20"/>
<circle cx="1111.2" cy="909.9" r="5.20"/>
<circle cx="1116.3" cy="909.9" r="5.20"/>
<circle cx="1121.4" cy="914.3" r="5.20"/>
<circle cx="1124.5" cy="914.3" r="5.20"/>
<circle cx="1147.8" cy="914.3" r="5.20"/>
<circle cx="1152.8" cy="914.3" r="5.20"/>
<circle cx="1157.9" cy="914.3" r="5.20"/>
<circle cx="1162.9" cy="914.3" r="5.20"/>
<circle cx="1168.0" cy="914.3" r="5.20"/>
<circle cx="1173.1" cy="914.3" r="5.20"/>
<circle cx="1178.1" cy="914.3" r="5.20"/>
<circle cx="1183.2" cy="914.3" r="5.20"/>
<circle cx="1188.2" cy="914.3" r="5.20"/>
<circle cx="1193.3" cy="914.3" r="5.20"/>
<circle cx="1198.3" cy="914.3" r="5.20"/>
<circle cx="1201.0" cy="914.3" r="5.20"/>
<circle cx="1204.4" cy="914.3" r="5.20"/>
<circle cx="1209.4" cy="914.3" r="5.20"/>
<circle cx="1214.5" cy="914.3" r="5.20"/>
<circle cx="1219.5" cy="914.3" r="5.20"/>
<circle cx="1224.6" cy="914.3" r="5.20"/>
<circle cx="1229.7" cy="914.3" r="5.20"/>
<circle cx="1234.7" cy="914.3" r="5.20"/>
<circle cx="1239.8" cy="914.3" r="5.20"/>
<circle cx="1243.2" cy="914.3" r="5.20"/>
<circle cx="1261.0" cy="914.3" r="5.20"/>
<circle cx="1264.0" cy="914.3" r="5.20"/>
<circle cx="1291.2" cy="914.3" r="5.20"/>
<circle cx="1296.2" cy="914.3" r="5.20"/>
<circle cx="1301.3" cy="914.3" r="5.20"/>
<circle cx="1306.3" cy="914.3" r="5.20"/>
<circle cx="1311.4" cy="914.3" r="5.20"/>
<circle cx="1316.5" cy="914.3" r="5.20"/>
<circle cx="1321.5" cy="914.3" r="5.20"/>
<circle cx="1326.6" cy="914.3" r="5.20"/>
<circle cx="1331.6" cy="914.3" r="5.20"/>
<circle cx="1336.7" cy="914.3" r="5.20"/>
<circle cx="1341.7" cy="914.3" r="5.20"/>
<circle cx="1347.5" cy="914.3" r="5.20"/>
</g>
</g>
<g stroke="#000" stroke-width="2.8" stroke-linecap="square" fill="none">
<path d="M171.4,73.9 L171.4,472.0"/>
<path d="M171.4,472.0 L778.4,472.0"/>
<path d="M171.4,73.9 L778.4,73.9"/>
</g>
<g stroke="#000" stroke-width="2.8" fill="none">
<path d="M159.6,73.9 L171.4,73.9"/>
<path d="M159.6,153.5 L171.4,153.5"/>
<path d="M159.6,233.1 L171.4,233.1"/>
<path d="M159.6,312.8 L171.4,312.8"/>
<path d="M159.6,392.4 L171.4,392.4"/>
<path d="M159.6,472.0 L171.4,472.0"/>
<path d="M171.4,472.0 L171.4,483.8"/>
<path d="M323.1,472.0 L323.1,483.8"/>
<path d="M474.9,472.0 L474.9,483.8"/>
<path d="M626.6,472.0 L626.6,483.8"/>
<path d="M778.4,472.0 L778.4,483.8"/>
</g>
<g font-family="DejaVu Sans, sans-serif" font-size="30" text-anchor="end" fill="#000">
<text x="147.2" y="84.8">930</text>
<text x="147.2" y="164.4">925</text>
<text x="147.2" y="244.0">920</text>
<text x="147.2" y="323.7">915</text>
<text x="147.2" y="403.3">910</text>
<text x="147.2" y="482.9">905</text>
</g>
<text font-family="DejaVu Sans, sans-serif" font-size="33.8" text-anchor="middle" transform="translate(68.2,273.9) rotate(-90)">frequency [Hz]</text>
<g stroke="#000" stroke-width="2.8" stroke-linecap="square" fill="none">
<path d="M899.8,73.9 L899.8,472.0"/>
<path d="M899.8,472.0 L1506.8,472.0"/>
<path d="M899.8,73.9 L1506.8,73.9"/>
</g>
<g stroke="#000" stroke-width="2.8" fill="none">
<path d="M888.0,73.9 L899.8,73.9"/>
<path d="M888.0,153.5 L899.8,153.5"/>
<path d="M888.0,233.1 L899.8,233.1"/>
<path d="M888.0,312.8 L899.8,312.8"/>
<path d="M888.0,392.4 L899.8,392.4"/>
<path d="M888.0,472.0 L899.8,472.0"/>
<path d="M899.8,472.0 L899.8,483.8"/>
<path d="M1051.5,472.0 L1051.5,483.8"/>
<path d="M1203.3,472.0 L1203.3,483.8"/>
<path d="M1355.0,472.0 L1355.0,483.8"/>
<path d="M1506.8,472.0 L1506.8,483.8"/>
</g>
<g stroke="#000" stroke-width="2.8" stroke-linecap="square" fill="none">
<path d="M171.4,591.3 L171.4,989.5"/>
<path d="M171.4,989.5 L778.4,989.5"/>
<path d="M171.4,591.3 L778.4,591.3"/>
</g>
<g stroke="#000" stroke-width="2.8" fill="none">
<path d="M159.6,591.3 L171.4,591.3"/>
<path d="M159.6,670.9 L171.4,670.9"/>
<path d="M159.6,750.6 L171.4,750.6"/>
<path d="M159.6,830.2 L171.4,830.2"/>
<path d="M159.6,909.9 L171.4,909.9"/>
<path d="M159.6,989.5 L171.4,989.5"/>
<path d="M171.4,989.5 L171.4,1001.3"/>
<path d="M323.1,989.5 L323.1,1001.3"/>
<path d="M474.9,989.5 L474.9,1001.3"/>
<path d="M626.6,989.5 L626.6,1001.3"/>
<path d="M778.4,989.5 L778.4,1001.3"/>
</g>
<g font-family="DejaVu Sans, sans-serif" font-size="30" text-anchor="end" fill="#000">
<text x="147.2" y="602.2">930</text>
<text x="147.2" y="681.8">925</text>
<text x="147.2" y="761.5">920</text>
<text x="147.2" y="841.1">915</text>
<text x="147.2" y="920.8">910</text>
<text x="147.2" y="1000.4">905</text>
</g>
<text font-family="DejaVu Sans, sans-serif" font-size="33.8" text-anchor="middle" transform="translate(68.2,791.4) rotate(-90)">frequency [Hz]</text>
<g font-family="DejaVu Sans, sans-serif" font-size="30" text-anchor="middle" fill="#000">
<text x="171.4" y="1035.9">-10</text>
<text x="323.1" y="1035.9">0</text>
<text x="474.9" y="1035.9">10</text>
<text x="626.6" y="1035.9">20</text>
<text x="778.4" y="1035.9">30</text>
</g>
<text font-family="DejaVu Sans, sans-serif" font-size="33.3" text-anchor="middle" x="474.9" y="1082.6">time [s]</text>
<g stroke="#000" stroke-width="2.8" stroke-linecap="square" fill="none">
<path d="M899.8,591.3 L899.8,989.5"/>
<path d="M899.8,989.5 L1506.8,989.5"/>
<path d="M899.8,591.3 L1506.8,591.3"/>
</g>
<g stroke="#000" stroke-width="2.8" fill="none">
<path d="M888.0,591.3 L899.8,591.3"/>
<path d="M888.0,670.9 L899.8,670.9"/>
<path d="M888.0,750.6 L899.8,750.6"/>
<path d="M888.0,830.2 L899.8,830.2"/>
<path d="M888.0,909.9 L899.8,909.9"/>
<path d="M888.0,989.5 L899.8,989.5"/>
<path d="M899.8,989.5 L899.8,1001.3"/>
<path d="M1051.5,989.5 L1051.5,1001.3"/>
<path d="M1203.3,989.5 L1203.3,1001.3"/>
<path d="M1355.0,989.5 L1355.0,1001.3"/>
<path d="M1506.8,989.5 L1506.8,1001.3"/>
</g>
<g font-family="DejaVu Sans, sans-serif" font-size="30" text-anchor="middle" fill="#000">
<text x="899.8" y="1035.9">-10</text>
<text x="1051.5" y="1035.9">0</text>
<text x="1203.3" y="1035.9">10</text>
<text x="1355.0" y="1035.9">20</text>
<text x="1506.8" y="1035.9">30</text>
</g>
<text font-family="DejaVu Sans, sans-serif" font-size="33.3" text-anchor="middle" x="1203.3" y="1082.6">time [s]</text>
<g stroke="#808080" stroke-width="3.1">
<path d="M323.1,43 L323.1,989.5"/>
<path d="M474.9,43 L474.9,989.5"/>
<path d="M626.6,43 L626.6,989.5"/>
<path d="M778.4,43 L778.4,989.5"/>
<path d="M1051.5,43 L1051.5,989.5"/>
<path d="M1203.3,43 L1203.3,989.5"/>
<path d="M1355.0,43 L1355.0,989.5"/>
<path d="M1506.8,43 L1506.8,989.5"/>
</g>
<rect x="321.8" y="9.0" width="458.2" height="34.0" fill="#808080"/>
<rect x="473.4" y="9.0" width="152.0" height="34.0" fill="#000"/>
<rect x="1050.1" y="9.0" width="458.2" height="34.0" fill="#808080"/>
<rect x="1201.8" y="9.0" width="152.0" height="34.0" fill="#000"/>
<g font-family="Liberation Sans, Arial, sans-serif" font-weight="bold" font-size="34.6" fill="#000">
<text x="17.0" y="39.4">A</text>
<text x="846.0" y="39.4">B</text>
<text x="16.5" y="555.0">C</text>
<text x="845.0" y="555.0">D</text>
</g>
</svg>
</body></html>
